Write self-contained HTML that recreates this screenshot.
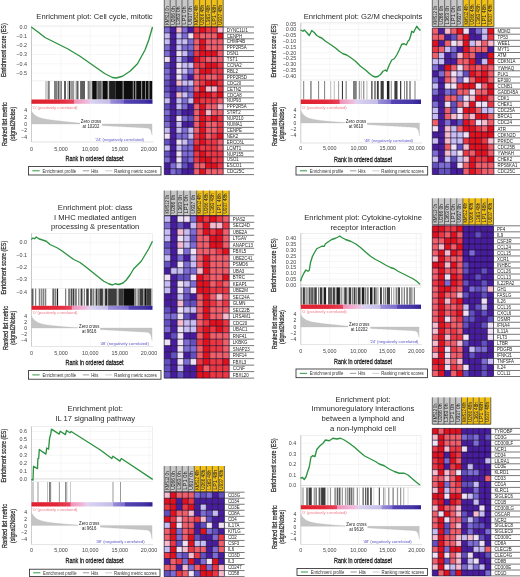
<!DOCTYPE html><html><head><meta charset="utf-8"><style>html,body{margin:0;padding:0;background:#fff;}svg{display:block;will-change:transform;filter:blur(0.3px);font-family:"Liberation Sans",sans-serif;}</style></head><body>
<svg width="520" height="577" viewBox="0 0 520 577">
<rect x="0" y="0" width="520" height="577" fill="#fff"/>
<text x="94.50" y="18.70" font-size="7.65" fill="#2a2a2a" text-anchor="middle" >Enrichment plot: Cell cycle, mitotic</text>
<rect x="31.50" y="25.90" width="121.00" height="55.00" fill="#fff" stroke="#e4e4e4" stroke-width="0.6"/>
<line x1="60.90" y1="25.90" x2="60.90" y2="80.90" stroke="#f0f0f0" stroke-width="0.6"/>
<line x1="90.30" y1="25.90" x2="90.30" y2="80.90" stroke="#f0f0f0" stroke-width="0.6"/>
<line x1="119.70" y1="25.90" x2="119.70" y2="80.90" stroke="#f0f0f0" stroke-width="0.6"/>
<line x1="149.10" y1="25.90" x2="149.10" y2="80.90" stroke="#f0f0f0" stroke-width="0.6"/>
<line x1="31.50" y1="26.60" x2="152.50" y2="26.60" stroke="#f0f0f0" stroke-width="0.6"/>
<text x="27.00" y="28.50" font-size="5.4" fill="#444" text-anchor="end" >0.0</text>
<line x1="31.50" y1="35.90" x2="152.50" y2="35.90" stroke="#f0f0f0" stroke-width="0.6"/>
<text x="27.00" y="37.80" font-size="5.4" fill="#444" text-anchor="end" >−0.1</text>
<line x1="31.50" y1="45.20" x2="152.50" y2="45.20" stroke="#f0f0f0" stroke-width="0.6"/>
<text x="27.00" y="47.10" font-size="5.4" fill="#444" text-anchor="end" >−0.2</text>
<line x1="31.50" y1="54.50" x2="152.50" y2="54.50" stroke="#f0f0f0" stroke-width="0.6"/>
<text x="27.00" y="56.40" font-size="5.4" fill="#444" text-anchor="end" >−0.3</text>
<line x1="31.50" y1="63.80" x2="152.50" y2="63.80" stroke="#f0f0f0" stroke-width="0.6"/>
<text x="27.00" y="65.70" font-size="5.4" fill="#444" text-anchor="end" >−0.4</text>
<line x1="31.50" y1="73.10" x2="152.50" y2="73.10" stroke="#f0f0f0" stroke-width="0.6"/>
<text x="27.00" y="75.00" font-size="5.4" fill="#444" text-anchor="end" >−0.5</text>
<line x1="31.50" y1="25.90" x2="31.50" y2="142.00" stroke="#b8b8b8" stroke-width="0.7"/>
<polyline points="31.25,27.00 38.00,32.00 45.00,37.50 55.00,42.50 67.50,48.75 80.00,56.25 92.50,65.00 105.00,73.75 112.50,77.50 116.25,78.00 122.50,76.25 130.00,71.25 137.50,63.75 145.00,50.00 148.75,40.00 152.50,27.00" fill="none" stroke="#2c9440" stroke-width="1.35" stroke-linejoin="round"/>
<rect x="45.00" y="81.00" width="2.50" height="18.50" fill="#cfcfcf"/>
<rect x="47.75" y="81.00" width="2.00" height="18.50" fill="#808080"/>
<rect x="54.00" y="81.00" width="3.00" height="18.50" fill="#808080"/>
<rect x="57.50" y="81.00" width="2.00" height="18.50" fill="#5e5e5e"/>
<rect x="60.25" y="81.00" width="1.75" height="18.50" fill="#808080"/>
<rect x="64.00" y="81.00" width="2.00" height="18.50" fill="#5e5e5e"/>
<rect x="67.20" y="81.00" width="1.10" height="18.50" fill="#b4b4b4"/>
<rect x="68.80" y="81.00" width="1.10" height="18.50" fill="#0e0e0e"/>
<rect x="70.20" y="81.00" width="4.00" height="18.50" fill="#999"/>
<rect x="75.00" y="81.00" width="0.80" height="18.50" fill="#cfcfcf"/>
<rect x="76.40" y="81.00" width="2.10" height="18.50" fill="#5e5e5e"/>
<rect x="80.10" y="81.00" width="4.90" height="18.50" fill="#5e5e5e"/>
<rect x="87.60" y="81.00" width="2.20" height="18.50" fill="#808080"/>
<rect x="89.80" y="81.00" width="2.00" height="18.50" fill="#b4b4b4"/>
<rect x="92.20" y="81.00" width="4.60" height="18.50" fill="#0e0e0e"/>
<rect x="96.80" y="81.00" width="1.20" height="18.50" fill="#808080"/>
<rect x="98.00" y="81.00" width="3.70" height="18.50" fill="#5e5e5e"/>
<rect x="101.70" y="81.00" width="1.20" height="18.50" fill="#808080"/>
<rect x="102.90" y="81.00" width="4.90" height="18.50" fill="#0e0e0e"/>
<rect x="107.80" y="81.00" width="1.30" height="18.50" fill="#b4b4b4"/>
<rect x="109.10" y="81.00" width="6.70" height="18.50" fill="#1e1e1e"/>
<rect x="115.80" y="81.00" width="7.00" height="18.50" fill="#0e0e0e"/>
<rect x="122.80" y="81.00" width="0.80" height="18.50" fill="#808080"/>
<rect x="123.60" y="81.00" width="9.30" height="18.50" fill="#0e0e0e"/>
<rect x="132.90" y="81.00" width="1.00" height="18.50" fill="#808080"/>
<rect x="133.90" y="81.00" width="1.60" height="18.50" fill="#0e0e0e"/>
<rect x="135.50" y="81.00" width="0.70" height="18.50" fill="#808080"/>
<rect x="136.20" y="81.00" width="5.20" height="18.50" fill="#0e0e0e"/>
<rect x="141.40" y="81.00" width="0.70" height="18.50" fill="#808080"/>
<rect x="142.10" y="81.00" width="3.00" height="18.50" fill="#0e0e0e"/>
<rect x="145.10" y="81.00" width="0.70" height="18.50" fill="#808080"/>
<rect x="145.80" y="81.00" width="2.90" height="18.50" fill="#0e0e0e"/>
<rect x="148.70" y="81.00" width="0.70" height="18.50" fill="#808080"/>
<rect x="149.40" y="81.00" width="2.90" height="18.50" fill="#0e0e0e"/>
<defs><linearGradient id="p1cb" x1="0" x2="1" y1="0" y2="0"><stop offset="0" stop-color="#e0202e"/><stop offset="0.22749999999999998" stop-color="#e2283a"/><stop offset="0.35" stop-color="#e6445c"/><stop offset="0.355" stop-color="#f090b8"/><stop offset="0.48" stop-color="#eec4e2"/><stop offset="0.485" stop-color="#dcd4f2"/><stop offset="0.65" stop-color="#c4bce6"/><stop offset="0.655" stop-color="#9a90d8"/><stop offset="0.76" stop-color="#7c6ccc"/><stop offset="0.765" stop-color="#5444b4"/><stop offset="0.93" stop-color="#4434a4"/><stop offset="1" stop-color="#30209a"/></linearGradient></defs>
<rect x="31.50" y="99.50" width="121.00" height="4.30" fill="url(#p1cb)"/>
<text x="32.50" y="108.90" font-size="4.2" fill="#f07888" text-anchor="start" >'0' (positively correlated)</text>
<line x1="31.50" y1="142.00" x2="153.50" y2="142.00" stroke="#d0d0d0" stroke-width="0.6"/>
<line x1="60.90" y1="103.80" x2="60.90" y2="142.00" stroke="#f0f0f0" stroke-width="0.5"/>
<line x1="90.30" y1="103.80" x2="90.30" y2="142.00" stroke="#f0f0f0" stroke-width="0.5"/>
<line x1="119.70" y1="103.80" x2="119.70" y2="142.00" stroke="#f0f0f0" stroke-width="0.5"/>
<polygon points="31.50,124.00 31.50,111.08 31.90,111.72 32.30,112.30 32.71,112.84 33.11,113.33 33.51,113.78 33.91,114.19 34.31,114.58 34.71,114.93 35.12,115.25 35.52,115.56 35.92,115.83 36.32,116.09 36.72,116.33 37.13,116.55 37.53,116.75 37.93,116.95 38.33,117.13 38.73,117.29 39.13,117.45 39.54,117.60 39.94,117.73 40.34,117.86 40.74,117.99 41.14,118.10 41.55,118.21 41.95,118.32 42.35,118.42 42.75,118.51 43.15,118.60 43.55,118.69 43.96,118.77 44.36,118.85 44.76,118.93 45.16,119.01 45.56,119.08 45.96,119.15 46.37,119.22 46.77,119.28 47.17,119.35 47.57,119.41 47.97,119.47 48.38,119.53 48.78,119.59 49.18,119.65 49.58,119.71 49.98,119.77 50.38,119.82 50.79,119.88 51.19,119.93 51.59,119.98 51.99,120.04 52.39,120.09 52.80,120.14 53.20,120.19 53.60,120.24 54.00,120.29 54.40,120.34 54.80,120.39 55.21,120.44 55.61,120.49 56.01,120.54 56.41,120.59 56.81,120.64 57.22,120.69 57.62,120.73 58.02,120.78 58.42,120.83 58.82,120.87 59.22,120.92 59.63,120.97 60.03,121.01 60.43,121.06 60.83,121.11 61.23,121.15 61.63,121.20 62.04,121.24 62.44,121.29 62.84,121.33 63.24,121.38 63.64,121.42 64.05,121.47 64.45,121.51 64.85,121.56 65.25,121.60 65.65,121.65 66.05,121.69 66.46,121.74 66.86,121.78 67.26,121.82 67.66,121.87 68.06,121.91 68.47,121.95 68.87,121.99 69.27,122.04 69.67,122.08 70.07,122.12 70.47,122.16 70.88,122.21 71.28,122.25 71.68,122.29 72.08,122.33 72.48,122.37 72.89,122.41 73.29,122.46 73.69,122.50 74.09,122.54 74.49,122.58 74.89,122.62 75.30,122.66 75.70,122.70 76.10,122.74 76.50,122.78 76.90,122.82 77.31,122.86 77.71,122.89 78.11,122.93 78.51,122.97 78.91,123.01 79.31,123.05 79.72,123.08 80.12,123.12 80.52,123.16 80.92,123.20 81.32,123.23 81.72,123.27 82.13,123.30 82.53,123.34 82.93,123.38 83.33,123.41 83.73,123.45 84.14,123.48 84.54,123.51 84.94,123.55 85.34,123.58 85.74,123.61 86.14,123.65 86.55,123.68 86.95,123.71 87.35,123.74 87.75,123.77 88.15,123.80 88.56,123.83 88.96,123.86 89.36,123.88 89.76,123.91 90.16,123.93 90.56,123.96 90.97,123.98 91.37,124.00 91.77,125.04 92.17,125.06 92.57,125.08 92.98,125.10 93.38,125.12 93.78,125.14 94.18,125.16 94.58,125.19 94.98,125.21 95.39,125.23 95.79,125.25 96.19,125.27 96.59,125.29 96.99,125.31 97.40,125.34 97.80,125.36 98.20,125.38 98.60,125.40 99.00,125.42 99.40,125.44 99.81,125.46 100.21,125.49 100.61,125.51 101.01,125.53 101.41,125.55 101.81,125.57 102.22,125.59 102.62,125.61 103.02,125.64 103.42,125.66 103.82,125.68 104.23,125.70 104.63,125.72 105.03,125.74 105.43,125.76 105.83,125.79 106.23,125.81 106.64,125.83 107.04,125.85 107.44,125.87 107.84,125.89 108.24,125.91 108.65,125.94 109.05,125.96 109.45,125.98 109.85,126.00 110.25,126.02 110.65,126.04 111.06,126.06 111.46,126.09 111.86,126.11 112.26,126.13 112.66,126.15 113.07,126.17 113.47,126.19 113.87,126.21 114.27,126.24 114.67,126.26 115.07,126.28 115.48,126.30 115.88,126.32 116.28,126.34 116.68,126.36 117.08,126.39 117.49,126.41 117.89,126.43 118.29,126.45 118.69,126.47 119.09,126.49 119.49,126.51 119.90,126.54 120.30,126.56 120.70,126.58 121.10,126.60 121.50,126.62 121.91,126.64 122.31,126.66 122.71,126.69 123.11,126.71 123.51,126.73 123.91,126.75 124.32,126.77 124.72,126.79 125.12,126.81 125.52,126.84 125.92,126.86 126.32,126.88 126.73,126.90 127.13,126.92 127.53,126.94 127.93,126.96 128.33,126.99 128.74,127.01 129.14,127.03 129.54,127.05 129.94,127.07 130.34,127.09 130.74,127.11 131.15,127.14 131.55,127.16 131.95,127.18 132.35,127.20 132.75,127.22 133.16,127.24 133.56,127.26 133.96,127.29 134.36,127.31 134.76,127.33 135.16,127.35 135.57,127.37 135.97,127.39 136.37,127.41 136.77,127.44 137.17,127.46 137.58,127.48 137.98,127.50 138.38,127.52 138.78,127.54 139.18,127.56 139.58,127.59 139.99,127.61 140.39,127.63 140.79,127.65 141.19,127.67 141.59,127.69 141.99,127.72 142.40,127.74 142.80,127.76 143.20,127.78 143.60,127.81 144.00,127.83 144.41,127.85 144.81,127.88 145.21,127.91 145.61,127.94 146.01,127.97 146.41,128.01 146.82,128.05 147.22,128.11 147.62,128.17 148.02,128.26 148.42,128.37 148.83,128.52 149.23,128.72 149.63,129.00 150.03,129.37 150.43,129.90 150.83,130.63 151.24,131.64 151.64,133.06 152.04,135.05 152.04,124.00" fill="#c4c4c4" stroke="#bbb" stroke-width="0.3"/>
<text x="27.00" y="112.40" font-size="5.0" fill="#333" text-anchor="end" >4</text>
<text x="27.00" y="119.05" font-size="5.0" fill="#333" text-anchor="end" >2</text>
<text x="27.00" y="125.70" font-size="5.0" fill="#333" text-anchor="end" >0</text>
<text x="27.00" y="132.35" font-size="5.0" fill="#333" text-anchor="end" >−2</text>
<text x="27.00" y="139.00" font-size="5.0" fill="#333" text-anchor="end" >−4</text>
<rect x="80.00" y="117.90" width="22" height="10.6" fill="#fff"/>
<text transform="translate(91.00,122.50) scale(0.8,1)" font-size="5.4" fill="#222" text-anchor="middle">Zero cross</text>
<text transform="translate(91.00,127.70) scale(0.8,1)" font-size="5.4" fill="#222" text-anchor="middle">at 10202</text>
<text x="144.00" y="141.30" font-size="4.2" fill="#5a54c8" text-anchor="end" >'24' (negatively correlated)</text>
<text x="31.50" y="151.10" font-size="5.4" fill="#444" text-anchor="middle" >0</text>
<text x="60.90" y="151.10" font-size="5.4" fill="#444" text-anchor="middle" >5,000</text>
<text x="90.30" y="151.10" font-size="5.4" fill="#444" text-anchor="middle" >10,000</text>
<text x="119.70" y="151.10" font-size="5.4" fill="#444" text-anchor="middle" >15,000</text>
<text x="149.10" y="151.10" font-size="5.4" fill="#444" text-anchor="middle" >20,000</text>
<text transform="translate(94.60,161.40) scale(0.68,1)" font-size="8" fill="#222" stroke="#222" stroke-width="0.3" text-anchor="middle">Rank in ordered dataset</text>
<text transform="translate(6.00,50.20) rotate(-90) scale(0.67,1)" font-size="8" fill="#2a2a2a" stroke="#2a2a2a" stroke-width="0.25" text-anchor="middle">Enrichment score (ES)</text>
<text transform="translate(6.80,124.20) rotate(-90) scale(0.69,1)" font-size="8" fill="#2a2a2a" stroke="#2a2a2a" stroke-width="0.25" text-anchor="middle">Ranked list metric</text>
<text transform="translate(14.50,123.70) rotate(-90) scale(0.665,1)" font-size="8" fill="#2a2a2a" stroke="#2a2a2a" stroke-width="0.25" text-anchor="middle">(signal2Noise)</text>
<rect x="28.50" y="166.60" width="132.50" height="8.40" fill="#fff" stroke="#222" stroke-width="0.8"/>
<line x1="32.34" y1="170.80" x2="39.63" y2="170.80" stroke="#2e9a44" stroke-width="1"/>
<text transform="translate(42.41,172.50) scale(0.87,1)" font-size="4.8" fill="#333">Enrichment profile</text>
<line x1="82.82" y1="170.80" x2="89.19" y2="170.80" stroke="#555" stroke-width="0.6"/>
<text transform="translate(91.17,172.50) scale(0.87,1)" font-size="4.8" fill="#333">Hits</text>
<line x1="105.35" y1="170.80" x2="112.37" y2="170.80" stroke="#aaa" stroke-width="0.6"/>
<text transform="translate(114.36,172.50) scale(0.9,1)" font-size="4.8" fill="#333">Ranking metric scores</text>
<text x="363.00" y="18.50" font-size="7.65" fill="#2a2a2a" text-anchor="middle" >Enrichment plot: G2/M checkpoints</text>
<rect x="300.80" y="22.80" width="120.20" height="57.20" fill="#fff" stroke="#e4e4e4" stroke-width="0.6"/>
<line x1="329.75" y1="22.80" x2="329.75" y2="80.00" stroke="#f0f0f0" stroke-width="0.6"/>
<line x1="358.70" y1="22.80" x2="358.70" y2="80.00" stroke="#f0f0f0" stroke-width="0.6"/>
<line x1="387.65" y1="22.80" x2="387.65" y2="80.00" stroke="#f0f0f0" stroke-width="0.6"/>
<line x1="416.60" y1="22.80" x2="416.60" y2="80.00" stroke="#f0f0f0" stroke-width="0.6"/>
<line x1="300.80" y1="23.75" x2="421.00" y2="23.75" stroke="#f0f0f0" stroke-width="0.6"/>
<text x="296.30" y="25.65" font-size="5.4" fill="#444" text-anchor="end" >0.05</text>
<line x1="300.80" y1="29.54" x2="421.00" y2="29.54" stroke="#f0f0f0" stroke-width="0.6"/>
<text x="296.30" y="31.44" font-size="5.4" fill="#444" text-anchor="end" >0.00</text>
<line x1="300.80" y1="35.34" x2="421.00" y2="35.34" stroke="#f0f0f0" stroke-width="0.6"/>
<text x="296.30" y="37.24" font-size="5.4" fill="#444" text-anchor="end" >−0.05</text>
<line x1="300.80" y1="41.13" x2="421.00" y2="41.13" stroke="#f0f0f0" stroke-width="0.6"/>
<text x="296.30" y="43.03" font-size="5.4" fill="#444" text-anchor="end" >−0.10</text>
<line x1="300.80" y1="46.93" x2="421.00" y2="46.93" stroke="#f0f0f0" stroke-width="0.6"/>
<text x="296.30" y="48.83" font-size="5.4" fill="#444" text-anchor="end" >−0.15</text>
<line x1="300.80" y1="52.72" x2="421.00" y2="52.72" stroke="#f0f0f0" stroke-width="0.6"/>
<text x="296.30" y="54.62" font-size="5.4" fill="#444" text-anchor="end" >−0.20</text>
<line x1="300.80" y1="58.51" x2="421.00" y2="58.51" stroke="#f0f0f0" stroke-width="0.6"/>
<text x="296.30" y="60.41" font-size="5.4" fill="#444" text-anchor="end" >−0.25</text>
<line x1="300.80" y1="64.31" x2="421.00" y2="64.31" stroke="#f0f0f0" stroke-width="0.6"/>
<text x="296.30" y="66.21" font-size="5.4" fill="#444" text-anchor="end" >−0.30</text>
<line x1="300.80" y1="70.10" x2="421.00" y2="70.10" stroke="#f0f0f0" stroke-width="0.6"/>
<text x="296.30" y="72.00" font-size="5.4" fill="#444" text-anchor="end" >−0.35</text>
<line x1="300.80" y1="75.90" x2="421.00" y2="75.90" stroke="#f0f0f0" stroke-width="0.6"/>
<text x="296.30" y="77.80" font-size="5.4" fill="#444" text-anchor="end" >−0.40</text>
<line x1="300.80" y1="22.80" x2="300.80" y2="143.00" stroke="#b8b8b8" stroke-width="0.7"/>
<polyline points="300.50,30.00 303.00,31.25 304.25,30.00 306.75,32.50 309.25,35.50 311.75,30.50 314.25,32.50 316.75,35.50 319.25,37.00 321.75,38.00 325.50,41.25 330.50,44.50 335.50,48.00 339.25,51.25 343.00,53.75 346.75,55.00 350.50,57.50 355.50,61.25 360.50,66.25 365.50,70.00 370.50,74.50 373.00,76.25 375.50,77.00 378.00,76.50 380.50,74.50 383.00,71.25 385.50,70.00 386.75,71.25 389.25,65.00 391.75,60.00 394.25,58.75 396.75,55.00 399.25,50.00 401.75,44.25 404.25,43.75 406.25,45.00 408.00,41.25 409.25,40.00 410.50,36.25 411.75,31.25 413.50,32.50 414.75,30.00 416.75,26.25 418.50,28.75 420.50,30.50" fill="none" stroke="#2c9440" stroke-width="1.35" stroke-linejoin="round"/>
<rect x="303.20" y="81.00" width="1.00" height="18.50" fill="#808080"/>
<rect x="310.40" y="81.00" width="1.10" height="18.50" fill="#5e5e5e"/>
<rect x="318.10" y="81.00" width="1.00" height="18.50" fill="#808080"/>
<rect x="324.10" y="81.00" width="1.00" height="18.50" fill="#808080"/>
<rect x="330.30" y="81.00" width="0.90" height="18.50" fill="#b4b4b4"/>
<rect x="333.80" y="81.00" width="0.90" height="18.50" fill="#b4b4b4"/>
<rect x="338.10" y="81.00" width="1.00" height="18.50" fill="#999"/>
<rect x="341.90" y="81.00" width="1.10" height="18.50" fill="#3c3c3c"/>
<rect x="345.60" y="81.00" width="1.10" height="18.50" fill="#808080"/>
<rect x="353.00" y="81.00" width="3.75" height="18.50" fill="#808080"/>
<rect x="358.80" y="81.00" width="1.00" height="18.50" fill="#808080"/>
<rect x="360.80" y="81.00" width="0.90" height="18.50" fill="#b4b4b4"/>
<rect x="363.20" y="81.00" width="1.10" height="18.50" fill="#808080"/>
<rect x="366.50" y="81.00" width="0.90" height="18.50" fill="#b4b4b4"/>
<rect x="371.25" y="81.00" width="1.25" height="18.50" fill="#3c3c3c"/>
<rect x="374.50" y="81.00" width="1.00" height="18.50" fill="#1e1e1e"/>
<rect x="376.90" y="81.00" width="1.85" height="18.50" fill="#3c3c3c"/>
<rect x="380.60" y="81.00" width="3.15" height="18.50" fill="#3c3c3c"/>
<rect x="386.90" y="81.00" width="2.50" height="18.50" fill="#1e1e1e"/>
<rect x="390.80" y="81.00" width="0.90" height="18.50" fill="#808080"/>
<rect x="394.40" y="81.00" width="3.10" height="18.50" fill="#3c3c3c"/>
<rect x="400.00" y="81.00" width="1.25" height="18.50" fill="#3c3c3c"/>
<rect x="404.00" y="81.00" width="0.90" height="18.50" fill="#808080"/>
<rect x="406.40" y="81.00" width="1.00" height="18.50" fill="#3c3c3c"/>
<rect x="409.50" y="81.00" width="1.00" height="18.50" fill="#3c3c3c"/>
<rect x="414.50" y="81.00" width="1.00" height="18.50" fill="#808080"/>
<defs><linearGradient id="p2cb" x1="0" x2="1" y1="0" y2="0"><stop offset="0" stop-color="#e0202e"/><stop offset="0.20800000000000002" stop-color="#e2283a"/><stop offset="0.32" stop-color="#e6445c"/><stop offset="0.325" stop-color="#f090b8"/><stop offset="0.45" stop-color="#eec4e2"/><stop offset="0.455" stop-color="#dcd4f2"/><stop offset="0.64" stop-color="#c4bce6"/><stop offset="0.645" stop-color="#9a90d8"/><stop offset="0.75" stop-color="#7c6ccc"/><stop offset="0.755" stop-color="#5444b4"/><stop offset="0.93" stop-color="#4434a4"/><stop offset="1" stop-color="#30209a"/></linearGradient></defs>
<rect x="300.80" y="99.50" width="120.20" height="4.50" fill="url(#p2cb)"/>
<text x="301.80" y="109.40" font-size="4.2" fill="#f07888" text-anchor="start" >'0' (positively correlated)</text>
<line x1="300.80" y1="143.00" x2="422.00" y2="143.00" stroke="#d0d0d0" stroke-width="0.6"/>
<line x1="329.75" y1="104.00" x2="329.75" y2="143.00" stroke="#f0f0f0" stroke-width="0.5"/>
<line x1="358.70" y1="104.00" x2="358.70" y2="143.00" stroke="#f0f0f0" stroke-width="0.5"/>
<line x1="387.65" y1="104.00" x2="387.65" y2="143.00" stroke="#f0f0f0" stroke-width="0.5"/>
<polygon points="300.80,123.00 300.80,110.84 301.20,111.55 301.59,112.20 301.99,112.79 302.38,113.34 302.78,113.84 303.17,114.31 303.57,114.73 303.97,115.12 304.36,115.48 304.76,115.82 305.15,116.12 305.55,116.41 305.94,116.67 306.34,116.91 306.73,117.14 307.13,117.35 307.53,117.54 307.92,117.73 308.32,117.90 308.71,118.05 309.11,118.20 309.50,118.34 309.90,118.47 310.30,118.60 310.69,118.71 311.09,118.82 311.48,118.93 311.88,119.02 312.27,119.12 312.67,119.21 313.07,119.29 313.46,119.37 313.86,119.45 314.25,119.53 314.65,119.60 315.04,119.67 315.44,119.73 315.83,119.80 316.23,119.86 316.63,119.92 317.02,119.98 317.42,120.04 317.81,120.09 318.21,120.15 318.60,120.20 319.00,120.25 319.40,120.30 319.79,120.35 320.19,120.40 320.58,120.45 320.98,120.50 321.37,120.54 321.77,120.59 322.17,120.63 322.56,120.68 322.96,120.72 323.35,120.76 323.75,120.81 324.14,120.85 324.54,120.89 324.93,120.93 325.33,120.97 325.73,121.01 326.12,121.05 326.52,121.09 326.91,121.13 327.31,121.17 327.70,121.21 328.10,121.24 328.50,121.28 328.89,121.32 329.29,121.35 329.68,121.39 330.08,121.43 330.47,121.46 330.87,121.50 331.27,121.53 331.66,121.57 332.06,121.60 332.45,121.64 332.85,121.67 333.24,121.70 333.64,121.74 334.03,121.77 334.43,121.80 334.83,121.84 335.22,121.87 335.62,121.90 336.01,121.93 336.41,121.96 336.80,121.99 337.20,122.02 337.60,122.05 337.99,122.08 338.39,122.11 338.78,122.14 339.18,122.17 339.57,122.20 339.97,122.23 340.37,122.25 340.76,122.28 341.16,122.31 341.55,122.34 341.95,122.36 342.34,122.39 342.74,122.41 343.13,122.44 343.53,122.46 343.93,122.49 344.32,122.51 344.72,122.54 345.11,122.56 345.51,122.58 345.90,122.60 346.30,122.63 346.70,122.65 347.09,122.67 347.49,122.69 347.88,122.71 348.28,122.73 348.67,122.75 349.07,122.77 349.46,122.79 349.86,122.80 350.26,122.82 350.65,122.84 351.05,122.86 351.44,122.87 351.84,122.89 352.23,122.90 352.63,122.91 353.03,122.93 353.42,122.94 353.82,122.95 354.21,122.96 354.61,122.97 355.00,122.98 355.40,122.99 355.80,122.99 356.19,123.00 356.59,123.97 356.98,123.99 357.38,124.01 357.77,124.04 358.17,124.06 358.56,124.08 358.96,124.11 359.36,124.13 359.75,124.15 360.15,124.18 360.54,124.20 360.94,124.22 361.33,124.25 361.73,124.27 362.13,124.29 362.52,124.31 362.92,124.34 363.31,124.36 363.71,124.38 364.10,124.41 364.50,124.43 364.90,124.45 365.29,124.48 365.69,124.50 366.08,124.52 366.48,124.55 366.87,124.57 367.27,124.59 367.66,124.62 368.06,124.64 368.46,124.66 368.85,124.68 369.25,124.71 369.64,124.73 370.04,124.75 370.43,124.78 370.83,124.80 371.23,124.82 371.62,124.85 372.02,124.87 372.41,124.89 372.81,124.92 373.20,124.94 373.60,124.96 374.00,124.98 374.39,125.01 374.79,125.03 375.18,125.05 375.58,125.08 375.97,125.10 376.37,125.12 376.76,125.15 377.16,125.17 377.56,125.19 377.95,125.22 378.35,125.24 378.74,125.26 379.14,125.28 379.53,125.31 379.93,125.33 380.33,125.35 380.72,125.38 381.12,125.40 381.51,125.42 381.91,125.45 382.30,125.47 382.70,125.49 383.10,125.52 383.49,125.54 383.89,125.56 384.28,125.58 384.68,125.61 385.07,125.63 385.47,125.65 385.86,125.68 386.26,125.70 386.66,125.72 387.05,125.75 387.45,125.77 387.84,125.79 388.24,125.82 388.63,125.84 389.03,125.86 389.43,125.89 389.82,125.91 390.22,125.93 390.61,125.95 391.01,125.98 391.40,126.00 391.80,126.02 392.20,126.05 392.59,126.07 392.99,126.09 393.38,126.12 393.78,126.14 394.17,126.16 394.57,126.19 394.96,126.21 395.36,126.23 395.76,126.25 396.15,126.28 396.55,126.30 396.94,126.32 397.34,126.35 397.73,126.37 398.13,126.39 398.53,126.42 398.92,126.44 399.32,126.46 399.71,126.49 400.11,126.51 400.50,126.53 400.90,126.55 401.30,126.58 401.69,126.60 402.09,126.62 402.48,126.65 402.88,126.67 403.27,126.69 403.67,126.72 404.06,126.74 404.46,126.76 404.86,126.79 405.25,126.81 405.65,126.83 406.04,126.85 406.44,126.88 406.83,126.90 407.23,126.92 407.63,126.95 408.02,126.97 408.42,126.99 408.81,127.02 409.21,127.04 409.60,127.06 410.00,127.09 410.40,127.11 410.79,127.14 411.19,127.16 411.58,127.19 411.98,127.21 412.37,127.24 412.77,127.27 413.16,127.31 413.56,127.34 413.96,127.39 414.35,127.44 414.75,127.50 415.14,127.58 415.54,127.68 415.93,127.82 416.33,128.00 416.73,128.24 417.12,128.57 417.52,129.03 417.91,129.67 418.31,130.56 418.70,131.79 419.10,133.53 419.50,135.96 419.50,123.00" fill="#c4c4c4" stroke="#bbb" stroke-width="0.3"/>
<text x="296.30" y="111.80" font-size="5.0" fill="#333" text-anchor="end" >4</text>
<text x="296.30" y="118.20" font-size="5.0" fill="#333" text-anchor="end" >2</text>
<text x="296.30" y="124.60" font-size="5.0" fill="#333" text-anchor="end" >0</text>
<text x="296.30" y="131.00" font-size="5.0" fill="#333" text-anchor="end" >−2</text>
<text x="296.30" y="137.40" font-size="5.0" fill="#333" text-anchor="end" >−4</text>
<rect x="345.00" y="118.60" width="22" height="10.6" fill="#fff"/>
<text transform="translate(356.00,123.20) scale(0.8,1)" font-size="5.4" fill="#222" text-anchor="middle">Zero cross</text>
<text transform="translate(356.00,128.40) scale(0.8,1)" font-size="5.4" fill="#222" text-anchor="middle">at 9610</text>
<text x="413.00" y="141.50" font-size="4.2" fill="#5a54c8" text-anchor="end" >'48' (negatively correlated)</text>
<text x="300.80" y="150.00" font-size="5.4" fill="#444" text-anchor="middle" >0</text>
<text x="329.75" y="150.00" font-size="5.4" fill="#444" text-anchor="middle" >5,000</text>
<text x="358.70" y="150.00" font-size="5.4" fill="#444" text-anchor="middle" >10,000</text>
<text x="387.65" y="150.00" font-size="5.4" fill="#444" text-anchor="middle" >15,000</text>
<text x="416.60" y="150.00" font-size="5.4" fill="#444" text-anchor="middle" >20,000</text>
<text transform="translate(363.00,161.50) scale(0.68,1)" font-size="8" fill="#222" stroke="#222" stroke-width="0.3" text-anchor="middle">Rank in ordered dataset</text>
<text transform="translate(276.20,50.60) rotate(-90) scale(0.67,1)" font-size="8" fill="#2a2a2a" stroke="#2a2a2a" stroke-width="0.25" text-anchor="middle">Enrichment score (ES)</text>
<text transform="translate(276.70,124.20) rotate(-90) scale(0.69,1)" font-size="8" fill="#2a2a2a" stroke="#2a2a2a" stroke-width="0.25" text-anchor="middle">Ranked list metric</text>
<text transform="translate(283.50,124.00) rotate(-90) scale(0.665,1)" font-size="8" fill="#2a2a2a" stroke="#2a2a2a" stroke-width="0.25" text-anchor="middle">(signal2Noise)</text>
<rect x="296.00" y="166.60" width="131.70" height="8.40" fill="#fff" stroke="#222" stroke-width="0.8"/>
<line x1="299.82" y1="170.80" x2="307.06" y2="170.80" stroke="#2e9a44" stroke-width="1"/>
<text transform="translate(309.83,172.50) scale(0.87,1)" font-size="4.8" fill="#333">Enrichment profile</text>
<line x1="350.00" y1="170.80" x2="356.32" y2="170.80" stroke="#555" stroke-width="0.6"/>
<text transform="translate(358.29,172.50) scale(0.87,1)" font-size="4.8" fill="#333">Hits</text>
<line x1="372.39" y1="170.80" x2="379.37" y2="170.80" stroke="#aaa" stroke-width="0.6"/>
<text transform="translate(381.34,172.50) scale(0.9,1)" font-size="4.8" fill="#333">Ranking metric scores</text>
<text x="95.20" y="210.30" font-size="7.65" fill="#2a2a2a" text-anchor="middle" >Enrichment plot: class</text>
<text x="95.20" y="219.60" font-size="7.65" fill="#2a2a2a" text-anchor="middle" >I MHC mediated antigen</text>
<text x="95.20" y="228.50" font-size="7.65" fill="#2a2a2a" text-anchor="middle" >processing &amp; presentation</text>
<rect x="31.50" y="233.30" width="121.00" height="55.30" fill="#fff" stroke="#e4e4e4" stroke-width="0.6"/>
<line x1="60.90" y1="233.30" x2="60.90" y2="288.60" stroke="#f0f0f0" stroke-width="0.6"/>
<line x1="90.30" y1="233.30" x2="90.30" y2="288.60" stroke="#f0f0f0" stroke-width="0.6"/>
<line x1="119.70" y1="233.30" x2="119.70" y2="288.60" stroke="#f0f0f0" stroke-width="0.6"/>
<line x1="149.10" y1="233.30" x2="149.10" y2="288.60" stroke="#f0f0f0" stroke-width="0.6"/>
<line x1="31.50" y1="242.30" x2="152.50" y2="242.30" stroke="#f0f0f0" stroke-width="0.6"/>
<text x="27.00" y="244.20" font-size="5.4" fill="#444" text-anchor="end" >0.0</text>
<line x1="31.50" y1="254.73" x2="152.50" y2="254.73" stroke="#f0f0f0" stroke-width="0.6"/>
<text x="27.00" y="256.63" font-size="5.4" fill="#444" text-anchor="end" >−0.1</text>
<line x1="31.50" y1="267.16" x2="152.50" y2="267.16" stroke="#f0f0f0" stroke-width="0.6"/>
<text x="27.00" y="269.06" font-size="5.4" fill="#444" text-anchor="end" >−0.2</text>
<line x1="31.50" y1="279.59" x2="152.50" y2="279.59" stroke="#f0f0f0" stroke-width="0.6"/>
<text x="27.00" y="281.49" font-size="5.4" fill="#444" text-anchor="end" >−0.3</text>
<text x="27.00" y="293.92" font-size="5.4" fill="#444" text-anchor="end" >−0.4</text>
<line x1="31.50" y1="233.30" x2="31.50" y2="346.60" stroke="#b8b8b8" stroke-width="0.7"/>
<polyline points="31.25,239.50 33.00,238.00 34.50,238.75 36.25,237.00 38.75,238.75 42.50,240.00 46.25,241.25 50.00,244.50 53.75,246.25 57.50,248.00 62.50,251.25 67.50,255.00 73.75,259.50 80.00,262.50 85.00,266.25 91.25,271.25 97.50,276.25 103.75,281.25 108.75,283.75 112.50,285.00 115.00,283.75 118.75,284.50 123.00,283.00 126.25,280.00 130.00,275.00 133.75,268.75 137.50,265.00 141.25,261.25 145.00,255.00 148.75,248.75 152.50,241.25" fill="none" stroke="#2c9440" stroke-width="1.35" stroke-linejoin="round"/>
<rect x="31.50" y="288.60" width="2.00" height="17.20" fill="#5e5e5e"/>
<rect x="35.00" y="288.60" width="1.25" height="17.20" fill="#808080"/>
<rect x="38.75" y="288.60" width="1.25" height="17.20" fill="#808080"/>
<rect x="40.60" y="288.60" width="1.30" height="17.20" fill="#808080"/>
<rect x="42.50" y="288.60" width="1.90" height="17.20" fill="#808080"/>
<rect x="45.00" y="288.60" width="1.25" height="17.20" fill="#808080"/>
<rect x="52.50" y="288.60" width="1.25" height="17.20" fill="#3c3c3c"/>
<rect x="54.40" y="288.60" width="1.85" height="17.20" fill="#808080"/>
<rect x="56.90" y="288.60" width="1.20" height="17.20" fill="#1e1e1e"/>
<rect x="65.00" y="288.60" width="1.25" height="17.20" fill="#808080"/>
<rect x="68.10" y="288.60" width="1.90" height="17.20" fill="#808080"/>
<rect x="70.60" y="288.60" width="1.30" height="17.20" fill="#3c3c3c"/>
<rect x="72.50" y="288.60" width="1.90" height="17.20" fill="#3c3c3c"/>
<rect x="75.00" y="288.60" width="1.90" height="17.20" fill="#808080"/>
<rect x="78.10" y="288.60" width="1.30" height="17.20" fill="#808080"/>
<rect x="80.60" y="288.60" width="1.90" height="17.20" fill="#3c3c3c"/>
<rect x="83.75" y="288.60" width="1.25" height="17.20" fill="#808080"/>
<rect x="86.25" y="288.60" width="2.50" height="17.20" fill="#3c3c3c"/>
<rect x="90.00" y="288.60" width="2.50" height="17.20" fill="#5e5e5e"/>
<rect x="93.00" y="288.60" width="1.40" height="17.20" fill="#808080"/>
<rect x="95.60" y="288.60" width="1.90" height="17.20" fill="#3c3c3c"/>
<rect x="98.00" y="288.60" width="2.00" height="17.20" fill="#808080"/>
<rect x="100.00" y="288.60" width="2.90" height="17.20" fill="#3c3c3c"/>
<rect x="103.20" y="288.60" width="1.70" height="17.20" fill="#b4b4b4"/>
<rect x="105.20" y="288.60" width="1.70" height="17.20" fill="#0e0e0e"/>
<rect x="107.20" y="288.60" width="0.90" height="17.20" fill="#808080"/>
<rect x="108.10" y="288.60" width="8.70" height="17.20" fill="#3c3c3c"/>
<rect x="117.00" y="288.60" width="1.50" height="17.20" fill="#b4b4b4"/>
<rect x="118.50" y="288.60" width="5.20" height="17.20" fill="#3c3c3c"/>
<rect x="123.70" y="288.60" width="10.40" height="17.20" fill="#0e0e0e"/>
<rect x="134.10" y="288.60" width="2.30" height="17.20" fill="#808080"/>
<rect x="136.70" y="288.60" width="0.90" height="17.20" fill="#b4b4b4"/>
<rect x="137.60" y="288.60" width="2.30" height="17.20" fill="#808080"/>
<rect x="139.90" y="288.60" width="3.40" height="17.20" fill="#3c3c3c"/>
<rect x="143.30" y="288.60" width="1.20" height="17.20" fill="#808080"/>
<rect x="144.50" y="288.60" width="1.70" height="17.20" fill="#0e0e0e"/>
<rect x="146.20" y="288.60" width="5.20" height="17.20" fill="#3c3c3c"/>
<rect x="151.40" y="288.60" width="1.20" height="17.20" fill="#b4b4b4"/>
<defs><linearGradient id="p3cb" x1="0" x2="1" y1="0" y2="0"><stop offset="0" stop-color="#e0202e"/><stop offset="0.21450000000000002" stop-color="#e2283a"/><stop offset="0.33" stop-color="#e6445c"/><stop offset="0.335" stop-color="#f090b8"/><stop offset="0.47" stop-color="#eec4e2"/><stop offset="0.475" stop-color="#dcd4f2"/><stop offset="0.63" stop-color="#c4bce6"/><stop offset="0.635" stop-color="#9a90d8"/><stop offset="0.8" stop-color="#7c6ccc"/><stop offset="0.805" stop-color="#5444b4"/><stop offset="0.93" stop-color="#4434a4"/><stop offset="1" stop-color="#30209a"/></linearGradient></defs>
<rect x="31.50" y="305.80" width="121.00" height="4.00" fill="url(#p3cb)"/>
<text x="32.50" y="313.90" font-size="4.2" fill="#f07888" text-anchor="start" >'0' (positively correlated)</text>
<line x1="31.50" y1="346.60" x2="153.50" y2="346.60" stroke="#d0d0d0" stroke-width="0.6"/>
<line x1="60.90" y1="309.80" x2="60.90" y2="346.60" stroke="#f0f0f0" stroke-width="0.5"/>
<line x1="90.30" y1="309.80" x2="90.30" y2="346.60" stroke="#f0f0f0" stroke-width="0.5"/>
<line x1="119.70" y1="309.80" x2="119.70" y2="346.60" stroke="#f0f0f0" stroke-width="0.5"/>
<polygon points="31.50,328.00 31.50,316.22 31.90,316.91 32.30,317.54 32.71,318.11 33.11,318.64 33.51,319.13 33.91,319.58 34.31,319.99 34.71,320.37 35.12,320.72 35.52,321.04 35.92,321.34 36.32,321.61 36.72,321.87 37.13,322.10 37.53,322.32 37.93,322.53 38.33,322.71 38.73,322.89 39.13,323.06 39.54,323.21 39.94,323.35 40.34,323.49 40.74,323.61 41.14,323.73 41.55,323.85 41.95,323.95 42.35,324.05 42.75,324.15 43.15,324.24 43.55,324.32 43.96,324.41 44.36,324.49 44.76,324.56 45.16,324.63 45.56,324.70 45.96,324.77 46.37,324.83 46.77,324.90 47.17,324.96 47.57,325.02 47.97,325.07 48.38,325.13 48.78,325.18 49.18,325.23 49.58,325.29 49.98,325.34 50.38,325.39 50.79,325.43 51.19,325.48 51.59,325.53 51.99,325.57 52.39,325.62 52.80,325.66 53.20,325.70 53.60,325.75 54.00,325.79 54.40,325.83 54.80,325.87 55.21,325.91 55.61,325.95 56.01,325.99 56.41,326.03 56.81,326.07 57.22,326.11 57.62,326.15 58.02,326.19 58.42,326.22 58.82,326.26 59.22,326.30 59.63,326.33 60.03,326.37 60.43,326.40 60.83,326.44 61.23,326.47 61.63,326.51 62.04,326.54 62.44,326.58 62.84,326.61 63.24,326.64 63.64,326.68 64.05,326.71 64.45,326.74 64.85,326.78 65.25,326.81 65.65,326.84 66.05,326.87 66.46,326.90 66.86,326.93 67.26,326.96 67.66,326.99 68.06,327.02 68.47,327.05 68.87,327.08 69.27,327.11 69.67,327.14 70.07,327.17 70.47,327.19 70.88,327.22 71.28,327.25 71.68,327.28 72.08,327.30 72.48,327.33 72.89,327.35 73.29,327.38 73.69,327.40 74.09,327.43 74.49,327.45 74.89,327.48 75.30,327.50 75.70,327.53 76.10,327.55 76.50,327.57 76.90,327.59 77.31,327.62 77.71,327.64 78.11,327.66 78.51,327.68 78.91,327.70 79.31,327.72 79.72,327.74 80.12,327.76 80.52,327.77 80.92,327.79 81.32,327.81 81.72,327.83 82.13,327.84 82.53,327.86 82.93,327.87 83.33,327.89 83.73,327.90 84.14,327.92 84.54,327.93 84.94,327.94 85.34,327.95 85.74,327.96 86.14,327.97 86.55,327.98 86.95,327.99 87.35,327.99 87.75,328.00 88.15,328.94 88.56,328.96 88.96,328.98 89.36,329.00 89.76,329.03 90.16,329.05 90.56,329.07 90.97,329.09 91.37,329.12 91.77,329.14 92.17,329.16 92.57,329.18 92.98,329.20 93.38,329.23 93.78,329.25 94.18,329.27 94.58,329.29 94.98,329.32 95.39,329.34 95.79,329.36 96.19,329.38 96.59,329.41 96.99,329.43 97.40,329.45 97.80,329.47 98.20,329.50 98.60,329.52 99.00,329.54 99.40,329.56 99.81,329.59 100.21,329.61 100.61,329.63 101.01,329.65 101.41,329.67 101.81,329.70 102.22,329.72 102.62,329.74 103.02,329.76 103.42,329.79 103.82,329.81 104.23,329.83 104.63,329.85 105.03,329.88 105.43,329.90 105.83,329.92 106.23,329.94 106.64,329.97 107.04,329.99 107.44,330.01 107.84,330.03 108.24,330.06 108.65,330.08 109.05,330.10 109.45,330.12 109.85,330.14 110.25,330.17 110.65,330.19 111.06,330.21 111.46,330.23 111.86,330.26 112.26,330.28 112.66,330.30 113.07,330.32 113.47,330.35 113.87,330.37 114.27,330.39 114.67,330.41 115.07,330.44 115.48,330.46 115.88,330.48 116.28,330.50 116.68,330.53 117.08,330.55 117.49,330.57 117.89,330.59 118.29,330.61 118.69,330.64 119.09,330.66 119.49,330.68 119.90,330.70 120.30,330.73 120.70,330.75 121.10,330.77 121.50,330.79 121.91,330.82 122.31,330.84 122.71,330.86 123.11,330.88 123.51,330.91 123.91,330.93 124.32,330.95 124.72,330.97 125.12,331.00 125.52,331.02 125.92,331.04 126.32,331.06 126.73,331.08 127.13,331.11 127.53,331.13 127.93,331.15 128.33,331.17 128.74,331.20 129.14,331.22 129.54,331.24 129.94,331.26 130.34,331.29 130.74,331.31 131.15,331.33 131.55,331.35 131.95,331.38 132.35,331.40 132.75,331.42 133.16,331.44 133.56,331.47 133.96,331.49 134.36,331.51 134.76,331.53 135.16,331.55 135.57,331.58 135.97,331.60 136.37,331.62 136.77,331.64 137.17,331.67 137.58,331.69 137.98,331.71 138.38,331.73 138.78,331.76 139.18,331.78 139.58,331.80 139.99,331.82 140.39,331.85 140.79,331.87 141.19,331.89 141.59,331.91 141.99,331.94 142.40,331.96 142.80,331.98 143.20,332.01 143.60,332.03 144.00,332.06 144.41,332.08 144.81,332.11 145.21,332.14 145.61,332.17 146.01,332.21 146.41,332.25 146.82,332.30 147.22,332.36 147.62,332.44 148.02,332.54 148.42,332.67 148.83,332.84 149.23,333.08 149.63,333.40 150.03,333.84 150.43,334.46 150.83,335.32 151.24,336.52 151.64,338.20 152.04,340.56 152.04,328.00" fill="#c4c4c4" stroke="#bbb" stroke-width="0.3"/>
<text x="27.00" y="317.60" font-size="5.0" fill="#333" text-anchor="end" >4</text>
<text x="27.00" y="323.78" font-size="5.0" fill="#333" text-anchor="end" >2</text>
<text x="27.00" y="329.96" font-size="5.0" fill="#333" text-anchor="end" >0</text>
<text x="27.00" y="336.14" font-size="5.0" fill="#333" text-anchor="end" >−2</text>
<text x="27.00" y="342.32" font-size="5.0" fill="#333" text-anchor="end" >−4</text>
<rect x="78.20" y="323.00" width="22" height="10.6" fill="#fff"/>
<text transform="translate(89.20,327.60) scale(0.8,1)" font-size="5.4" fill="#222" text-anchor="middle">Zero cross</text>
<text transform="translate(89.20,332.80) scale(0.8,1)" font-size="5.4" fill="#222" text-anchor="middle">at 9616</text>
<text x="148.80" y="345.30" font-size="4.2" fill="#5a54c8" text-anchor="end" >'48' (negatively correlated)</text>
<text x="31.50" y="354.90" font-size="5.4" fill="#444" text-anchor="middle" >0</text>
<text x="60.90" y="354.90" font-size="5.4" fill="#444" text-anchor="middle" >5,000</text>
<text x="90.30" y="354.90" font-size="5.4" fill="#444" text-anchor="middle" >10,000</text>
<text x="119.70" y="354.90" font-size="5.4" fill="#444" text-anchor="middle" >15,000</text>
<text x="149.10" y="354.90" font-size="5.4" fill="#444" text-anchor="middle" >20,000</text>
<text transform="translate(94.60,365.40) scale(0.68,1)" font-size="8" fill="#222" stroke="#222" stroke-width="0.3" text-anchor="middle">Rank in ordered dataset</text>
<text transform="translate(6.00,267.70) rotate(-90) scale(0.67,1)" font-size="8" fill="#2a2a2a" stroke="#2a2a2a" stroke-width="0.25" text-anchor="middle">Enrichment score (ES)</text>
<text transform="translate(7.50,328.00) rotate(-90) scale(0.69,1)" font-size="8" fill="#2a2a2a" stroke="#2a2a2a" stroke-width="0.25" text-anchor="middle">Ranked list metric</text>
<text transform="translate(14.70,327.70) rotate(-90) scale(0.665,1)" font-size="8" fill="#2a2a2a" stroke="#2a2a2a" stroke-width="0.25" text-anchor="middle">(signal2Noise)</text>
<rect x="28.50" y="370.60" width="132.50" height="8.60" fill="#fff" stroke="#222" stroke-width="0.8"/>
<line x1="32.34" y1="374.90" x2="39.63" y2="374.90" stroke="#2e9a44" stroke-width="1"/>
<text transform="translate(42.41,376.60) scale(0.87,1)" font-size="4.8" fill="#333">Enrichment profile</text>
<line x1="82.82" y1="374.90" x2="89.19" y2="374.90" stroke="#555" stroke-width="0.6"/>
<text transform="translate(91.17,376.60) scale(0.87,1)" font-size="4.8" fill="#333">Hits</text>
<line x1="105.35" y1="374.90" x2="112.37" y2="374.90" stroke="#aaa" stroke-width="0.6"/>
<text transform="translate(114.36,376.60) scale(0.9,1)" font-size="4.8" fill="#333">Ranking metric scores</text>
<text x="363.10" y="219.50" font-size="7.65" fill="#2a2a2a" text-anchor="middle" >Enrichment plot: Cytokine-cytokine</text>
<text x="363.10" y="229.50" font-size="7.65" fill="#2a2a2a" text-anchor="middle" >receptor interaction</text>
<rect x="300.80" y="233.30" width="120.20" height="54.10" fill="#fff" stroke="#e4e4e4" stroke-width="0.6"/>
<line x1="329.65" y1="233.30" x2="329.65" y2="287.40" stroke="#f0f0f0" stroke-width="0.6"/>
<line x1="358.50" y1="233.30" x2="358.50" y2="287.40" stroke="#f0f0f0" stroke-width="0.6"/>
<line x1="387.35" y1="233.30" x2="387.35" y2="287.40" stroke="#f0f0f0" stroke-width="0.6"/>
<line x1="416.20" y1="233.30" x2="416.20" y2="287.40" stroke="#f0f0f0" stroke-width="0.6"/>
<line x1="300.80" y1="238.20" x2="421.00" y2="238.20" stroke="#f0f0f0" stroke-width="0.6"/>
<text x="296.30" y="240.10" font-size="5.4" fill="#444" text-anchor="end" >0.40</text>
<line x1="300.80" y1="244.06" x2="421.00" y2="244.06" stroke="#f0f0f0" stroke-width="0.6"/>
<text x="296.30" y="245.96" font-size="5.4" fill="#444" text-anchor="end" >0.35</text>
<line x1="300.80" y1="249.92" x2="421.00" y2="249.92" stroke="#f0f0f0" stroke-width="0.6"/>
<text x="296.30" y="251.82" font-size="5.4" fill="#444" text-anchor="end" >0.30</text>
<line x1="300.80" y1="255.78" x2="421.00" y2="255.78" stroke="#f0f0f0" stroke-width="0.6"/>
<text x="296.30" y="257.68" font-size="5.4" fill="#444" text-anchor="end" >0.25</text>
<line x1="300.80" y1="261.64" x2="421.00" y2="261.64" stroke="#f0f0f0" stroke-width="0.6"/>
<text x="296.30" y="263.54" font-size="5.4" fill="#444" text-anchor="end" >0.20</text>
<line x1="300.80" y1="267.50" x2="421.00" y2="267.50" stroke="#f0f0f0" stroke-width="0.6"/>
<text x="296.30" y="269.40" font-size="5.4" fill="#444" text-anchor="end" >0.15</text>
<line x1="300.80" y1="273.36" x2="421.00" y2="273.36" stroke="#f0f0f0" stroke-width="0.6"/>
<text x="296.30" y="275.26" font-size="5.4" fill="#444" text-anchor="end" >0.10</text>
<line x1="300.80" y1="279.22" x2="421.00" y2="279.22" stroke="#f0f0f0" stroke-width="0.6"/>
<text x="296.30" y="281.12" font-size="5.4" fill="#444" text-anchor="end" >0.05</text>
<line x1="300.80" y1="285.08" x2="421.00" y2="285.08" stroke="#f0f0f0" stroke-width="0.6"/>
<text x="296.30" y="286.98" font-size="5.4" fill="#444" text-anchor="end" >0.00</text>
<line x1="300.80" y1="285.10" x2="421.00" y2="285.10" stroke="#d8d8d8" stroke-width="0.8"/>
<line x1="300.80" y1="233.30" x2="300.80" y2="344.60" stroke="#b8b8b8" stroke-width="0.7"/>
<polyline points="300.50,281.25 301.75,277.50 304.25,272.50 306.00,270.00 308.00,271.25 309.25,270.50 310.50,262.50 312.50,256.25 314.25,253.00 316.75,248.75 319.25,247.50 321.75,246.25 324.25,246.25 325.50,243.75 328.00,242.00 331.75,239.50 335.50,238.25 338.00,237.00 339.75,236.00 341.75,237.50 345.50,239.50 350.50,241.25 355.50,243.75 360.50,247.50 365.50,252.00 370.50,256.25 375.50,259.50 380.50,262.00 385.50,265.00 390.50,267.50 394.25,268.75 398.00,271.25 403.00,273.75 408.00,276.25 413.00,278.75 416.75,281.25 420.00,284.25" fill="none" stroke="#2c9440" stroke-width="1.35" stroke-linejoin="round"/>
<rect x="300.50" y="287.40" width="1.90" height="17.20" fill="#808080"/>
<rect x="303.00" y="287.40" width="1.90" height="17.20" fill="#3c3c3c"/>
<rect x="305.50" y="287.40" width="1.25" height="17.20" fill="#808080"/>
<rect x="307.40" y="287.40" width="1.20" height="17.20" fill="#808080"/>
<rect x="309.25" y="287.40" width="1.25" height="17.20" fill="#1e1e1e"/>
<rect x="311.10" y="287.40" width="2.50" height="17.20" fill="#5e5e5e"/>
<rect x="314.25" y="287.40" width="2.50" height="17.20" fill="#3c3c3c"/>
<rect x="318.00" y="287.40" width="1.25" height="17.20" fill="#808080"/>
<rect x="319.90" y="287.40" width="2.50" height="17.20" fill="#3c3c3c"/>
<rect x="323.60" y="287.40" width="2.50" height="17.20" fill="#1e1e1e"/>
<rect x="328.00" y="287.40" width="4.40" height="17.20" fill="#5e5e5e"/>
<rect x="333.00" y="287.40" width="1.90" height="17.20" fill="#3c3c3c"/>
<rect x="335.50" y="287.40" width="1.25" height="17.20" fill="#808080"/>
<rect x="336.75" y="287.40" width="3.15" height="17.20" fill="#1e1e1e"/>
<rect x="340.50" y="287.40" width="1.25" height="17.20" fill="#808080"/>
<rect x="342.40" y="287.40" width="1.20" height="17.20" fill="#b4b4b4"/>
<rect x="344.25" y="287.40" width="2.50" height="17.20" fill="#3c3c3c"/>
<rect x="347.20" y="287.40" width="0.70" height="17.20" fill="#b4b4b4"/>
<rect x="348.60" y="287.40" width="2.50" height="17.20" fill="#3c3c3c"/>
<rect x="351.75" y="287.40" width="1.25" height="17.20" fill="#808080"/>
<rect x="353.60" y="287.40" width="1.90" height="17.20" fill="#3c3c3c"/>
<rect x="356.10" y="287.40" width="1.30" height="17.20" fill="#808080"/>
<rect x="358.00" y="287.40" width="2.50" height="17.20" fill="#3c3c3c"/>
<rect x="360.60" y="287.40" width="0.65" height="17.20" fill="#808080"/>
<rect x="361.90" y="287.40" width="2.50" height="17.20" fill="#1e1e1e"/>
<rect x="365.00" y="287.40" width="1.25" height="17.20" fill="#808080"/>
<rect x="366.90" y="287.40" width="1.85" height="17.20" fill="#808080"/>
<rect x="370.00" y="287.40" width="2.50" height="17.20" fill="#1e1e1e"/>
<rect x="373.75" y="287.40" width="1.85" height="17.20" fill="#3c3c3c"/>
<rect x="376.25" y="287.40" width="1.25" height="17.20" fill="#808080"/>
<rect x="378.10" y="287.40" width="0.65" height="17.20" fill="#b4b4b4"/>
<rect x="380.00" y="287.40" width="1.90" height="17.20" fill="#3c3c3c"/>
<rect x="383.10" y="287.40" width="1.30" height="17.20" fill="#808080"/>
<rect x="385.00" y="287.40" width="1.25" height="17.20" fill="#808080"/>
<rect x="386.90" y="287.40" width="3.10" height="17.20" fill="#3c3c3c"/>
<rect x="391.00" y="287.40" width="0.80" height="17.20" fill="#808080"/>
<rect x="393.10" y="287.40" width="1.30" height="17.20" fill="#b4b4b4"/>
<rect x="395.60" y="287.40" width="1.90" height="17.20" fill="#808080"/>
<rect x="398.10" y="287.40" width="1.90" height="17.20" fill="#3c3c3c"/>
<rect x="401.25" y="287.40" width="1.25" height="17.20" fill="#808080"/>
<rect x="403.75" y="287.40" width="1.25" height="17.20" fill="#808080"/>
<rect x="406.25" y="287.40" width="1.85" height="17.20" fill="#808080"/>
<rect x="409.40" y="287.40" width="1.20" height="17.20" fill="#3c3c3c"/>
<rect x="411.25" y="287.40" width="1.25" height="17.20" fill="#808080"/>
<rect x="413.75" y="287.40" width="1.25" height="17.20" fill="#808080"/>
<defs><linearGradient id="p4cb" x1="0" x2="1" y1="0" y2="0"><stop offset="0" stop-color="#e0202e"/><stop offset="0.22749999999999998" stop-color="#e2283a"/><stop offset="0.35" stop-color="#e6445c"/><stop offset="0.355" stop-color="#f090b8"/><stop offset="0.5" stop-color="#eec4e2"/><stop offset="0.505" stop-color="#dcd4f2"/><stop offset="0.66" stop-color="#c4bce6"/><stop offset="0.665" stop-color="#9a90d8"/><stop offset="0.8" stop-color="#7c6ccc"/><stop offset="0.805" stop-color="#5444b4"/><stop offset="0.93" stop-color="#4434a4"/><stop offset="1" stop-color="#30209a"/></linearGradient></defs>
<rect x="300.80" y="304.60" width="120.20" height="4.30" fill="url(#p4cb)"/>
<text x="301.80" y="313.00" font-size="4.2" fill="#f07888" text-anchor="start" >'0' (positively correlated)</text>
<line x1="300.80" y1="344.60" x2="422.00" y2="344.60" stroke="#d0d0d0" stroke-width="0.6"/>
<line x1="329.65" y1="308.90" x2="329.65" y2="344.60" stroke="#f0f0f0" stroke-width="0.5"/>
<line x1="358.50" y1="308.90" x2="358.50" y2="344.60" stroke="#f0f0f0" stroke-width="0.5"/>
<line x1="387.35" y1="308.90" x2="387.35" y2="344.60" stroke="#f0f0f0" stroke-width="0.5"/>
<polygon points="300.80,327.00 300.80,314.84 301.19,315.44 301.59,315.99 301.98,316.49 302.38,316.96 302.77,317.38 303.17,317.77 303.56,318.13 303.95,318.46 304.35,318.77 304.74,319.05 305.14,319.31 305.53,319.55 305.93,319.78 306.32,319.99 306.71,320.18 307.11,320.36 307.50,320.53 307.90,320.69 308.29,320.83 308.69,320.97 309.08,321.10 309.47,321.23 309.87,321.34 310.26,321.45 310.66,321.55 311.05,321.65 311.45,321.75 311.84,321.83 312.23,321.92 312.63,322.00 313.02,322.08 313.42,322.16 313.81,322.23 314.21,322.30 314.60,322.37 314.99,322.43 315.39,322.50 315.78,322.56 316.18,322.62 316.57,322.68 316.97,322.74 317.36,322.80 317.75,322.85 318.15,322.91 318.54,322.96 318.94,323.01 319.33,323.07 319.73,323.12 320.12,323.17 320.51,323.22 320.91,323.27 321.30,323.32 321.70,323.37 322.09,323.42 322.49,323.46 322.88,323.51 323.27,323.56 323.67,323.61 324.06,323.65 324.46,323.70 324.85,323.74 325.25,323.79 325.64,323.84 326.03,323.88 326.43,323.93 326.82,323.97 327.22,324.01 327.61,324.06 328.01,324.10 328.40,324.15 328.79,324.19 329.19,324.23 329.58,324.28 329.98,324.32 330.37,324.36 330.77,324.41 331.16,324.45 331.55,324.49 331.95,324.53 332.34,324.58 332.74,324.62 333.13,324.66 333.53,324.70 333.92,324.74 334.31,324.79 334.71,324.83 335.10,324.87 335.50,324.91 335.89,324.95 336.29,324.99 336.68,325.03 337.07,325.07 337.47,325.11 337.86,325.15 338.26,325.19 338.65,325.23 339.05,325.27 339.44,325.31 339.83,325.35 340.23,325.39 340.62,325.43 341.02,325.47 341.41,325.51 341.81,325.55 342.20,325.58 342.59,325.62 342.99,325.66 343.38,325.70 343.78,325.74 344.17,325.77 344.57,325.81 344.96,325.85 345.35,325.89 345.75,325.92 346.14,325.96 346.54,326.00 346.93,326.03 347.33,326.07 347.72,326.10 348.11,326.14 348.51,326.17 348.90,326.21 349.30,326.24 349.69,326.28 350.09,326.31 350.48,326.35 350.87,326.38 351.27,326.41 351.66,326.45 352.06,326.48 352.45,326.51 352.85,326.54 353.24,326.57 353.63,326.60 354.03,326.64 354.42,326.67 354.82,326.70 355.21,326.73 355.61,326.75 356.00,326.78 356.39,326.81 356.79,326.84 357.18,326.86 357.58,326.89 357.97,326.91 358.37,326.94 358.76,326.96 359.15,326.98 359.55,327.00 359.94,327.97 360.34,327.99 360.73,328.01 361.13,328.03 361.52,328.05 361.91,328.08 362.31,328.10 362.70,328.12 363.10,328.14 363.49,328.16 363.89,328.18 364.28,328.20 364.67,328.22 365.07,328.24 365.46,328.26 365.86,328.28 366.25,328.30 366.65,328.32 367.04,328.34 367.43,328.36 367.83,328.38 368.22,328.40 368.62,328.42 369.01,328.44 369.41,328.46 369.80,328.48 370.19,328.50 370.59,328.52 370.98,328.54 371.38,328.56 371.77,328.58 372.17,328.60 372.56,328.62 372.95,328.64 373.35,328.66 373.74,328.68 374.14,328.70 374.53,328.72 374.93,328.74 375.32,328.76 375.71,328.78 376.11,328.80 376.50,328.82 376.90,328.84 377.29,328.86 377.69,328.88 378.08,328.90 378.47,328.92 378.87,328.94 379.26,328.96 379.66,328.98 380.05,329.00 380.45,329.02 380.84,329.04 381.23,329.06 381.63,329.08 382.02,329.10 382.42,329.12 382.81,329.14 383.21,329.16 383.60,329.18 383.99,329.20 384.39,329.22 384.78,329.25 385.18,329.27 385.57,329.29 385.97,329.31 386.36,329.33 386.75,329.35 387.15,329.37 387.54,329.39 387.94,329.41 388.33,329.43 388.73,329.45 389.12,329.47 389.51,329.49 389.91,329.51 390.30,329.53 390.70,329.55 391.09,329.57 391.49,329.59 391.88,329.61 392.27,329.63 392.67,329.65 393.06,329.67 393.46,329.69 393.85,329.71 394.25,329.73 394.64,329.75 395.03,329.77 395.43,329.79 395.82,329.81 396.22,329.83 396.61,329.85 397.01,329.87 397.40,329.89 397.79,329.91 398.19,329.93 398.58,329.95 398.98,329.97 399.37,329.99 399.77,330.01 400.16,330.03 400.55,330.05 400.95,330.07 401.34,330.09 401.74,330.11 402.13,330.13 402.53,330.15 402.92,330.17 403.31,330.19 403.71,330.21 404.10,330.23 404.50,330.25 404.89,330.27 405.29,330.29 405.68,330.31 406.07,330.33 406.47,330.35 406.86,330.37 407.26,330.40 407.65,330.42 408.05,330.44 408.44,330.46 408.83,330.48 409.23,330.50 409.62,330.52 410.02,330.54 410.41,330.56 410.81,330.58 411.20,330.60 411.59,330.63 411.99,330.65 412.38,330.68 412.78,330.70 413.17,330.74 413.57,330.77 413.96,330.81 414.35,330.86 414.75,330.93 415.14,331.01 415.54,331.11 415.93,331.25 416.33,331.44 416.72,331.70 417.11,332.06 417.51,332.55 417.90,333.24 418.30,334.19 418.69,335.53 419.09,337.40 419.09,327.00" fill="#c4c4c4" stroke="#bbb" stroke-width="0.3"/>
<text x="296.30" y="315.80" font-size="5.0" fill="#333" text-anchor="end" >4</text>
<text x="296.30" y="322.20" font-size="5.0" fill="#333" text-anchor="end" >2</text>
<text x="296.30" y="328.60" font-size="5.0" fill="#333" text-anchor="end" >0</text>
<text x="296.30" y="335.00" font-size="5.0" fill="#333" text-anchor="end" >−2</text>
<text x="296.30" y="341.40" font-size="5.0" fill="#333" text-anchor="end" >−4</text>
<rect x="348.20" y="321.40" width="22" height="10.6" fill="#fff"/>
<text transform="translate(359.20,326.00) scale(0.8,1)" font-size="5.4" fill="#222" text-anchor="middle">Zero cross</text>
<text transform="translate(359.20,331.20) scale(0.8,1)" font-size="5.4" fill="#222" text-anchor="middle">at 10202</text>
<text x="418.50" y="342.80" font-size="4.2" fill="#5a54c8" text-anchor="end" >'24' (negatively correlated)</text>
<text x="300.80" y="353.20" font-size="5.4" fill="#444" text-anchor="middle" >0</text>
<text x="329.65" y="353.20" font-size="5.4" fill="#444" text-anchor="middle" >5,000</text>
<text x="358.50" y="353.20" font-size="5.4" fill="#444" text-anchor="middle" >10,000</text>
<text x="387.35" y="353.20" font-size="5.4" fill="#444" text-anchor="middle" >15,000</text>
<text x="416.20" y="353.20" font-size="5.4" fill="#444" text-anchor="middle" >20,000</text>
<text transform="translate(363.00,364.10) scale(0.68,1)" font-size="8" fill="#222" stroke="#222" stroke-width="0.3" text-anchor="middle">Rank in ordered dataset</text>
<text transform="translate(276.00,265.30) rotate(-90) scale(0.67,1)" font-size="8" fill="#2a2a2a" stroke="#2a2a2a" stroke-width="0.25" text-anchor="middle">Enrichment score (ES)</text>
<text transform="translate(276.60,327.40) rotate(-90) scale(0.69,1)" font-size="8" fill="#2a2a2a" stroke="#2a2a2a" stroke-width="0.25" text-anchor="middle">Ranked list metric</text>
<text transform="translate(284.00,327.10) rotate(-90) scale(0.665,1)" font-size="8" fill="#2a2a2a" stroke="#2a2a2a" stroke-width="0.25" text-anchor="middle">(signal2Noise)</text>
<rect x="296.00" y="369.00" width="131.50" height="8.70" fill="#fff" stroke="#222" stroke-width="0.8"/>
<line x1="299.81" y1="373.35" x2="307.05" y2="373.35" stroke="#2e9a44" stroke-width="1"/>
<text transform="translate(309.81,375.05) scale(0.87,1)" font-size="4.8" fill="#333">Enrichment profile</text>
<line x1="349.92" y1="373.35" x2="356.23" y2="373.35" stroke="#555" stroke-width="0.6"/>
<text transform="translate(358.20,375.05) scale(0.87,1)" font-size="4.8" fill="#333">Hits</text>
<line x1="372.27" y1="373.35" x2="379.24" y2="373.35" stroke="#aaa" stroke-width="0.6"/>
<text transform="translate(381.21,375.05) scale(0.9,1)" font-size="4.8" fill="#333">Ranking metric scores</text>
<text x="95.20" y="411.20" font-size="7.65" fill="#2a2a2a" text-anchor="middle" >Enrichment plot:</text>
<text x="95.20" y="420.80" font-size="7.65" fill="#2a2a2a" text-anchor="middle" >IL 17 signaling pathway</text>
<rect x="31.50" y="426.60" width="121.00" height="55.00" fill="#fff" stroke="#e4e4e4" stroke-width="0.6"/>
<line x1="60.90" y1="426.60" x2="60.90" y2="481.60" stroke="#f0f0f0" stroke-width="0.6"/>
<line x1="90.30" y1="426.60" x2="90.30" y2="481.60" stroke="#f0f0f0" stroke-width="0.6"/>
<line x1="119.70" y1="426.60" x2="119.70" y2="481.60" stroke="#f0f0f0" stroke-width="0.6"/>
<line x1="149.10" y1="426.60" x2="149.10" y2="481.60" stroke="#f0f0f0" stroke-width="0.6"/>
<line x1="31.50" y1="431.50" x2="152.50" y2="431.50" stroke="#f0f0f0" stroke-width="0.6"/>
<text x="27.00" y="433.40" font-size="5.4" fill="#444" text-anchor="end" >0.6</text>
<line x1="31.50" y1="439.40" x2="152.50" y2="439.40" stroke="#f0f0f0" stroke-width="0.6"/>
<text x="27.00" y="441.30" font-size="5.4" fill="#444" text-anchor="end" >0.5</text>
<line x1="31.50" y1="447.30" x2="152.50" y2="447.30" stroke="#f0f0f0" stroke-width="0.6"/>
<text x="27.00" y="449.20" font-size="5.4" fill="#444" text-anchor="end" >0.4</text>
<line x1="31.50" y1="455.20" x2="152.50" y2="455.20" stroke="#f0f0f0" stroke-width="0.6"/>
<text x="27.00" y="457.10" font-size="5.4" fill="#444" text-anchor="end" >0.3</text>
<line x1="31.50" y1="463.10" x2="152.50" y2="463.10" stroke="#f0f0f0" stroke-width="0.6"/>
<text x="27.00" y="465.00" font-size="5.4" fill="#444" text-anchor="end" >0.2</text>
<line x1="31.50" y1="471.00" x2="152.50" y2="471.00" stroke="#f0f0f0" stroke-width="0.6"/>
<text x="27.00" y="472.90" font-size="5.4" fill="#444" text-anchor="end" >0.1</text>
<line x1="31.50" y1="478.90" x2="152.50" y2="478.90" stroke="#f0f0f0" stroke-width="0.6"/>
<text x="27.00" y="480.80" font-size="5.4" fill="#444" text-anchor="end" >0.0</text>
<line x1="31.50" y1="478.90" x2="152.50" y2="478.90" stroke="#d8d8d8" stroke-width="0.8"/>
<line x1="31.50" y1="426.60" x2="31.50" y2="544.60" stroke="#b8b8b8" stroke-width="0.7"/>
<polyline points="31.25,479.30 33.00,480.10 33.50,466.30 37.50,468.60 37.90,458.70 38.70,458.30 39.30,449.50 45.90,454.10 46.70,448.00 48.60,449.20 49.40,440.00 49.60,438.30 50.80,433.70 51.50,429.10 59.20,434.10 60.20,431.20 65.40,434.60 66.50,430.50 70.00,432.80 71.20,431.50 100.00,449.80 111.80,458.50 112.90,456.30 119.90,461.10 121.30,458.50 152.70,479.40" fill="none" stroke="#2c9440" stroke-width="1.35" stroke-linejoin="round"/>
<rect x="32.60" y="482.00" width="0.80" height="20.20" fill="#808080"/>
<rect x="37.60" y="482.00" width="0.80" height="20.20" fill="#808080"/>
<rect x="47.10" y="482.00" width="0.80" height="20.20" fill="#b4b4b4"/>
<rect x="49.10" y="482.00" width="0.80" height="20.20" fill="#5e5e5e"/>
<rect x="50.30" y="482.00" width="0.80" height="20.20" fill="#5e5e5e"/>
<rect x="58.90" y="482.00" width="0.80" height="20.20" fill="#808080"/>
<rect x="65.30" y="482.00" width="0.80" height="20.20" fill="#5e5e5e"/>
<rect x="66.50" y="482.00" width="0.70" height="20.20" fill="#808080"/>
<rect x="70.20" y="482.00" width="0.70" height="20.20" fill="#b4b4b4"/>
<rect x="112.60" y="482.00" width="0.80" height="20.20" fill="#808080"/>
<rect x="120.10" y="482.00" width="0.80" height="20.20" fill="#808080"/>
<defs><linearGradient id="p5cb" x1="0" x2="1" y1="0" y2="0"><stop offset="0" stop-color="#e0202e"/><stop offset="0.20800000000000002" stop-color="#e2283a"/><stop offset="0.32" stop-color="#e6445c"/><stop offset="0.325" stop-color="#f090b8"/><stop offset="0.45" stop-color="#eec4e2"/><stop offset="0.455" stop-color="#dcd4f2"/><stop offset="0.67" stop-color="#c4bce6"/><stop offset="0.675" stop-color="#9a90d8"/><stop offset="0.77" stop-color="#7c6ccc"/><stop offset="0.775" stop-color="#5444b4"/><stop offset="0.93" stop-color="#4434a4"/><stop offset="1" stop-color="#30209a"/></linearGradient></defs>
<rect x="31.50" y="502.20" width="121.00" height="4.30" fill="url(#p5cb)"/>
<text x="32.50" y="511.20" font-size="4.2" fill="#f07888" text-anchor="start" >'0' (positively correlated)</text>
<line x1="31.50" y1="544.60" x2="153.50" y2="544.60" stroke="#d0d0d0" stroke-width="0.6"/>
<line x1="60.90" y1="506.50" x2="60.90" y2="544.60" stroke="#f0f0f0" stroke-width="0.5"/>
<line x1="90.30" y1="506.50" x2="90.30" y2="544.60" stroke="#f0f0f0" stroke-width="0.5"/>
<line x1="119.70" y1="506.50" x2="119.70" y2="544.60" stroke="#f0f0f0" stroke-width="0.5"/>
<polygon points="31.50,525.40 31.50,512.48 31.90,513.23 32.30,513.92 32.71,514.56 33.11,515.14 33.51,515.67 33.91,516.16 34.31,516.61 34.71,517.03 35.12,517.41 35.52,517.77 35.92,518.09 36.32,518.40 36.72,518.67 37.13,518.93 37.53,519.17 37.93,519.40 38.33,519.60 38.73,519.80 39.13,519.98 39.54,520.14 39.94,520.30 40.34,520.45 40.74,520.59 41.14,520.72 41.55,520.84 41.95,520.96 42.35,521.07 42.75,521.17 43.15,521.27 43.55,521.37 43.96,521.46 44.36,521.55 44.76,521.63 45.16,521.71 45.56,521.78 45.96,521.86 46.37,521.93 46.77,522.00 47.17,522.06 47.57,522.13 47.97,522.19 48.38,522.25 48.78,522.31 49.18,522.37 49.58,522.42 49.98,522.48 50.38,522.53 50.79,522.58 51.19,522.64 51.59,522.69 51.99,522.74 52.39,522.79 52.80,522.84 53.20,522.88 53.60,522.93 54.00,522.98 54.40,523.02 54.80,523.07 55.21,523.11 55.61,523.16 56.01,523.20 56.41,523.24 56.81,523.29 57.22,523.33 57.62,523.37 58.02,523.41 58.42,523.45 58.82,523.49 59.22,523.53 59.63,523.57 60.03,523.61 60.43,523.65 60.83,523.69 61.23,523.73 61.63,523.77 62.04,523.80 62.44,523.84 62.84,523.88 63.24,523.91 63.64,523.95 64.05,523.99 64.45,524.02 64.85,524.06 65.25,524.09 65.65,524.13 66.05,524.16 66.46,524.19 66.86,524.23 67.26,524.26 67.66,524.29 68.06,524.33 68.47,524.36 68.87,524.39 69.27,524.42 69.67,524.45 70.07,524.49 70.47,524.52 70.88,524.55 71.28,524.58 71.68,524.61 72.08,524.63 72.48,524.66 72.89,524.69 73.29,524.72 73.69,524.75 74.09,524.77 74.49,524.80 74.89,524.83 75.30,524.85 75.70,524.88 76.10,524.90 76.50,524.93 76.90,524.95 77.31,524.98 77.71,525.00 78.11,525.02 78.51,525.05 78.91,525.07 79.31,525.09 79.72,525.11 80.12,525.13 80.52,525.15 80.92,525.17 81.32,525.19 81.72,525.21 82.13,525.23 82.53,525.24 82.93,525.26 83.33,525.28 83.73,525.29 84.14,525.31 84.54,525.32 84.94,525.33 85.34,525.35 85.74,525.36 86.14,525.37 86.55,525.38 86.95,525.39 87.35,525.39 87.75,525.40 88.15,526.43 88.56,526.45 88.96,526.48 89.36,526.50 89.76,526.53 90.16,526.55 90.56,526.57 90.97,526.60 91.37,526.62 91.77,526.65 92.17,526.67 92.57,526.70 92.98,526.72 93.38,526.75 93.78,526.77 94.18,526.80 94.58,526.82 94.98,526.84 95.39,526.87 95.79,526.89 96.19,526.92 96.59,526.94 96.99,526.97 97.40,526.99 97.80,527.02 98.20,527.04 98.60,527.07 99.00,527.09 99.40,527.11 99.81,527.14 100.21,527.16 100.61,527.19 101.01,527.21 101.41,527.24 101.81,527.26 102.22,527.29 102.62,527.31 103.02,527.34 103.42,527.36 103.82,527.38 104.23,527.41 104.63,527.43 105.03,527.46 105.43,527.48 105.83,527.51 106.23,527.53 106.64,527.56 107.04,527.58 107.44,527.61 107.84,527.63 108.24,527.65 108.65,527.68 109.05,527.70 109.45,527.73 109.85,527.75 110.25,527.78 110.65,527.80 111.06,527.83 111.46,527.85 111.86,527.88 112.26,527.90 112.66,527.92 113.07,527.95 113.47,527.97 113.87,528.00 114.27,528.02 114.67,528.05 115.07,528.07 115.48,528.10 115.88,528.12 116.28,528.15 116.68,528.17 117.08,528.19 117.49,528.22 117.89,528.24 118.29,528.27 118.69,528.29 119.09,528.32 119.49,528.34 119.90,528.37 120.30,528.39 120.70,528.42 121.10,528.44 121.50,528.46 121.91,528.49 122.31,528.51 122.71,528.54 123.11,528.56 123.51,528.59 123.91,528.61 124.32,528.64 124.72,528.66 125.12,528.69 125.52,528.71 125.92,528.73 126.32,528.76 126.73,528.78 127.13,528.81 127.53,528.83 127.93,528.86 128.33,528.88 128.74,528.91 129.14,528.93 129.54,528.96 129.94,528.98 130.34,529.00 130.74,529.03 131.15,529.05 131.55,529.08 131.95,529.10 132.35,529.13 132.75,529.15 133.16,529.18 133.56,529.20 133.96,529.23 134.36,529.25 134.76,529.27 135.16,529.30 135.57,529.32 135.97,529.35 136.37,529.37 136.77,529.40 137.17,529.42 137.58,529.45 137.98,529.47 138.38,529.50 138.78,529.52 139.18,529.54 139.58,529.57 139.99,529.59 140.39,529.62 140.79,529.64 141.19,529.67 141.59,529.69 141.99,529.72 142.40,529.74 142.80,529.77 143.20,529.79 143.60,529.82 144.00,529.85 144.41,529.88 144.81,529.91 145.21,529.94 145.61,529.97 146.01,530.01 146.41,530.06 146.82,530.11 147.22,530.18 147.62,530.27 148.02,530.37 148.42,530.52 148.83,530.71 149.23,530.97 149.63,531.32 150.03,531.81 150.43,532.49 150.83,533.43 151.24,534.74 151.64,536.59 152.04,539.17 152.04,525.40" fill="#c4c4c4" stroke="#bbb" stroke-width="0.3"/>
<text x="27.00" y="514.10" font-size="5.0" fill="#333" text-anchor="end" >4</text>
<text x="27.00" y="520.82" font-size="5.0" fill="#333" text-anchor="end" >2</text>
<text x="27.00" y="527.54" font-size="5.0" fill="#333" text-anchor="end" >0</text>
<text x="27.00" y="534.26" font-size="5.0" fill="#333" text-anchor="end" >−2</text>
<text x="27.00" y="540.98" font-size="5.0" fill="#333" text-anchor="end" >−4</text>
<rect x="78.20" y="519.90" width="22" height="10.6" fill="#fff"/>
<text transform="translate(89.20,524.50) scale(0.8,1)" font-size="5.4" fill="#222" text-anchor="middle">Zero cross</text>
<text transform="translate(89.20,529.70) scale(0.8,1)" font-size="5.4" fill="#222" text-anchor="middle">at 9616</text>
<text x="144.60" y="543.20" font-size="4.2" fill="#5a54c8" text-anchor="end" >'48' (negatively correlated)</text>
<text x="31.50" y="552.20" font-size="5.4" fill="#444" text-anchor="middle" >0</text>
<text x="60.90" y="552.20" font-size="5.4" fill="#444" text-anchor="middle" >5,000</text>
<text x="90.30" y="552.20" font-size="5.4" fill="#444" text-anchor="middle" >10,000</text>
<text x="119.70" y="552.20" font-size="5.4" fill="#444" text-anchor="middle" >15,000</text>
<text x="149.10" y="552.20" font-size="5.4" fill="#444" text-anchor="middle" >20,000</text>
<text transform="translate(94.60,563.40) scale(0.68,1)" font-size="8" fill="#222" stroke="#222" stroke-width="0.3" text-anchor="middle">Rank in ordered dataset</text>
<text transform="translate(6.00,455.70) rotate(-90) scale(0.67,1)" font-size="8" fill="#2a2a2a" stroke="#2a2a2a" stroke-width="0.25" text-anchor="middle">Enrichment score (ES)</text>
<text transform="translate(6.50,526.00) rotate(-90) scale(0.69,1)" font-size="8" fill="#2a2a2a" stroke="#2a2a2a" stroke-width="0.25" text-anchor="middle">Ranked list metric</text>
<text transform="translate(14.50,526.00) rotate(-90) scale(0.665,1)" font-size="8" fill="#2a2a2a" stroke="#2a2a2a" stroke-width="0.25" text-anchor="middle">(signal2Noise)</text>
<rect x="29.40" y="569.20" width="130.60" height="7.20" fill="#fff" stroke="#222" stroke-width="0.8"/>
<line x1="33.19" y1="572.80" x2="40.37" y2="572.80" stroke="#2e9a44" stroke-width="1"/>
<text transform="translate(43.11,574.50) scale(0.87,1)" font-size="4.8" fill="#333">Enrichment profile</text>
<line x1="82.95" y1="572.80" x2="89.21" y2="572.80" stroke="#555" stroke-width="0.6"/>
<text transform="translate(91.17,574.50) scale(0.87,1)" font-size="4.8" fill="#333">Hits</text>
<line x1="105.15" y1="572.80" x2="112.07" y2="572.80" stroke="#aaa" stroke-width="0.6"/>
<text transform="translate(114.03,574.50) scale(0.9,1)" font-size="4.8" fill="#333">Ranking metric scores</text>
<text x="363.00" y="402.10" font-size="7.65" fill="#2a2a2a" text-anchor="middle" >Enrichment plot:</text>
<text x="363.00" y="411.30" font-size="7.65" fill="#2a2a2a" text-anchor="middle" >Immunoregulatory interactions</text>
<text x="363.00" y="420.90" font-size="7.65" fill="#2a2a2a" text-anchor="middle" >between a lymphoid and</text>
<text x="363.00" y="430.50" font-size="7.65" fill="#2a2a2a" text-anchor="middle" >a non-lymphoid cell</text>
<rect x="300.80" y="435.50" width="120.20" height="52.10" fill="#fff" stroke="#e4e4e4" stroke-width="0.6"/>
<line x1="329.70" y1="435.50" x2="329.70" y2="487.60" stroke="#f0f0f0" stroke-width="0.6"/>
<line x1="358.60" y1="435.50" x2="358.60" y2="487.60" stroke="#f0f0f0" stroke-width="0.6"/>
<line x1="387.50" y1="435.50" x2="387.50" y2="487.60" stroke="#f0f0f0" stroke-width="0.6"/>
<line x1="416.40" y1="435.50" x2="416.40" y2="487.60" stroke="#f0f0f0" stroke-width="0.6"/>
<line x1="300.80" y1="443.40" x2="421.00" y2="443.40" stroke="#f0f0f0" stroke-width="0.6"/>
<text x="296.30" y="445.30" font-size="5.4" fill="#444" text-anchor="end" >0.4</text>
<line x1="300.80" y1="453.92" x2="421.00" y2="453.92" stroke="#f0f0f0" stroke-width="0.6"/>
<text x="296.30" y="455.82" font-size="5.4" fill="#444" text-anchor="end" >0.3</text>
<line x1="300.80" y1="464.44" x2="421.00" y2="464.44" stroke="#f0f0f0" stroke-width="0.6"/>
<text x="296.30" y="466.34" font-size="5.4" fill="#444" text-anchor="end" >0.2</text>
<line x1="300.80" y1="474.96" x2="421.00" y2="474.96" stroke="#f0f0f0" stroke-width="0.6"/>
<text x="296.30" y="476.86" font-size="5.4" fill="#444" text-anchor="end" >0.1</text>
<line x1="300.80" y1="485.48" x2="421.00" y2="485.48" stroke="#f0f0f0" stroke-width="0.6"/>
<text x="296.30" y="487.38" font-size="5.4" fill="#444" text-anchor="end" >0.0</text>
<line x1="300.80" y1="485.50" x2="421.00" y2="485.50" stroke="#d8d8d8" stroke-width="0.8"/>
<line x1="300.80" y1="435.50" x2="300.80" y2="544.50" stroke="#b8b8b8" stroke-width="0.7"/>
<polyline points="300.50,478.25 302.50,477.50 304.25,479.50 306.00,477.00 307.50,472.00 309.25,467.00 311.00,457.00 312.50,455.75 315.00,456.50 316.75,449.50 320.00,445.75 323.00,443.25 325.50,440.00 329.25,440.75 333.00,438.25 336.75,439.00 340.50,438.25 344.25,440.00 349.25,443.25 354.25,447.00 359.25,451.50 364.25,455.75 370.50,459.00 375.50,461.50 379.25,464.00 384.25,465.75 389.25,469.00 394.25,471.50 399.25,473.25 404.25,473.25 408.00,475.00 411.75,478.25 415.50,481.50 420.00,485.00" fill="none" stroke="#2c9440" stroke-width="1.35" stroke-linejoin="round"/>
<rect x="300.50" y="487.60" width="1.25" height="17.60" fill="#cfcfcf"/>
<rect x="302.40" y="487.60" width="1.20" height="17.60" fill="#999"/>
<rect x="306.10" y="487.60" width="1.90" height="17.60" fill="#808080"/>
<rect x="308.60" y="487.60" width="3.15" height="17.60" fill="#3c3c3c"/>
<rect x="313.60" y="487.60" width="1.30" height="17.60" fill="#999"/>
<rect x="315.50" y="487.60" width="1.25" height="17.60" fill="#5e5e5e"/>
<rect x="318.60" y="487.60" width="1.90" height="17.60" fill="#5e5e5e"/>
<rect x="321.10" y="487.60" width="4.40" height="17.60" fill="#3c3c3c"/>
<rect x="326.75" y="487.60" width="1.85" height="17.60" fill="#cfcfcf"/>
<rect x="329.90" y="487.60" width="1.20" height="17.60" fill="#999"/>
<rect x="334.25" y="487.60" width="1.85" height="17.60" fill="#999"/>
<rect x="336.75" y="487.60" width="1.25" height="17.60" fill="#5e5e5e"/>
<rect x="338.60" y="487.60" width="1.90" height="17.60" fill="#5e5e5e"/>
<rect x="341.75" y="487.60" width="1.25" height="17.60" fill="#999"/>
<rect x="344.90" y="487.60" width="1.20" height="17.60" fill="#999"/>
<rect x="346.75" y="487.60" width="1.25" height="17.60" fill="#999"/>
<rect x="348.60" y="487.60" width="1.90" height="17.60" fill="#5e5e5e"/>
<rect x="351.10" y="487.60" width="1.30" height="17.60" fill="#5e5e5e"/>
<rect x="353.00" y="487.60" width="1.25" height="17.60" fill="#999"/>
<rect x="356.75" y="487.60" width="1.25" height="17.60" fill="#999"/>
<rect x="359.00" y="487.60" width="0.80" height="17.60" fill="#cfcfcf"/>
<rect x="362.50" y="487.60" width="1.25" height="17.60" fill="#5e5e5e"/>
<rect x="365.00" y="487.60" width="1.25" height="17.60" fill="#5e5e5e"/>
<rect x="366.90" y="487.60" width="1.85" height="17.60" fill="#5e5e5e"/>
<rect x="370.00" y="487.60" width="1.90" height="17.60" fill="#5e5e5e"/>
<rect x="373.40" y="487.60" width="0.80" height="17.60" fill="#cfcfcf"/>
<rect x="378.75" y="487.60" width="1.25" height="17.60" fill="#5e5e5e"/>
<rect x="383.10" y="487.60" width="1.30" height="17.60" fill="#999"/>
<rect x="385.30" y="487.60" width="0.70" height="17.60" fill="#cfcfcf"/>
<rect x="388.10" y="487.60" width="1.30" height="17.60" fill="#999"/>
<rect x="392.50" y="487.60" width="1.25" height="17.60" fill="#808080"/>
<rect x="396.90" y="487.60" width="1.20" height="17.60" fill="#999"/>
<rect x="400.00" y="487.60" width="1.25" height="17.60" fill="#999"/>
<rect x="403.40" y="487.60" width="0.80" height="17.60" fill="#999"/>
<rect x="407.70" y="487.60" width="0.70" height="17.60" fill="#cfcfcf"/>
<defs><linearGradient id="p6cb" x1="0" x2="1" y1="0" y2="0"><stop offset="0" stop-color="#e0202e"/><stop offset="0.195" stop-color="#e2283a"/><stop offset="0.3" stop-color="#e6445c"/><stop offset="0.305" stop-color="#f090b8"/><stop offset="0.47" stop-color="#eec4e2"/><stop offset="0.475" stop-color="#dcd4f2"/><stop offset="0.67" stop-color="#c4bce6"/><stop offset="0.675" stop-color="#9a90d8"/><stop offset="0.76" stop-color="#7c6ccc"/><stop offset="0.765" stop-color="#5444b4"/><stop offset="0.93" stop-color="#4434a4"/><stop offset="1" stop-color="#30209a"/></linearGradient></defs>
<rect x="300.80" y="505.20" width="120.20" height="4.10" fill="url(#p6cb)"/>
<text x="301.80" y="513.70" font-size="4.2" fill="#f07888" text-anchor="start" >'0' (positively correlated)</text>
<line x1="300.80" y1="544.50" x2="422.00" y2="544.50" stroke="#d0d0d0" stroke-width="0.6"/>
<line x1="329.70" y1="509.30" x2="329.70" y2="544.50" stroke="#f0f0f0" stroke-width="0.5"/>
<line x1="358.60" y1="509.30" x2="358.60" y2="544.50" stroke="#f0f0f0" stroke-width="0.5"/>
<line x1="387.50" y1="509.30" x2="387.50" y2="544.50" stroke="#f0f0f0" stroke-width="0.5"/>
<polygon points="300.80,526.30 300.80,514.14 301.19,514.85 301.59,515.50 301.98,516.09 302.38,516.64 302.77,517.14 303.17,517.61 303.56,518.03 303.96,518.42 304.35,518.78 304.75,519.12 305.14,519.42 305.54,519.71 305.93,519.97 306.33,520.21 306.72,520.44 307.12,520.65 307.51,520.84 307.91,521.03 308.30,521.20 308.70,521.35 309.09,521.50 309.49,521.64 309.88,521.77 310.28,521.90 310.67,522.01 311.07,522.12 311.46,522.23 311.86,522.32 312.25,522.42 312.65,522.51 313.04,522.59 313.44,522.67 313.83,522.75 314.23,522.82 314.62,522.90 315.02,522.97 315.41,523.03 315.81,523.10 316.20,523.16 316.60,523.22 316.99,523.28 317.39,523.34 317.78,523.39 318.18,523.45 318.57,523.50 318.97,523.55 319.36,523.60 319.76,523.65 320.15,523.70 320.55,523.75 320.94,523.79 321.34,523.84 321.73,523.89 322.13,523.93 322.52,523.98 322.92,524.02 323.31,524.06 323.71,524.10 324.10,524.15 324.50,524.19 324.89,524.23 325.29,524.27 325.68,524.31 326.08,524.35 326.47,524.39 326.87,524.43 327.26,524.47 327.66,524.50 328.05,524.54 328.45,524.58 328.84,524.62 329.24,524.65 329.63,524.69 330.03,524.73 330.42,524.76 330.82,524.80 331.21,524.83 331.61,524.87 332.00,524.90 332.40,524.94 332.79,524.97 333.19,525.00 333.58,525.04 333.98,525.07 334.37,525.10 334.77,525.13 335.16,525.17 335.56,525.20 335.95,525.23 336.35,525.26 336.74,525.29 337.14,525.32 337.53,525.35 337.93,525.38 338.32,525.41 338.72,525.44 339.11,525.47 339.51,525.50 339.90,525.52 340.30,525.55 340.69,525.58 341.09,525.61 341.48,525.63 341.88,525.66 342.27,525.69 342.67,525.71 343.06,525.74 343.46,525.76 343.85,525.79 344.25,525.81 344.64,525.83 345.04,525.86 345.43,525.88 345.83,525.90 346.22,525.92 346.62,525.95 347.01,525.97 347.41,525.99 347.80,526.01 348.20,526.03 348.59,526.05 348.99,526.07 349.38,526.09 349.78,526.10 350.17,526.12 350.57,526.14 350.96,526.15 351.36,526.17 351.75,526.18 352.15,526.20 352.54,526.21 352.94,526.23 353.33,526.24 353.73,526.25 354.12,526.26 354.52,526.27 354.91,526.28 355.31,526.29 355.70,526.29 356.10,526.30 356.49,527.27 356.89,527.29 357.28,527.31 357.68,527.34 358.07,527.36 358.47,527.38 358.86,527.41 359.26,527.43 359.65,527.45 360.05,527.47 360.44,527.50 360.83,527.52 361.23,527.54 361.62,527.57 362.02,527.59 362.41,527.61 362.81,527.64 363.20,527.66 363.60,527.68 363.99,527.71 364.39,527.73 364.78,527.75 365.18,527.77 365.57,527.80 365.97,527.82 366.36,527.84 366.76,527.87 367.15,527.89 367.55,527.91 367.94,527.94 368.34,527.96 368.73,527.98 369.13,528.01 369.52,528.03 369.92,528.05 370.31,528.08 370.71,528.10 371.10,528.12 371.50,528.14 371.89,528.17 372.29,528.19 372.68,528.21 373.08,528.24 373.47,528.26 373.87,528.28 374.26,528.31 374.66,528.33 375.05,528.35 375.45,528.38 375.84,528.40 376.24,528.42 376.63,528.44 377.03,528.47 377.42,528.49 377.82,528.51 378.21,528.54 378.61,528.56 379.00,528.58 379.40,528.61 379.79,528.63 380.19,528.65 380.58,528.68 380.98,528.70 381.37,528.72 381.77,528.75 382.16,528.77 382.56,528.79 382.95,528.81 383.35,528.84 383.74,528.86 384.14,528.88 384.53,528.91 384.93,528.93 385.32,528.95 385.72,528.98 386.11,529.00 386.51,529.02 386.90,529.05 387.30,529.07 387.69,529.09 388.09,529.11 388.48,529.14 388.88,529.16 389.27,529.18 389.67,529.21 390.06,529.23 390.46,529.25 390.85,529.28 391.25,529.30 391.64,529.32 392.04,529.35 392.43,529.37 392.83,529.39 393.22,529.42 393.62,529.44 394.01,529.46 394.41,529.48 394.80,529.51 395.20,529.53 395.59,529.55 395.99,529.58 396.38,529.60 396.78,529.62 397.17,529.65 397.57,529.67 397.96,529.69 398.36,529.72 398.75,529.74 399.15,529.76 399.54,529.78 399.94,529.81 400.33,529.83 400.73,529.85 401.12,529.88 401.52,529.90 401.91,529.92 402.31,529.95 402.70,529.97 403.10,529.99 403.49,530.02 403.89,530.04 404.28,530.06 404.68,530.09 405.07,530.11 405.47,530.13 405.86,530.15 406.26,530.18 406.65,530.20 407.05,530.22 407.44,530.25 407.84,530.27 408.23,530.29 408.63,530.32 409.02,530.34 409.42,530.36 409.81,530.39 410.21,530.41 410.60,530.44 411.00,530.46 411.39,530.49 411.79,530.51 412.18,530.54 412.58,530.57 412.97,530.61 413.37,530.64 413.76,530.69 414.16,530.74 414.55,530.80 414.95,530.88 415.34,530.98 415.74,531.12 416.13,531.30 416.53,531.54 416.92,531.87 417.32,532.33 417.71,532.97 418.11,533.86 418.50,535.09 418.90,536.83 419.29,539.26 419.29,526.30" fill="#c4c4c4" stroke="#bbb" stroke-width="0.3"/>
<text x="296.30" y="515.80" font-size="5.0" fill="#333" text-anchor="end" >4</text>
<text x="296.30" y="522.20" font-size="5.0" fill="#333" text-anchor="end" >2</text>
<text x="296.30" y="528.60" font-size="5.0" fill="#333" text-anchor="end" >0</text>
<text x="296.30" y="535.00" font-size="5.0" fill="#333" text-anchor="end" >−2</text>
<text x="296.30" y="541.40" font-size="5.0" fill="#333" text-anchor="end" >−4</text>
<rect x="345.50" y="521.10" width="22" height="10.6" fill="#fff"/>
<text transform="translate(356.50,525.70) scale(0.8,1)" font-size="5.4" fill="#222" text-anchor="middle">Zero cross</text>
<text transform="translate(356.50,530.90) scale(0.8,1)" font-size="5.4" fill="#222" text-anchor="middle">at 9616</text>
<text x="411.70" y="542.50" font-size="4.2" fill="#5a54c8" text-anchor="end" >'48' (negatively correlated)</text>
<text x="300.80" y="552.20" font-size="5.4" fill="#444" text-anchor="middle" >0</text>
<text x="329.70" y="552.20" font-size="5.4" fill="#444" text-anchor="middle" >5,000</text>
<text x="358.60" y="552.20" font-size="5.4" fill="#444" text-anchor="middle" >10,000</text>
<text x="387.50" y="552.20" font-size="5.4" fill="#444" text-anchor="middle" >15,000</text>
<text x="416.40" y="552.20" font-size="5.4" fill="#444" text-anchor="middle" >20,000</text>
<text transform="translate(363.00,563.20) scale(0.68,1)" font-size="8" fill="#222" stroke="#222" stroke-width="0.3" text-anchor="middle">Rank in ordered dataset</text>
<text transform="translate(276.00,465.30) rotate(-90) scale(0.67,1)" font-size="8" fill="#2a2a2a" stroke="#2a2a2a" stroke-width="0.25" text-anchor="middle">Enrichment score (ES)</text>
<text transform="translate(276.60,527.10) rotate(-90) scale(0.69,1)" font-size="8" fill="#2a2a2a" stroke="#2a2a2a" stroke-width="0.25" text-anchor="middle">Ranked list metric</text>
<text transform="translate(284.00,526.80) rotate(-90) scale(0.665,1)" font-size="8" fill="#2a2a2a" stroke="#2a2a2a" stroke-width="0.25" text-anchor="middle">(signal2Noise)</text>
<rect x="297.00" y="568.50" width="130.50" height="7.00" fill="#fff" stroke="#222" stroke-width="0.8"/>
<line x1="300.78" y1="572.00" x2="307.96" y2="572.00" stroke="#2e9a44" stroke-width="1"/>
<text transform="translate(310.70,573.70) scale(0.87,1)" font-size="4.8" fill="#333">Enrichment profile</text>
<line x1="350.50" y1="572.00" x2="356.77" y2="572.00" stroke="#555" stroke-width="0.6"/>
<text transform="translate(358.73,573.70) scale(0.87,1)" font-size="4.8" fill="#333">Hits</text>
<line x1="372.69" y1="572.00" x2="379.61" y2="572.00" stroke="#aaa" stroke-width="0.6"/>
<text transform="translate(381.56,573.70) scale(0.9,1)" font-size="4.8" fill="#333">Ranking metric scores</text>
<rect x="164.30" y="-0.50" width="5.89" height="27.50" fill="#c8c8c8"/>
<rect x="170.19" y="-0.50" width="5.89" height="27.50" fill="#c8c8c8"/>
<rect x="176.08" y="-0.50" width="5.89" height="27.50" fill="#c8c8c8"/>
<rect x="181.97" y="-0.50" width="5.89" height="27.50" fill="#c8c8c8"/>
<rect x="187.86" y="-0.50" width="5.89" height="27.50" fill="#c8c8c8"/>
<rect x="193.75" y="-0.50" width="5.89" height="27.50" fill="#f2c012"/>
<rect x="199.64" y="-0.50" width="5.89" height="27.50" fill="#f2c012"/>
<rect x="205.53" y="-0.50" width="5.89" height="27.50" fill="#f2c012"/>
<rect x="211.42" y="-0.50" width="5.89" height="27.50" fill="#f2c012"/>
<rect x="217.31" y="-0.50" width="5.89" height="27.50" fill="#f2c012"/>
<line x1="164.30" y1="-0.50" x2="164.30" y2="27.00" stroke="#5a5a5a" stroke-width="0.9"/>
<line x1="170.19" y1="-0.50" x2="170.19" y2="27.00" stroke="#5a5a5a" stroke-width="0.9"/>
<line x1="176.08" y1="-0.50" x2="176.08" y2="27.00" stroke="#5a5a5a" stroke-width="0.9"/>
<line x1="181.97" y1="-0.50" x2="181.97" y2="27.00" stroke="#5a5a5a" stroke-width="0.9"/>
<line x1="187.86" y1="-0.50" x2="187.86" y2="27.00" stroke="#5a5a5a" stroke-width="0.9"/>
<line x1="193.75" y1="-0.50" x2="193.75" y2="27.00" stroke="#5a5a5a" stroke-width="0.9"/>
<line x1="199.64" y1="-0.50" x2="199.64" y2="27.00" stroke="#5a5a5a" stroke-width="0.9"/>
<line x1="205.53" y1="-0.50" x2="205.53" y2="27.00" stroke="#5a5a5a" stroke-width="0.9"/>
<line x1="211.42" y1="-0.50" x2="211.42" y2="27.00" stroke="#5a5a5a" stroke-width="0.9"/>
<line x1="217.31" y1="-0.50" x2="217.31" y2="27.00" stroke="#5a5a5a" stroke-width="0.9"/>
<line x1="223.20" y1="-0.50" x2="223.20" y2="27.00" stroke="#5a5a5a" stroke-width="0.9"/>
<line x1="164.30" y1="27.00" x2="223.20" y2="27.00" stroke="#333" stroke-width="0.8"/>
<text transform="translate(168.65,24.80) rotate(-90)" font-size="4.5" fill="#222" textLength="18.5" lengthAdjust="spacingAndGlyphs">KMS12 0h</text>
<text transform="translate(174.54,24.80) rotate(-90)" font-size="4.5" fill="#222" textLength="18.5" lengthAdjust="spacingAndGlyphs">U266 0h</text>
<text transform="translate(180.43,24.80) rotate(-90)" font-size="4.5" fill="#222" textLength="18.5" lengthAdjust="spacingAndGlyphs">L363 0h</text>
<text transform="translate(186.31,24.80) rotate(-90)" font-size="4.5" fill="#222" textLength="18.5" lengthAdjust="spacingAndGlyphs">LP1 0h</text>
<text transform="translate(192.21,24.80) rotate(-90)" font-size="4.5" fill="#222" textLength="18.5" lengthAdjust="spacingAndGlyphs">U937 0h</text>
<text transform="translate(198.09,24.80) rotate(-90)" font-size="4.5" fill="#222" textLength="20.0" lengthAdjust="spacingAndGlyphs">KMS12 48h</text>
<text transform="translate(203.99,24.80) rotate(-90)" font-size="4.5" fill="#222" textLength="20.0" lengthAdjust="spacingAndGlyphs">U266 48h</text>
<text transform="translate(209.88,24.80) rotate(-90)" font-size="4.5" fill="#222" textLength="20.0" lengthAdjust="spacingAndGlyphs">L363 48h</text>
<text transform="translate(215.77,24.80) rotate(-90)" font-size="4.5" fill="#222" textLength="20.0" lengthAdjust="spacingAndGlyphs">LP1 48h</text>
<text transform="translate(221.66,24.80) rotate(-90)" font-size="4.5" fill="#222" textLength="20.0" lengthAdjust="spacingAndGlyphs">U937 48h</text>
<rect x="164.30" y="27.00" width="5.94" height="5.95" fill="#7c6cd4"/>
<rect x="170.19" y="27.00" width="5.94" height="5.95" fill="#481c9e"/>
<rect x="176.08" y="27.00" width="5.94" height="5.95" fill="#f7bccc"/>
<rect x="181.97" y="27.00" width="5.94" height="5.95" fill="#7c6cd4"/>
<rect x="187.86" y="27.00" width="5.94" height="5.95" fill="#481c9e"/>
<rect x="193.75" y="27.00" width="5.94" height="5.95" fill="#ec3640"/>
<rect x="199.64" y="27.00" width="5.94" height="5.95" fill="#e2101a"/>
<rect x="205.53" y="27.00" width="5.94" height="5.95" fill="#ec3640"/>
<rect x="211.42" y="27.00" width="5.94" height="5.95" fill="#ec3640"/>
<rect x="217.31" y="27.00" width="5.94" height="5.95" fill="#f7bccc"/>
<rect x="164.30" y="32.90" width="5.94" height="5.95" fill="#c6bef2"/>
<rect x="170.19" y="32.90" width="5.94" height="5.95" fill="#481c9e"/>
<rect x="176.08" y="32.90" width="5.94" height="5.95" fill="#c6bef2"/>
<rect x="181.97" y="32.90" width="5.94" height="5.95" fill="#7c6cd4"/>
<rect x="187.86" y="32.90" width="5.94" height="5.95" fill="#eee2f4"/>
<rect x="193.75" y="32.90" width="5.94" height="5.95" fill="#ec3640"/>
<rect x="199.64" y="32.90" width="5.94" height="5.95" fill="#f05e68"/>
<rect x="205.53" y="32.90" width="5.94" height="5.95" fill="#f05e68"/>
<rect x="211.42" y="32.90" width="5.94" height="5.95" fill="#f05e68"/>
<rect x="217.31" y="32.90" width="5.94" height="5.95" fill="#e2101a"/>
<rect x="164.30" y="38.81" width="5.94" height="5.95" fill="#c6bef2"/>
<rect x="170.19" y="38.81" width="5.94" height="5.95" fill="#481c9e"/>
<rect x="176.08" y="38.81" width="5.94" height="5.95" fill="#c6bef2"/>
<rect x="181.97" y="38.81" width="5.94" height="5.95" fill="#c6bef2"/>
<rect x="187.86" y="38.81" width="5.94" height="5.95" fill="#7c6cd4"/>
<rect x="193.75" y="38.81" width="5.94" height="5.95" fill="#f05e68"/>
<rect x="199.64" y="38.81" width="5.94" height="5.95" fill="#e2101a"/>
<rect x="205.53" y="38.81" width="5.94" height="5.95" fill="#f05e68"/>
<rect x="211.42" y="38.81" width="5.94" height="5.95" fill="#f05e68"/>
<rect x="217.31" y="38.81" width="5.94" height="5.95" fill="#f05e68"/>
<rect x="164.30" y="44.71" width="5.94" height="5.95" fill="#7c6cd4"/>
<rect x="170.19" y="44.71" width="5.94" height="5.95" fill="#481c9e"/>
<rect x="176.08" y="44.71" width="5.94" height="5.95" fill="#c6bef2"/>
<rect x="181.97" y="44.71" width="5.94" height="5.95" fill="#7c6cd4"/>
<rect x="187.86" y="44.71" width="5.94" height="5.95" fill="#7c6cd4"/>
<rect x="193.75" y="44.71" width="5.94" height="5.95" fill="#f05e68"/>
<rect x="199.64" y="44.71" width="5.94" height="5.95" fill="#e2101a"/>
<rect x="205.53" y="44.71" width="5.94" height="5.95" fill="#f05e68"/>
<rect x="211.42" y="44.71" width="5.94" height="5.95" fill="#f05e68"/>
<rect x="217.31" y="44.71" width="5.94" height="5.95" fill="#f05e68"/>
<rect x="164.30" y="50.62" width="5.94" height="5.95" fill="#7c6cd4"/>
<rect x="170.19" y="50.62" width="5.94" height="5.95" fill="#481c9e"/>
<rect x="176.08" y="50.62" width="5.94" height="5.95" fill="#eee2f4"/>
<rect x="181.97" y="50.62" width="5.94" height="5.95" fill="#c6bef2"/>
<rect x="187.86" y="50.62" width="5.94" height="5.95" fill="#6250c0"/>
<rect x="193.75" y="50.62" width="5.94" height="5.95" fill="#ec3640"/>
<rect x="199.64" y="50.62" width="5.94" height="5.95" fill="#e2101a"/>
<rect x="205.53" y="50.62" width="5.94" height="5.95" fill="#e2101a"/>
<rect x="211.42" y="50.62" width="5.94" height="5.95" fill="#e2101a"/>
<rect x="217.31" y="50.62" width="5.94" height="5.95" fill="#f05e68"/>
<rect x="164.30" y="56.52" width="5.94" height="5.95" fill="#eee2f4"/>
<rect x="170.19" y="56.52" width="5.94" height="5.95" fill="#481c9e"/>
<rect x="176.08" y="56.52" width="5.94" height="5.95" fill="#c6bef2"/>
<rect x="181.97" y="56.52" width="5.94" height="5.95" fill="#6250c0"/>
<rect x="187.86" y="56.52" width="5.94" height="5.95" fill="#481c9e"/>
<rect x="193.75" y="56.52" width="5.94" height="5.95" fill="#e2101a"/>
<rect x="199.64" y="56.52" width="5.94" height="5.95" fill="#ec3640"/>
<rect x="205.53" y="56.52" width="5.94" height="5.95" fill="#f05e68"/>
<rect x="211.42" y="56.52" width="5.94" height="5.95" fill="#f05e68"/>
<rect x="217.31" y="56.52" width="5.94" height="5.95" fill="#f05e68"/>
<rect x="164.30" y="62.42" width="5.94" height="5.95" fill="#6250c0"/>
<rect x="170.19" y="62.42" width="5.94" height="5.95" fill="#481c9e"/>
<rect x="176.08" y="62.42" width="5.94" height="5.95" fill="#eee2f4"/>
<rect x="181.97" y="62.42" width="5.94" height="5.95" fill="#c6bef2"/>
<rect x="187.86" y="62.42" width="5.94" height="5.95" fill="#c6bef2"/>
<rect x="193.75" y="62.42" width="5.94" height="5.95" fill="#ec3640"/>
<rect x="199.64" y="62.42" width="5.94" height="5.95" fill="#ec3640"/>
<rect x="205.53" y="62.42" width="5.94" height="5.95" fill="#e2101a"/>
<rect x="211.42" y="62.42" width="5.94" height="5.95" fill="#e2101a"/>
<rect x="217.31" y="62.42" width="5.94" height="5.95" fill="#ec3640"/>
<rect x="164.30" y="68.33" width="5.94" height="5.95" fill="#7c6cd4"/>
<rect x="170.19" y="68.33" width="5.94" height="5.95" fill="#481c9e"/>
<rect x="176.08" y="68.33" width="5.94" height="5.95" fill="#eee2f4"/>
<rect x="181.97" y="68.33" width="5.94" height="5.95" fill="#c6bef2"/>
<rect x="187.86" y="68.33" width="5.94" height="5.95" fill="#7c6cd4"/>
<rect x="193.75" y="68.33" width="5.94" height="5.95" fill="#f05e68"/>
<rect x="199.64" y="68.33" width="5.94" height="5.95" fill="#e2101a"/>
<rect x="205.53" y="68.33" width="5.94" height="5.95" fill="#e2101a"/>
<rect x="211.42" y="68.33" width="5.94" height="5.95" fill="#ec3640"/>
<rect x="217.31" y="68.33" width="5.94" height="5.95" fill="#ec3640"/>
<rect x="164.30" y="74.23" width="5.94" height="5.95" fill="#7c6cd4"/>
<rect x="170.19" y="74.23" width="5.94" height="5.95" fill="#481c9e"/>
<rect x="176.08" y="74.23" width="5.94" height="5.95" fill="#eee2f4"/>
<rect x="181.97" y="74.23" width="5.94" height="5.95" fill="#7c6cd4"/>
<rect x="187.86" y="74.23" width="5.94" height="5.95" fill="#481c9e"/>
<rect x="193.75" y="74.23" width="5.94" height="5.95" fill="#f05e68"/>
<rect x="199.64" y="74.23" width="5.94" height="5.95" fill="#ec3640"/>
<rect x="205.53" y="74.23" width="5.94" height="5.95" fill="#f05e68"/>
<rect x="211.42" y="74.23" width="5.94" height="5.95" fill="#f05e68"/>
<rect x="217.31" y="74.23" width="5.94" height="5.95" fill="#ec3640"/>
<rect x="164.30" y="80.14" width="5.94" height="5.95" fill="#6250c0"/>
<rect x="170.19" y="80.14" width="5.94" height="5.95" fill="#481c9e"/>
<rect x="176.08" y="80.14" width="5.94" height="5.95" fill="#f7bccc"/>
<rect x="181.97" y="80.14" width="5.94" height="5.95" fill="#c6bef2"/>
<rect x="187.86" y="80.14" width="5.94" height="5.95" fill="#c6bef2"/>
<rect x="193.75" y="80.14" width="5.94" height="5.95" fill="#f05e68"/>
<rect x="199.64" y="80.14" width="5.94" height="5.95" fill="#ec3640"/>
<rect x="205.53" y="80.14" width="5.94" height="5.95" fill="#e2101a"/>
<rect x="211.42" y="80.14" width="5.94" height="5.95" fill="#e2101a"/>
<rect x="217.31" y="80.14" width="5.94" height="5.95" fill="#ec3640"/>
<rect x="164.30" y="86.04" width="5.94" height="5.95" fill="#6250c0"/>
<rect x="170.19" y="86.04" width="5.94" height="5.95" fill="#481c9e"/>
<rect x="176.08" y="86.04" width="5.94" height="5.95" fill="#6250c0"/>
<rect x="181.97" y="86.04" width="5.94" height="5.95" fill="#6250c0"/>
<rect x="187.86" y="86.04" width="5.94" height="5.95" fill="#7c6cd4"/>
<rect x="193.75" y="86.04" width="5.94" height="5.95" fill="#f05e68"/>
<rect x="199.64" y="86.04" width="5.94" height="5.95" fill="#e2101a"/>
<rect x="205.53" y="86.04" width="5.94" height="5.95" fill="#f7bccc"/>
<rect x="211.42" y="86.04" width="5.94" height="5.95" fill="#f7bccc"/>
<rect x="217.31" y="86.04" width="5.94" height="5.95" fill="#ec3640"/>
<rect x="164.30" y="91.94" width="5.94" height="5.95" fill="#7c6cd4"/>
<rect x="170.19" y="91.94" width="5.94" height="5.95" fill="#481c9e"/>
<rect x="176.08" y="91.94" width="5.94" height="5.95" fill="#f7bccc"/>
<rect x="181.97" y="91.94" width="5.94" height="5.95" fill="#c6bef2"/>
<rect x="187.86" y="91.94" width="5.94" height="5.95" fill="#7c6cd4"/>
<rect x="193.75" y="91.94" width="5.94" height="5.95" fill="#e2101a"/>
<rect x="199.64" y="91.94" width="5.94" height="5.95" fill="#e2101a"/>
<rect x="205.53" y="91.94" width="5.94" height="5.95" fill="#e2101a"/>
<rect x="211.42" y="91.94" width="5.94" height="5.95" fill="#ec3640"/>
<rect x="217.31" y="91.94" width="5.94" height="5.95" fill="#e2101a"/>
<rect x="164.30" y="97.85" width="5.94" height="5.95" fill="#c6bef2"/>
<rect x="170.19" y="97.85" width="5.94" height="5.95" fill="#481c9e"/>
<rect x="176.08" y="97.85" width="5.94" height="5.95" fill="#c6bef2"/>
<rect x="181.97" y="97.85" width="5.94" height="5.95" fill="#7c6cd4"/>
<rect x="187.86" y="97.85" width="5.94" height="5.95" fill="#c6bef2"/>
<rect x="193.75" y="97.85" width="5.94" height="5.95" fill="#e2101a"/>
<rect x="199.64" y="97.85" width="5.94" height="5.95" fill="#ec3640"/>
<rect x="205.53" y="97.85" width="5.94" height="5.95" fill="#ec3640"/>
<rect x="211.42" y="97.85" width="5.94" height="5.95" fill="#ec3640"/>
<rect x="217.31" y="97.85" width="5.94" height="5.95" fill="#f05e68"/>
<rect x="164.30" y="103.75" width="5.94" height="5.95" fill="#6250c0"/>
<rect x="170.19" y="103.75" width="5.94" height="5.95" fill="#481c9e"/>
<rect x="176.08" y="103.75" width="5.94" height="5.95" fill="#c6bef2"/>
<rect x="181.97" y="103.75" width="5.94" height="5.95" fill="#7c6cd4"/>
<rect x="187.86" y="103.75" width="5.94" height="5.95" fill="#481c9e"/>
<rect x="193.75" y="103.75" width="5.94" height="5.95" fill="#f05e68"/>
<rect x="199.64" y="103.75" width="5.94" height="5.95" fill="#e2101a"/>
<rect x="205.53" y="103.75" width="5.94" height="5.95" fill="#f05e68"/>
<rect x="211.42" y="103.75" width="5.94" height="5.95" fill="#f05e68"/>
<rect x="217.31" y="103.75" width="5.94" height="5.95" fill="#f7bccc"/>
<rect x="164.30" y="109.66" width="5.94" height="5.95" fill="#7c6cd4"/>
<rect x="170.19" y="109.66" width="5.94" height="5.95" fill="#481c9e"/>
<rect x="176.08" y="109.66" width="5.94" height="5.95" fill="#6250c0"/>
<rect x="181.97" y="109.66" width="5.94" height="5.95" fill="#481c9e"/>
<rect x="187.86" y="109.66" width="5.94" height="5.95" fill="#481c9e"/>
<rect x="193.75" y="109.66" width="5.94" height="5.95" fill="#f05e68"/>
<rect x="199.64" y="109.66" width="5.94" height="5.95" fill="#e2101a"/>
<rect x="205.53" y="109.66" width="5.94" height="5.95" fill="#f7bccc"/>
<rect x="211.42" y="109.66" width="5.94" height="5.95" fill="#f05e68"/>
<rect x="217.31" y="109.66" width="5.94" height="5.95" fill="#f05e68"/>
<rect x="164.30" y="115.56" width="5.94" height="5.95" fill="#6250c0"/>
<rect x="170.19" y="115.56" width="5.94" height="5.95" fill="#481c9e"/>
<rect x="176.08" y="115.56" width="5.94" height="5.95" fill="#eee2f4"/>
<rect x="181.97" y="115.56" width="5.94" height="5.95" fill="#7c6cd4"/>
<rect x="187.86" y="115.56" width="5.94" height="5.95" fill="#6250c0"/>
<rect x="193.75" y="115.56" width="5.94" height="5.95" fill="#f05e68"/>
<rect x="199.64" y="115.56" width="5.94" height="5.95" fill="#e2101a"/>
<rect x="205.53" y="115.56" width="5.94" height="5.95" fill="#ec3640"/>
<rect x="211.42" y="115.56" width="5.94" height="5.95" fill="#e2101a"/>
<rect x="217.31" y="115.56" width="5.94" height="5.95" fill="#ec3640"/>
<rect x="164.30" y="121.46" width="5.94" height="5.95" fill="#7c6cd4"/>
<rect x="170.19" y="121.46" width="5.94" height="5.95" fill="#481c9e"/>
<rect x="176.08" y="121.46" width="5.94" height="5.95" fill="#c6bef2"/>
<rect x="181.97" y="121.46" width="5.94" height="5.95" fill="#481c9e"/>
<rect x="187.86" y="121.46" width="5.94" height="5.95" fill="#481c9e"/>
<rect x="193.75" y="121.46" width="5.94" height="5.95" fill="#f05e68"/>
<rect x="199.64" y="121.46" width="5.94" height="5.95" fill="#e2101a"/>
<rect x="205.53" y="121.46" width="5.94" height="5.95" fill="#f05e68"/>
<rect x="211.42" y="121.46" width="5.94" height="5.95" fill="#f05e68"/>
<rect x="217.31" y="121.46" width="5.94" height="5.95" fill="#ec3640"/>
<rect x="164.30" y="127.37" width="5.94" height="5.95" fill="#c6bef2"/>
<rect x="170.19" y="127.37" width="5.94" height="5.95" fill="#481c9e"/>
<rect x="176.08" y="127.37" width="5.94" height="5.95" fill="#c6bef2"/>
<rect x="181.97" y="127.37" width="5.94" height="5.95" fill="#7c6cd4"/>
<rect x="187.86" y="127.37" width="5.94" height="5.95" fill="#c6bef2"/>
<rect x="193.75" y="127.37" width="5.94" height="5.95" fill="#f05e68"/>
<rect x="199.64" y="127.37" width="5.94" height="5.95" fill="#e2101a"/>
<rect x="205.53" y="127.37" width="5.94" height="5.95" fill="#f05e68"/>
<rect x="211.42" y="127.37" width="5.94" height="5.95" fill="#f05e68"/>
<rect x="217.31" y="127.37" width="5.94" height="5.95" fill="#ec3640"/>
<rect x="164.30" y="133.27" width="5.94" height="5.95" fill="#eee2f4"/>
<rect x="170.19" y="133.27" width="5.94" height="5.95" fill="#481c9e"/>
<rect x="176.08" y="133.27" width="5.94" height="5.95" fill="#7c6cd4"/>
<rect x="181.97" y="133.27" width="5.94" height="5.95" fill="#7c6cd4"/>
<rect x="187.86" y="133.27" width="5.94" height="5.95" fill="#c6bef2"/>
<rect x="193.75" y="133.27" width="5.94" height="5.95" fill="#ec3640"/>
<rect x="199.64" y="133.27" width="5.94" height="5.95" fill="#e2101a"/>
<rect x="205.53" y="133.27" width="5.94" height="5.95" fill="#f05e68"/>
<rect x="211.42" y="133.27" width="5.94" height="5.95" fill="#ec3640"/>
<rect x="217.31" y="133.27" width="5.94" height="5.95" fill="#e2101a"/>
<rect x="164.30" y="139.18" width="5.94" height="5.95" fill="#6250c0"/>
<rect x="170.19" y="139.18" width="5.94" height="5.95" fill="#481c9e"/>
<rect x="176.08" y="139.18" width="5.94" height="5.95" fill="#eee2f4"/>
<rect x="181.97" y="139.18" width="5.94" height="5.95" fill="#c6bef2"/>
<rect x="187.86" y="139.18" width="5.94" height="5.95" fill="#7c6cd4"/>
<rect x="193.75" y="139.18" width="5.94" height="5.95" fill="#ec3640"/>
<rect x="199.64" y="139.18" width="5.94" height="5.95" fill="#e2101a"/>
<rect x="205.53" y="139.18" width="5.94" height="5.95" fill="#ec3640"/>
<rect x="211.42" y="139.18" width="5.94" height="5.95" fill="#ec3640"/>
<rect x="217.31" y="139.18" width="5.94" height="5.95" fill="#f05e68"/>
<rect x="164.30" y="145.08" width="5.94" height="5.95" fill="#c6bef2"/>
<rect x="170.19" y="145.08" width="5.94" height="5.95" fill="#481c9e"/>
<rect x="176.08" y="145.08" width="5.94" height="5.95" fill="#c6bef2"/>
<rect x="181.97" y="145.08" width="5.94" height="5.95" fill="#7c6cd4"/>
<rect x="187.86" y="145.08" width="5.94" height="5.95" fill="#7c6cd4"/>
<rect x="193.75" y="145.08" width="5.94" height="5.95" fill="#e2101a"/>
<rect x="199.64" y="145.08" width="5.94" height="5.95" fill="#ec3640"/>
<rect x="205.53" y="145.08" width="5.94" height="5.95" fill="#ec3640"/>
<rect x="211.42" y="145.08" width="5.94" height="5.95" fill="#ec3640"/>
<rect x="217.31" y="145.08" width="5.94" height="5.95" fill="#f05e68"/>
<rect x="164.30" y="150.98" width="5.94" height="5.95" fill="#6250c0"/>
<rect x="170.19" y="150.98" width="5.94" height="5.95" fill="#481c9e"/>
<rect x="176.08" y="150.98" width="5.94" height="5.95" fill="#eee2f4"/>
<rect x="181.97" y="150.98" width="5.94" height="5.95" fill="#7c6cd4"/>
<rect x="187.86" y="150.98" width="5.94" height="5.95" fill="#7c6cd4"/>
<rect x="193.75" y="150.98" width="5.94" height="5.95" fill="#ec3640"/>
<rect x="199.64" y="150.98" width="5.94" height="5.95" fill="#e2101a"/>
<rect x="205.53" y="150.98" width="5.94" height="5.95" fill="#ec3640"/>
<rect x="211.42" y="150.98" width="5.94" height="5.95" fill="#ec3640"/>
<rect x="217.31" y="150.98" width="5.94" height="5.95" fill="#ec3640"/>
<rect x="164.30" y="156.89" width="5.94" height="5.95" fill="#7c6cd4"/>
<rect x="170.19" y="156.89" width="5.94" height="5.95" fill="#481c9e"/>
<rect x="176.08" y="156.89" width="5.94" height="5.95" fill="#eee2f4"/>
<rect x="181.97" y="156.89" width="5.94" height="5.95" fill="#6250c0"/>
<rect x="187.86" y="156.89" width="5.94" height="5.95" fill="#7c6cd4"/>
<rect x="193.75" y="156.89" width="5.94" height="5.95" fill="#ec3640"/>
<rect x="199.64" y="156.89" width="5.94" height="5.95" fill="#e2101a"/>
<rect x="205.53" y="156.89" width="5.94" height="5.95" fill="#e2101a"/>
<rect x="211.42" y="156.89" width="5.94" height="5.95" fill="#ec3640"/>
<rect x="217.31" y="156.89" width="5.94" height="5.95" fill="#ec3640"/>
<rect x="164.30" y="162.79" width="5.94" height="5.95" fill="#481c9e"/>
<rect x="170.19" y="162.79" width="5.94" height="5.95" fill="#7c6cd4"/>
<rect x="176.08" y="162.79" width="5.94" height="5.95" fill="#c6bef2"/>
<rect x="181.97" y="162.79" width="5.94" height="5.95" fill="#6250c0"/>
<rect x="187.86" y="162.79" width="5.94" height="5.95" fill="#481c9e"/>
<rect x="193.75" y="162.79" width="5.94" height="5.95" fill="#f05e68"/>
<rect x="199.64" y="162.79" width="5.94" height="5.95" fill="#f05e68"/>
<rect x="205.53" y="162.79" width="5.94" height="5.95" fill="#e2101a"/>
<rect x="211.42" y="162.79" width="5.94" height="5.95" fill="#e2101a"/>
<rect x="217.31" y="162.79" width="5.94" height="5.95" fill="#ec3640"/>
<rect x="164.30" y="168.70" width="5.94" height="5.95" fill="#481c9e"/>
<rect x="170.19" y="168.70" width="5.94" height="5.95" fill="#7c6cd4"/>
<rect x="176.08" y="168.70" width="5.94" height="5.95" fill="#6250c0"/>
<rect x="181.97" y="168.70" width="5.94" height="5.95" fill="#481c9e"/>
<rect x="187.86" y="168.70" width="5.94" height="5.95" fill="#481c9e"/>
<rect x="193.75" y="168.70" width="5.94" height="5.95" fill="#f05e68"/>
<rect x="199.64" y="168.70" width="5.94" height="5.95" fill="#e2101a"/>
<rect x="205.53" y="168.70" width="5.94" height="5.95" fill="#f05e68"/>
<rect x="211.42" y="168.70" width="5.94" height="5.95" fill="#f05e68"/>
<rect x="217.31" y="168.70" width="5.94" height="5.95" fill="#f05e68"/>
<line x1="164.30" y1="27.00" x2="164.30" y2="174.60" stroke="#14082a" stroke-opacity="0.7" stroke-width="0.95"/>
<line x1="170.19" y1="27.00" x2="170.19" y2="174.60" stroke="#14082a" stroke-opacity="0.7" stroke-width="0.95"/>
<line x1="176.08" y1="27.00" x2="176.08" y2="174.60" stroke="#14082a" stroke-opacity="0.7" stroke-width="0.95"/>
<line x1="181.97" y1="27.00" x2="181.97" y2="174.60" stroke="#14082a" stroke-opacity="0.7" stroke-width="0.95"/>
<line x1="187.86" y1="27.00" x2="187.86" y2="174.60" stroke="#14082a" stroke-opacity="0.7" stroke-width="0.95"/>
<line x1="193.75" y1="27.00" x2="193.75" y2="174.60" stroke="#14082a" stroke-opacity="0.7" stroke-width="0.95"/>
<line x1="199.64" y1="27.00" x2="199.64" y2="174.60" stroke="#14082a" stroke-opacity="0.7" stroke-width="0.95"/>
<line x1="205.53" y1="27.00" x2="205.53" y2="174.60" stroke="#14082a" stroke-opacity="0.7" stroke-width="0.95"/>
<line x1="211.42" y1="27.00" x2="211.42" y2="174.60" stroke="#14082a" stroke-opacity="0.7" stroke-width="0.95"/>
<line x1="217.31" y1="27.00" x2="217.31" y2="174.60" stroke="#14082a" stroke-opacity="0.7" stroke-width="0.95"/>
<line x1="223.20" y1="27.00" x2="223.20" y2="174.60" stroke="#14082a" stroke-opacity="0.7" stroke-width="0.95"/>
<line x1="164.30" y1="27.00" x2="223.20" y2="27.00" stroke="#14082a" stroke-opacity="0.7" stroke-width="0.95"/>
<line x1="164.30" y1="32.90" x2="223.20" y2="32.90" stroke="#14082a" stroke-opacity="0.7" stroke-width="0.95"/>
<line x1="164.30" y1="38.81" x2="223.20" y2="38.81" stroke="#14082a" stroke-opacity="0.7" stroke-width="0.95"/>
<line x1="164.30" y1="44.71" x2="223.20" y2="44.71" stroke="#14082a" stroke-opacity="0.7" stroke-width="0.95"/>
<line x1="164.30" y1="50.62" x2="223.20" y2="50.62" stroke="#14082a" stroke-opacity="0.7" stroke-width="0.95"/>
<line x1="164.30" y1="56.52" x2="223.20" y2="56.52" stroke="#14082a" stroke-opacity="0.7" stroke-width="0.95"/>
<line x1="164.30" y1="62.42" x2="223.20" y2="62.42" stroke="#14082a" stroke-opacity="0.7" stroke-width="0.95"/>
<line x1="164.30" y1="68.33" x2="223.20" y2="68.33" stroke="#14082a" stroke-opacity="0.7" stroke-width="0.95"/>
<line x1="164.30" y1="74.23" x2="223.20" y2="74.23" stroke="#14082a" stroke-opacity="0.7" stroke-width="0.95"/>
<line x1="164.30" y1="80.14" x2="223.20" y2="80.14" stroke="#14082a" stroke-opacity="0.7" stroke-width="0.95"/>
<line x1="164.30" y1="86.04" x2="223.20" y2="86.04" stroke="#14082a" stroke-opacity="0.7" stroke-width="0.95"/>
<line x1="164.30" y1="91.94" x2="223.20" y2="91.94" stroke="#14082a" stroke-opacity="0.7" stroke-width="0.95"/>
<line x1="164.30" y1="97.85" x2="223.20" y2="97.85" stroke="#14082a" stroke-opacity="0.7" stroke-width="0.95"/>
<line x1="164.30" y1="103.75" x2="223.20" y2="103.75" stroke="#14082a" stroke-opacity="0.7" stroke-width="0.95"/>
<line x1="164.30" y1="109.66" x2="223.20" y2="109.66" stroke="#14082a" stroke-opacity="0.7" stroke-width="0.95"/>
<line x1="164.30" y1="115.56" x2="223.20" y2="115.56" stroke="#14082a" stroke-opacity="0.7" stroke-width="0.95"/>
<line x1="164.30" y1="121.46" x2="223.20" y2="121.46" stroke="#14082a" stroke-opacity="0.7" stroke-width="0.95"/>
<line x1="164.30" y1="127.37" x2="223.20" y2="127.37" stroke="#14082a" stroke-opacity="0.7" stroke-width="0.95"/>
<line x1="164.30" y1="133.27" x2="223.20" y2="133.27" stroke="#14082a" stroke-opacity="0.7" stroke-width="0.95"/>
<line x1="164.30" y1="139.18" x2="223.20" y2="139.18" stroke="#14082a" stroke-opacity="0.7" stroke-width="0.95"/>
<line x1="164.30" y1="145.08" x2="223.20" y2="145.08" stroke="#14082a" stroke-opacity="0.7" stroke-width="0.95"/>
<line x1="164.30" y1="150.98" x2="223.20" y2="150.98" stroke="#14082a" stroke-opacity="0.7" stroke-width="0.95"/>
<line x1="164.30" y1="156.89" x2="223.20" y2="156.89" stroke="#14082a" stroke-opacity="0.7" stroke-width="0.95"/>
<line x1="164.30" y1="162.79" x2="223.20" y2="162.79" stroke="#14082a" stroke-opacity="0.7" stroke-width="0.95"/>
<line x1="164.30" y1="168.70" x2="223.20" y2="168.70" stroke="#14082a" stroke-opacity="0.7" stroke-width="0.95"/>
<line x1="164.30" y1="174.60" x2="223.20" y2="174.60" stroke="#14082a" stroke-opacity="0.7" stroke-width="0.95"/>
<line x1="223.20" y1="27.00" x2="254.00" y2="27.00" stroke="#555" stroke-width="0.8"/>
<line x1="223.20" y1="32.90" x2="254.00" y2="32.90" stroke="#555" stroke-width="0.8"/>
<line x1="223.20" y1="38.81" x2="254.00" y2="38.81" stroke="#555" stroke-width="0.8"/>
<line x1="223.20" y1="44.71" x2="254.00" y2="44.71" stroke="#555" stroke-width="0.8"/>
<line x1="223.20" y1="50.62" x2="254.00" y2="50.62" stroke="#555" stroke-width="0.8"/>
<line x1="223.20" y1="56.52" x2="254.00" y2="56.52" stroke="#555" stroke-width="0.8"/>
<line x1="223.20" y1="62.42" x2="254.00" y2="62.42" stroke="#555" stroke-width="0.8"/>
<line x1="223.20" y1="68.33" x2="254.00" y2="68.33" stroke="#555" stroke-width="0.8"/>
<line x1="223.20" y1="74.23" x2="254.00" y2="74.23" stroke="#555" stroke-width="0.8"/>
<line x1="223.20" y1="80.14" x2="254.00" y2="80.14" stroke="#555" stroke-width="0.8"/>
<line x1="223.20" y1="86.04" x2="254.00" y2="86.04" stroke="#555" stroke-width="0.8"/>
<line x1="223.20" y1="91.94" x2="254.00" y2="91.94" stroke="#555" stroke-width="0.8"/>
<line x1="223.20" y1="97.85" x2="254.00" y2="97.85" stroke="#555" stroke-width="0.8"/>
<line x1="223.20" y1="103.75" x2="254.00" y2="103.75" stroke="#555" stroke-width="0.8"/>
<line x1="223.20" y1="109.66" x2="254.00" y2="109.66" stroke="#555" stroke-width="0.8"/>
<line x1="223.20" y1="115.56" x2="254.00" y2="115.56" stroke="#555" stroke-width="0.8"/>
<line x1="223.20" y1="121.46" x2="254.00" y2="121.46" stroke="#555" stroke-width="0.8"/>
<line x1="223.20" y1="127.37" x2="254.00" y2="127.37" stroke="#555" stroke-width="0.8"/>
<line x1="223.20" y1="133.27" x2="254.00" y2="133.27" stroke="#555" stroke-width="0.8"/>
<line x1="223.20" y1="139.18" x2="254.00" y2="139.18" stroke="#555" stroke-width="0.8"/>
<line x1="223.20" y1="145.08" x2="254.00" y2="145.08" stroke="#555" stroke-width="0.8"/>
<line x1="223.20" y1="150.98" x2="254.00" y2="150.98" stroke="#555" stroke-width="0.8"/>
<line x1="223.20" y1="156.89" x2="254.00" y2="156.89" stroke="#555" stroke-width="0.8"/>
<line x1="223.20" y1="162.79" x2="254.00" y2="162.79" stroke="#555" stroke-width="0.8"/>
<line x1="223.20" y1="168.70" x2="254.00" y2="168.70" stroke="#555" stroke-width="0.8"/>
<line x1="223.20" y1="174.60" x2="254.00" y2="174.60" stroke="#555" stroke-width="0.8"/>
<text transform="translate(226.80,31.60) scale(0.92,1)" font-size="4.8" fill="#222">DYNC1LI1</text>
<text transform="translate(226.80,37.51) scale(0.92,1)" font-size="4.8" fill="#222">CENPH</text>
<text transform="translate(226.80,43.41) scale(0.92,1)" font-size="4.8" fill="#222">CHMP4B</text>
<text transform="translate(226.80,49.32) scale(0.92,1)" font-size="4.8" fill="#222">PPP2R5A</text>
<text transform="translate(226.80,55.22) scale(0.92,1)" font-size="4.8" fill="#222">DSN1</text>
<text transform="translate(226.80,61.12) scale(0.92,1)" font-size="4.8" fill="#222">TST1</text>
<text transform="translate(226.80,67.03) scale(0.92,1)" font-size="4.8" fill="#222">CCNA2</text>
<text transform="translate(226.80,72.93) scale(0.92,1)" font-size="4.8" fill="#222">RBL2</text>
<text transform="translate(226.80,78.84) scale(0.92,1)" font-size="4.8" fill="#222">PPP2R5D</text>
<text transform="translate(226.80,84.74) scale(0.92,1)" font-size="4.8" fill="#222">CDC20</text>
<text transform="translate(226.80,90.64) scale(0.92,1)" font-size="4.8" fill="#222">CETN2</text>
<text transform="translate(226.80,96.55) scale(0.92,1)" font-size="4.8" fill="#222">CDCA8</text>
<text transform="translate(226.80,102.45) scale(0.92,1)" font-size="4.8" fill="#222">NUP93</text>
<text transform="translate(226.80,108.36) scale(0.92,1)" font-size="4.8" fill="#222">PPP2R5A</text>
<text transform="translate(226.80,114.26) scale(0.92,1)" font-size="4.8" fill="#222">STRT2</text>
<text transform="translate(226.80,120.16) scale(0.92,1)" font-size="4.8" fill="#222">NUP210</text>
<text transform="translate(226.80,126.07) scale(0.92,1)" font-size="4.8" fill="#222">NUMA1</text>
<text transform="translate(226.80,131.97) scale(0.92,1)" font-size="4.8" fill="#222">CENPE</text>
<text transform="translate(226.80,137.88) scale(0.92,1)" font-size="4.8" fill="#222">NEK2</text>
<text transform="translate(226.80,143.78) scale(0.92,1)" font-size="4.8" fill="#222">ERCC6L</text>
<text transform="translate(226.80,149.68) scale(0.92,1)" font-size="4.8" fill="#222">LCMT1</text>
<text transform="translate(226.80,155.59) scale(0.92,1)" font-size="4.8" fill="#222">NUP155</text>
<text transform="translate(226.80,161.49) scale(0.92,1)" font-size="4.8" fill="#222">USO1</text>
<text transform="translate(226.80,167.40) scale(0.92,1)" font-size="4.8" fill="#222">ESCO1</text>
<text transform="translate(226.80,173.30) scale(0.92,1)" font-size="4.8" fill="#222">CDC25C</text>
<rect x="432.30" y="-0.50" width="6.16" height="27.10" fill="#c8c8c8"/>
<rect x="438.46" y="-0.50" width="6.16" height="27.10" fill="#c8c8c8"/>
<rect x="444.62" y="-0.50" width="6.16" height="27.10" fill="#c8c8c8"/>
<rect x="450.78" y="-0.50" width="6.16" height="27.10" fill="#c8c8c8"/>
<rect x="456.94" y="-0.50" width="6.16" height="27.10" fill="#c8c8c8"/>
<rect x="463.10" y="-0.50" width="6.16" height="27.10" fill="#f2c012"/>
<rect x="469.26" y="-0.50" width="6.16" height="27.10" fill="#f2c012"/>
<rect x="475.42" y="-0.50" width="6.16" height="27.10" fill="#f2c012"/>
<rect x="481.58" y="-0.50" width="6.16" height="27.10" fill="#f2c012"/>
<rect x="487.74" y="-0.50" width="6.16" height="27.10" fill="#f2c012"/>
<line x1="432.30" y1="-0.50" x2="432.30" y2="26.60" stroke="#5a5a5a" stroke-width="0.9"/>
<line x1="438.46" y1="-0.50" x2="438.46" y2="26.60" stroke="#5a5a5a" stroke-width="0.9"/>
<line x1="444.62" y1="-0.50" x2="444.62" y2="26.60" stroke="#5a5a5a" stroke-width="0.9"/>
<line x1="450.78" y1="-0.50" x2="450.78" y2="26.60" stroke="#5a5a5a" stroke-width="0.9"/>
<line x1="456.94" y1="-0.50" x2="456.94" y2="26.60" stroke="#5a5a5a" stroke-width="0.9"/>
<line x1="463.10" y1="-0.50" x2="463.10" y2="26.60" stroke="#5a5a5a" stroke-width="0.9"/>
<line x1="469.26" y1="-0.50" x2="469.26" y2="26.60" stroke="#5a5a5a" stroke-width="0.9"/>
<line x1="475.42" y1="-0.50" x2="475.42" y2="26.60" stroke="#5a5a5a" stroke-width="0.9"/>
<line x1="481.58" y1="-0.50" x2="481.58" y2="26.60" stroke="#5a5a5a" stroke-width="0.9"/>
<line x1="487.74" y1="-0.50" x2="487.74" y2="26.60" stroke="#5a5a5a" stroke-width="0.9"/>
<line x1="493.90" y1="-0.50" x2="493.90" y2="26.60" stroke="#5a5a5a" stroke-width="0.9"/>
<line x1="432.30" y1="26.60" x2="493.90" y2="26.60" stroke="#333" stroke-width="0.8"/>
<text transform="translate(436.78,24.40) rotate(-90)" font-size="4.5" fill="#222" textLength="18.5" lengthAdjust="spacingAndGlyphs">KMS12 0h</text>
<text transform="translate(442.94,24.40) rotate(-90)" font-size="4.5" fill="#222" textLength="18.5" lengthAdjust="spacingAndGlyphs">U266 0h</text>
<text transform="translate(449.10,24.40) rotate(-90)" font-size="4.5" fill="#222" textLength="18.5" lengthAdjust="spacingAndGlyphs">L363 0h</text>
<text transform="translate(455.26,24.40) rotate(-90)" font-size="4.5" fill="#222" textLength="18.5" lengthAdjust="spacingAndGlyphs">LP1 0h</text>
<text transform="translate(461.42,24.40) rotate(-90)" font-size="4.5" fill="#222" textLength="18.5" lengthAdjust="spacingAndGlyphs">U937 0h</text>
<text transform="translate(467.58,24.40) rotate(-90)" font-size="4.5" fill="#222" textLength="20.0" lengthAdjust="spacingAndGlyphs">KMS12 48h</text>
<text transform="translate(473.74,24.40) rotate(-90)" font-size="4.5" fill="#222" textLength="20.0" lengthAdjust="spacingAndGlyphs">U266 48h</text>
<text transform="translate(479.90,24.40) rotate(-90)" font-size="4.5" fill="#222" textLength="20.0" lengthAdjust="spacingAndGlyphs">L363 48h</text>
<text transform="translate(486.06,24.40) rotate(-90)" font-size="4.5" fill="#222" textLength="20.0" lengthAdjust="spacingAndGlyphs">LP1 48h</text>
<text transform="translate(492.22,24.40) rotate(-90)" font-size="4.5" fill="#222" textLength="20.0" lengthAdjust="spacingAndGlyphs">U937 48h</text>
<rect x="432.30" y="28.10" width="6.21" height="6.15" fill="#f05e68"/>
<rect x="438.46" y="28.10" width="6.21" height="6.15" fill="#481c9e"/>
<rect x="444.62" y="28.10" width="6.21" height="6.15" fill="#f7bccc"/>
<rect x="450.78" y="28.10" width="6.21" height="6.15" fill="#f05e68"/>
<rect x="456.94" y="28.10" width="6.21" height="6.15" fill="#e2101a"/>
<rect x="463.10" y="28.10" width="6.21" height="6.15" fill="#eee2f4"/>
<rect x="469.26" y="28.10" width="6.21" height="6.15" fill="#481c9e"/>
<rect x="475.42" y="28.10" width="6.21" height="6.15" fill="#7c6cd4"/>
<rect x="481.58" y="28.10" width="6.21" height="6.15" fill="#c6bef2"/>
<rect x="487.74" y="28.10" width="6.21" height="6.15" fill="#e2101a"/>
<rect x="432.30" y="34.20" width="6.21" height="6.15" fill="#f05e68"/>
<rect x="438.46" y="34.20" width="6.21" height="6.15" fill="#f05e68"/>
<rect x="444.62" y="34.20" width="6.21" height="6.15" fill="#481c9e"/>
<rect x="450.78" y="34.20" width="6.21" height="6.15" fill="#6250c0"/>
<rect x="456.94" y="34.20" width="6.21" height="6.15" fill="#f05e68"/>
<rect x="463.10" y="34.20" width="6.21" height="6.15" fill="#e2101a"/>
<rect x="469.26" y="34.20" width="6.21" height="6.15" fill="#481c9e"/>
<rect x="475.42" y="34.20" width="6.21" height="6.15" fill="#481c9e"/>
<rect x="481.58" y="34.20" width="6.21" height="6.15" fill="#c6bef2"/>
<rect x="487.74" y="34.20" width="6.21" height="6.15" fill="#ec3640"/>
<rect x="432.30" y="40.30" width="6.21" height="6.15" fill="#e2101a"/>
<rect x="438.46" y="40.30" width="6.21" height="6.15" fill="#481c9e"/>
<rect x="444.62" y="40.30" width="6.21" height="6.15" fill="#f05e68"/>
<rect x="450.78" y="40.30" width="6.21" height="6.15" fill="#eee2f4"/>
<rect x="456.94" y="40.30" width="6.21" height="6.15" fill="#f7bccc"/>
<rect x="463.10" y="40.30" width="6.21" height="6.15" fill="#e2101a"/>
<rect x="469.26" y="40.30" width="6.21" height="6.15" fill="#c6bef2"/>
<rect x="475.42" y="40.30" width="6.21" height="6.15" fill="#f7bccc"/>
<rect x="481.58" y="40.30" width="6.21" height="6.15" fill="#f05e68"/>
<rect x="487.74" y="40.30" width="6.21" height="6.15" fill="#f7bccc"/>
<rect x="432.30" y="46.40" width="6.21" height="6.15" fill="#ec3640"/>
<rect x="438.46" y="46.40" width="6.21" height="6.15" fill="#f05e68"/>
<rect x="444.62" y="46.40" width="6.21" height="6.15" fill="#c6bef2"/>
<rect x="450.78" y="46.40" width="6.21" height="6.15" fill="#7c6cd4"/>
<rect x="456.94" y="46.40" width="6.21" height="6.15" fill="#481c9e"/>
<rect x="463.10" y="46.40" width="6.21" height="6.15" fill="#e2101a"/>
<rect x="469.26" y="46.40" width="6.21" height="6.15" fill="#f05e68"/>
<rect x="475.42" y="46.40" width="6.21" height="6.15" fill="#f05e68"/>
<rect x="481.58" y="46.40" width="6.21" height="6.15" fill="#f05e68"/>
<rect x="487.74" y="46.40" width="6.21" height="6.15" fill="#481c9e"/>
<rect x="432.30" y="52.50" width="6.21" height="6.15" fill="#f05e68"/>
<rect x="438.46" y="52.50" width="6.21" height="6.15" fill="#c6bef2"/>
<rect x="444.62" y="52.50" width="6.21" height="6.15" fill="#481c9e"/>
<rect x="450.78" y="52.50" width="6.21" height="6.15" fill="#6250c0"/>
<rect x="456.94" y="52.50" width="6.21" height="6.15" fill="#f7bccc"/>
<rect x="463.10" y="52.50" width="6.21" height="6.15" fill="#ec3640"/>
<rect x="469.26" y="52.50" width="6.21" height="6.15" fill="#f05e68"/>
<rect x="475.42" y="52.50" width="6.21" height="6.15" fill="#481c9e"/>
<rect x="481.58" y="52.50" width="6.21" height="6.15" fill="#481c9e"/>
<rect x="487.74" y="52.50" width="6.21" height="6.15" fill="#e2101a"/>
<rect x="432.30" y="58.60" width="6.21" height="6.15" fill="#c6bef2"/>
<rect x="438.46" y="58.60" width="6.21" height="6.15" fill="#c6bef2"/>
<rect x="444.62" y="58.60" width="6.21" height="6.15" fill="#481c9e"/>
<rect x="450.78" y="58.60" width="6.21" height="6.15" fill="#481c9e"/>
<rect x="456.94" y="58.60" width="6.21" height="6.15" fill="#f05e68"/>
<rect x="463.10" y="58.60" width="6.21" height="6.15" fill="#f05e68"/>
<rect x="469.26" y="58.60" width="6.21" height="6.15" fill="#e2101a"/>
<rect x="475.42" y="58.60" width="6.21" height="6.15" fill="#481c9e"/>
<rect x="481.58" y="58.60" width="6.21" height="6.15" fill="#c6bef2"/>
<rect x="487.74" y="58.60" width="6.21" height="6.15" fill="#e2101a"/>
<rect x="432.30" y="64.70" width="6.21" height="6.15" fill="#7c6cd4"/>
<rect x="438.46" y="64.70" width="6.21" height="6.15" fill="#481c9e"/>
<rect x="444.62" y="64.70" width="6.21" height="6.15" fill="#e2101a"/>
<rect x="450.78" y="64.70" width="6.21" height="6.15" fill="#f05e68"/>
<rect x="456.94" y="64.70" width="6.21" height="6.15" fill="#eee2f4"/>
<rect x="463.10" y="64.70" width="6.21" height="6.15" fill="#f05e68"/>
<rect x="469.26" y="64.70" width="6.21" height="6.15" fill="#ec3640"/>
<rect x="475.42" y="64.70" width="6.21" height="6.15" fill="#f05e68"/>
<rect x="481.58" y="64.70" width="6.21" height="6.15" fill="#ec3640"/>
<rect x="487.74" y="64.70" width="6.21" height="6.15" fill="#f05e68"/>
<rect x="432.30" y="70.80" width="6.21" height="6.15" fill="#481c9e"/>
<rect x="438.46" y="70.80" width="6.21" height="6.15" fill="#7c6cd4"/>
<rect x="444.62" y="70.80" width="6.21" height="6.15" fill="#f05e68"/>
<rect x="450.78" y="70.80" width="6.21" height="6.15" fill="#eee2f4"/>
<rect x="456.94" y="70.80" width="6.21" height="6.15" fill="#c6bef2"/>
<rect x="463.10" y="70.80" width="6.21" height="6.15" fill="#6250c0"/>
<rect x="469.26" y="70.80" width="6.21" height="6.15" fill="#e2101a"/>
<rect x="475.42" y="70.80" width="6.21" height="6.15" fill="#ec3640"/>
<rect x="481.58" y="70.80" width="6.21" height="6.15" fill="#e2101a"/>
<rect x="487.74" y="70.80" width="6.21" height="6.15" fill="#f05e68"/>
<rect x="432.30" y="76.90" width="6.21" height="6.15" fill="#7c6cd4"/>
<rect x="438.46" y="76.90" width="6.21" height="6.15" fill="#481c9e"/>
<rect x="444.62" y="76.90" width="6.21" height="6.15" fill="#f05e68"/>
<rect x="450.78" y="76.90" width="6.21" height="6.15" fill="#f7bccc"/>
<rect x="456.94" y="76.90" width="6.21" height="6.15" fill="#7c6cd4"/>
<rect x="463.10" y="76.90" width="6.21" height="6.15" fill="#eee2f4"/>
<rect x="469.26" y="76.90" width="6.21" height="6.15" fill="#f05e68"/>
<rect x="475.42" y="76.90" width="6.21" height="6.15" fill="#e2101a"/>
<rect x="481.58" y="76.90" width="6.21" height="6.15" fill="#e2101a"/>
<rect x="487.74" y="76.90" width="6.21" height="6.15" fill="#f05e68"/>
<rect x="432.30" y="83.00" width="6.21" height="6.15" fill="#c6bef2"/>
<rect x="438.46" y="83.00" width="6.21" height="6.15" fill="#481c9e"/>
<rect x="444.62" y="83.00" width="6.21" height="6.15" fill="#eee2f4"/>
<rect x="450.78" y="83.00" width="6.21" height="6.15" fill="#eee2f4"/>
<rect x="456.94" y="83.00" width="6.21" height="6.15" fill="#ec3640"/>
<rect x="463.10" y="83.00" width="6.21" height="6.15" fill="#e2101a"/>
<rect x="469.26" y="83.00" width="6.21" height="6.15" fill="#e2101a"/>
<rect x="475.42" y="83.00" width="6.21" height="6.15" fill="#eee2f4"/>
<rect x="481.58" y="83.00" width="6.21" height="6.15" fill="#f05e68"/>
<rect x="487.74" y="83.00" width="6.21" height="6.15" fill="#e2101a"/>
<rect x="432.30" y="89.10" width="6.21" height="6.15" fill="#7c6cd4"/>
<rect x="438.46" y="89.10" width="6.21" height="6.15" fill="#481c9e"/>
<rect x="444.62" y="89.10" width="6.21" height="6.15" fill="#7c6cd4"/>
<rect x="450.78" y="89.10" width="6.21" height="6.15" fill="#6250c0"/>
<rect x="456.94" y="89.10" width="6.21" height="6.15" fill="#f05e68"/>
<rect x="463.10" y="89.10" width="6.21" height="6.15" fill="#f05e68"/>
<rect x="469.26" y="89.10" width="6.21" height="6.15" fill="#eee2f4"/>
<rect x="475.42" y="89.10" width="6.21" height="6.15" fill="#f05e68"/>
<rect x="481.58" y="89.10" width="6.21" height="6.15" fill="#f05e68"/>
<rect x="487.74" y="89.10" width="6.21" height="6.15" fill="#e2101a"/>
<rect x="432.30" y="95.20" width="6.21" height="6.15" fill="#481c9e"/>
<rect x="438.46" y="95.20" width="6.21" height="6.15" fill="#481c9e"/>
<rect x="444.62" y="95.20" width="6.21" height="6.15" fill="#f05e68"/>
<rect x="450.78" y="95.20" width="6.21" height="6.15" fill="#f05e68"/>
<rect x="456.94" y="95.20" width="6.21" height="6.15" fill="#7c6cd4"/>
<rect x="463.10" y="95.20" width="6.21" height="6.15" fill="#eee2f4"/>
<rect x="469.26" y="95.20" width="6.21" height="6.15" fill="#f7bccc"/>
<rect x="475.42" y="95.20" width="6.21" height="6.15" fill="#e2101a"/>
<rect x="481.58" y="95.20" width="6.21" height="6.15" fill="#e2101a"/>
<rect x="487.74" y="95.20" width="6.21" height="6.15" fill="#f05e68"/>
<rect x="432.30" y="101.30" width="6.21" height="6.15" fill="#7c6cd4"/>
<rect x="438.46" y="101.30" width="6.21" height="6.15" fill="#481c9e"/>
<rect x="444.62" y="101.30" width="6.21" height="6.15" fill="#eee2f4"/>
<rect x="450.78" y="101.30" width="6.21" height="6.15" fill="#6250c0"/>
<rect x="456.94" y="101.30" width="6.21" height="6.15" fill="#f05e68"/>
<rect x="463.10" y="101.30" width="6.21" height="6.15" fill="#f7bccc"/>
<rect x="469.26" y="101.30" width="6.21" height="6.15" fill="#e2101a"/>
<rect x="475.42" y="101.30" width="6.21" height="6.15" fill="#eee2f4"/>
<rect x="481.58" y="101.30" width="6.21" height="6.15" fill="#eee2f4"/>
<rect x="487.74" y="101.30" width="6.21" height="6.15" fill="#ec3640"/>
<rect x="432.30" y="107.40" width="6.21" height="6.15" fill="#c6bef2"/>
<rect x="438.46" y="107.40" width="6.21" height="6.15" fill="#481c9e"/>
<rect x="444.62" y="107.40" width="6.21" height="6.15" fill="#f05e68"/>
<rect x="450.78" y="107.40" width="6.21" height="6.15" fill="#6250c0"/>
<rect x="456.94" y="107.40" width="6.21" height="6.15" fill="#eee2f4"/>
<rect x="463.10" y="107.40" width="6.21" height="6.15" fill="#e2101a"/>
<rect x="469.26" y="107.40" width="6.21" height="6.15" fill="#e2101a"/>
<rect x="475.42" y="107.40" width="6.21" height="6.15" fill="#f05e68"/>
<rect x="481.58" y="107.40" width="6.21" height="6.15" fill="#c6bef2"/>
<rect x="487.74" y="107.40" width="6.21" height="6.15" fill="#c6bef2"/>
<rect x="432.30" y="113.50" width="6.21" height="6.15" fill="#c6bef2"/>
<rect x="438.46" y="113.50" width="6.21" height="6.15" fill="#481c9e"/>
<rect x="444.62" y="113.50" width="6.21" height="6.15" fill="#f05e68"/>
<rect x="450.78" y="113.50" width="6.21" height="6.15" fill="#f7bccc"/>
<rect x="456.94" y="113.50" width="6.21" height="6.15" fill="#eee2f4"/>
<rect x="463.10" y="113.50" width="6.21" height="6.15" fill="#f05e68"/>
<rect x="469.26" y="113.50" width="6.21" height="6.15" fill="#f7bccc"/>
<rect x="475.42" y="113.50" width="6.21" height="6.15" fill="#e2101a"/>
<rect x="481.58" y="113.50" width="6.21" height="6.15" fill="#e2101a"/>
<rect x="487.74" y="113.50" width="6.21" height="6.15" fill="#f05e68"/>
<rect x="432.30" y="119.60" width="6.21" height="6.15" fill="#f05e68"/>
<rect x="438.46" y="119.60" width="6.21" height="6.15" fill="#481c9e"/>
<rect x="444.62" y="119.60" width="6.21" height="6.15" fill="#7c6cd4"/>
<rect x="450.78" y="119.60" width="6.21" height="6.15" fill="#481c9e"/>
<rect x="456.94" y="119.60" width="6.21" height="6.15" fill="#6250c0"/>
<rect x="463.10" y="119.60" width="6.21" height="6.15" fill="#e2101a"/>
<rect x="469.26" y="119.60" width="6.21" height="6.15" fill="#ec3640"/>
<rect x="475.42" y="119.60" width="6.21" height="6.15" fill="#eee2f4"/>
<rect x="481.58" y="119.60" width="6.21" height="6.15" fill="#f7bccc"/>
<rect x="487.74" y="119.60" width="6.21" height="6.15" fill="#f05e68"/>
<rect x="432.30" y="125.70" width="6.21" height="6.15" fill="#eee2f4"/>
<rect x="438.46" y="125.70" width="6.21" height="6.15" fill="#481c9e"/>
<rect x="444.62" y="125.70" width="6.21" height="6.15" fill="#f7bccc"/>
<rect x="450.78" y="125.70" width="6.21" height="6.15" fill="#c6bef2"/>
<rect x="456.94" y="125.70" width="6.21" height="6.15" fill="#f05e68"/>
<rect x="463.10" y="125.70" width="6.21" height="6.15" fill="#e2101a"/>
<rect x="469.26" y="125.70" width="6.21" height="6.15" fill="#e2101a"/>
<rect x="475.42" y="125.70" width="6.21" height="6.15" fill="#ec3640"/>
<rect x="481.58" y="125.70" width="6.21" height="6.15" fill="#f05e68"/>
<rect x="487.74" y="125.70" width="6.21" height="6.15" fill="#e2101a"/>
<rect x="432.30" y="131.80" width="6.21" height="6.15" fill="#481c9e"/>
<rect x="438.46" y="131.80" width="6.21" height="6.15" fill="#481c9e"/>
<rect x="444.62" y="131.80" width="6.21" height="6.15" fill="#f7bccc"/>
<rect x="450.78" y="131.80" width="6.21" height="6.15" fill="#c6bef2"/>
<rect x="456.94" y="131.80" width="6.21" height="6.15" fill="#c6bef2"/>
<rect x="463.10" y="131.80" width="6.21" height="6.15" fill="#eee2f4"/>
<rect x="469.26" y="131.80" width="6.21" height="6.15" fill="#e2101a"/>
<rect x="475.42" y="131.80" width="6.21" height="6.15" fill="#e2101a"/>
<rect x="481.58" y="131.80" width="6.21" height="6.15" fill="#e2101a"/>
<rect x="487.74" y="131.80" width="6.21" height="6.15" fill="#e2101a"/>
<rect x="432.30" y="137.90" width="6.21" height="6.15" fill="#c6bef2"/>
<rect x="438.46" y="137.90" width="6.21" height="6.15" fill="#481c9e"/>
<rect x="444.62" y="137.90" width="6.21" height="6.15" fill="#f7bccc"/>
<rect x="450.78" y="137.90" width="6.21" height="6.15" fill="#c6bef2"/>
<rect x="456.94" y="137.90" width="6.21" height="6.15" fill="#c6bef2"/>
<rect x="463.10" y="137.90" width="6.21" height="6.15" fill="#ec3640"/>
<rect x="469.26" y="137.90" width="6.21" height="6.15" fill="#e2101a"/>
<rect x="475.42" y="137.90" width="6.21" height="6.15" fill="#e2101a"/>
<rect x="481.58" y="137.90" width="6.21" height="6.15" fill="#ec3640"/>
<rect x="487.74" y="137.90" width="6.21" height="6.15" fill="#f7bccc"/>
<rect x="432.30" y="144.00" width="6.21" height="6.15" fill="#481c9e"/>
<rect x="438.46" y="144.00" width="6.21" height="6.15" fill="#481c9e"/>
<rect x="444.62" y="144.00" width="6.21" height="6.15" fill="#f05e68"/>
<rect x="450.78" y="144.00" width="6.21" height="6.15" fill="#eee2f4"/>
<rect x="456.94" y="144.00" width="6.21" height="6.15" fill="#6250c0"/>
<rect x="463.10" y="144.00" width="6.21" height="6.15" fill="#f7bccc"/>
<rect x="469.26" y="144.00" width="6.21" height="6.15" fill="#e2101a"/>
<rect x="475.42" y="144.00" width="6.21" height="6.15" fill="#e2101a"/>
<rect x="481.58" y="144.00" width="6.21" height="6.15" fill="#e2101a"/>
<rect x="487.74" y="144.00" width="6.21" height="6.15" fill="#f05e68"/>
<rect x="432.30" y="150.10" width="6.21" height="6.15" fill="#7c6cd4"/>
<rect x="438.46" y="150.10" width="6.21" height="6.15" fill="#481c9e"/>
<rect x="444.62" y="150.10" width="6.21" height="6.15" fill="#f7bccc"/>
<rect x="450.78" y="150.10" width="6.21" height="6.15" fill="#c6bef2"/>
<rect x="456.94" y="150.10" width="6.21" height="6.15" fill="#eee2f4"/>
<rect x="463.10" y="150.10" width="6.21" height="6.15" fill="#ec3640"/>
<rect x="469.26" y="150.10" width="6.21" height="6.15" fill="#f05e68"/>
<rect x="475.42" y="150.10" width="6.21" height="6.15" fill="#e2101a"/>
<rect x="481.58" y="150.10" width="6.21" height="6.15" fill="#e2101a"/>
<rect x="487.74" y="150.10" width="6.21" height="6.15" fill="#f05e68"/>
<rect x="432.30" y="156.20" width="6.21" height="6.15" fill="#c6bef2"/>
<rect x="438.46" y="156.20" width="6.21" height="6.15" fill="#481c9e"/>
<rect x="444.62" y="156.20" width="6.21" height="6.15" fill="#c6bef2"/>
<rect x="450.78" y="156.20" width="6.21" height="6.15" fill="#6250c0"/>
<rect x="456.94" y="156.20" width="6.21" height="6.15" fill="#c6bef2"/>
<rect x="463.10" y="156.20" width="6.21" height="6.15" fill="#f7bccc"/>
<rect x="469.26" y="156.20" width="6.21" height="6.15" fill="#e2101a"/>
<rect x="475.42" y="156.20" width="6.21" height="6.15" fill="#ec3640"/>
<rect x="481.58" y="156.20" width="6.21" height="6.15" fill="#ec3640"/>
<rect x="487.74" y="156.20" width="6.21" height="6.15" fill="#e2101a"/>
<rect x="432.30" y="162.30" width="6.21" height="6.15" fill="#6250c0"/>
<rect x="438.46" y="162.30" width="6.21" height="6.15" fill="#7c6cd4"/>
<rect x="444.62" y="162.30" width="6.21" height="6.15" fill="#7c6cd4"/>
<rect x="450.78" y="162.30" width="6.21" height="6.15" fill="#481c9e"/>
<rect x="456.94" y="162.30" width="6.21" height="6.15" fill="#eee2f4"/>
<rect x="463.10" y="162.30" width="6.21" height="6.15" fill="#f05e68"/>
<rect x="469.26" y="162.30" width="6.21" height="6.15" fill="#e2101a"/>
<rect x="475.42" y="162.30" width="6.21" height="6.15" fill="#f05e68"/>
<rect x="481.58" y="162.30" width="6.21" height="6.15" fill="#f05e68"/>
<rect x="487.74" y="162.30" width="6.21" height="6.15" fill="#f05e68"/>
<rect x="432.30" y="168.40" width="6.21" height="6.15" fill="#481c9e"/>
<rect x="438.46" y="168.40" width="6.21" height="6.15" fill="#6250c0"/>
<rect x="444.62" y="168.40" width="6.21" height="6.15" fill="#6250c0"/>
<rect x="450.78" y="168.40" width="6.21" height="6.15" fill="#481c9e"/>
<rect x="456.94" y="168.40" width="6.21" height="6.15" fill="#481c9e"/>
<rect x="463.10" y="168.40" width="6.21" height="6.15" fill="#f05e68"/>
<rect x="469.26" y="168.40" width="6.21" height="6.15" fill="#e2101a"/>
<rect x="475.42" y="168.40" width="6.21" height="6.15" fill="#ec3640"/>
<rect x="481.58" y="168.40" width="6.21" height="6.15" fill="#f05e68"/>
<rect x="487.74" y="168.40" width="6.21" height="6.15" fill="#f05e68"/>
<line x1="432.30" y1="28.10" x2="432.30" y2="174.50" stroke="#14082a" stroke-opacity="0.7" stroke-width="0.95"/>
<line x1="438.46" y1="28.10" x2="438.46" y2="174.50" stroke="#14082a" stroke-opacity="0.7" stroke-width="0.95"/>
<line x1="444.62" y1="28.10" x2="444.62" y2="174.50" stroke="#14082a" stroke-opacity="0.7" stroke-width="0.95"/>
<line x1="450.78" y1="28.10" x2="450.78" y2="174.50" stroke="#14082a" stroke-opacity="0.7" stroke-width="0.95"/>
<line x1="456.94" y1="28.10" x2="456.94" y2="174.50" stroke="#14082a" stroke-opacity="0.7" stroke-width="0.95"/>
<line x1="463.10" y1="28.10" x2="463.10" y2="174.50" stroke="#14082a" stroke-opacity="0.7" stroke-width="0.95"/>
<line x1="469.26" y1="28.10" x2="469.26" y2="174.50" stroke="#14082a" stroke-opacity="0.7" stroke-width="0.95"/>
<line x1="475.42" y1="28.10" x2="475.42" y2="174.50" stroke="#14082a" stroke-opacity="0.7" stroke-width="0.95"/>
<line x1="481.58" y1="28.10" x2="481.58" y2="174.50" stroke="#14082a" stroke-opacity="0.7" stroke-width="0.95"/>
<line x1="487.74" y1="28.10" x2="487.74" y2="174.50" stroke="#14082a" stroke-opacity="0.7" stroke-width="0.95"/>
<line x1="493.90" y1="28.10" x2="493.90" y2="174.50" stroke="#14082a" stroke-opacity="0.7" stroke-width="0.95"/>
<line x1="432.30" y1="28.10" x2="493.90" y2="28.10" stroke="#14082a" stroke-opacity="0.7" stroke-width="0.95"/>
<line x1="432.30" y1="34.20" x2="493.90" y2="34.20" stroke="#14082a" stroke-opacity="0.7" stroke-width="0.95"/>
<line x1="432.30" y1="40.30" x2="493.90" y2="40.30" stroke="#14082a" stroke-opacity="0.7" stroke-width="0.95"/>
<line x1="432.30" y1="46.40" x2="493.90" y2="46.40" stroke="#14082a" stroke-opacity="0.7" stroke-width="0.95"/>
<line x1="432.30" y1="52.50" x2="493.90" y2="52.50" stroke="#14082a" stroke-opacity="0.7" stroke-width="0.95"/>
<line x1="432.30" y1="58.60" x2="493.90" y2="58.60" stroke="#14082a" stroke-opacity="0.7" stroke-width="0.95"/>
<line x1="432.30" y1="64.70" x2="493.90" y2="64.70" stroke="#14082a" stroke-opacity="0.7" stroke-width="0.95"/>
<line x1="432.30" y1="70.80" x2="493.90" y2="70.80" stroke="#14082a" stroke-opacity="0.7" stroke-width="0.95"/>
<line x1="432.30" y1="76.90" x2="493.90" y2="76.90" stroke="#14082a" stroke-opacity="0.7" stroke-width="0.95"/>
<line x1="432.30" y1="83.00" x2="493.90" y2="83.00" stroke="#14082a" stroke-opacity="0.7" stroke-width="0.95"/>
<line x1="432.30" y1="89.10" x2="493.90" y2="89.10" stroke="#14082a" stroke-opacity="0.7" stroke-width="0.95"/>
<line x1="432.30" y1="95.20" x2="493.90" y2="95.20" stroke="#14082a" stroke-opacity="0.7" stroke-width="0.95"/>
<line x1="432.30" y1="101.30" x2="493.90" y2="101.30" stroke="#14082a" stroke-opacity="0.7" stroke-width="0.95"/>
<line x1="432.30" y1="107.40" x2="493.90" y2="107.40" stroke="#14082a" stroke-opacity="0.7" stroke-width="0.95"/>
<line x1="432.30" y1="113.50" x2="493.90" y2="113.50" stroke="#14082a" stroke-opacity="0.7" stroke-width="0.95"/>
<line x1="432.30" y1="119.60" x2="493.90" y2="119.60" stroke="#14082a" stroke-opacity="0.7" stroke-width="0.95"/>
<line x1="432.30" y1="125.70" x2="493.90" y2="125.70" stroke="#14082a" stroke-opacity="0.7" stroke-width="0.95"/>
<line x1="432.30" y1="131.80" x2="493.90" y2="131.80" stroke="#14082a" stroke-opacity="0.7" stroke-width="0.95"/>
<line x1="432.30" y1="137.90" x2="493.90" y2="137.90" stroke="#14082a" stroke-opacity="0.7" stroke-width="0.95"/>
<line x1="432.30" y1="144.00" x2="493.90" y2="144.00" stroke="#14082a" stroke-opacity="0.7" stroke-width="0.95"/>
<line x1="432.30" y1="150.10" x2="493.90" y2="150.10" stroke="#14082a" stroke-opacity="0.7" stroke-width="0.95"/>
<line x1="432.30" y1="156.20" x2="493.90" y2="156.20" stroke="#14082a" stroke-opacity="0.7" stroke-width="0.95"/>
<line x1="432.30" y1="162.30" x2="493.90" y2="162.30" stroke="#14082a" stroke-opacity="0.7" stroke-width="0.95"/>
<line x1="432.30" y1="168.40" x2="493.90" y2="168.40" stroke="#14082a" stroke-opacity="0.7" stroke-width="0.95"/>
<line x1="432.30" y1="174.50" x2="493.90" y2="174.50" stroke="#14082a" stroke-opacity="0.7" stroke-width="0.95"/>
<line x1="493.90" y1="28.10" x2="520.00" y2="28.10" stroke="#555" stroke-width="0.8"/>
<line x1="493.90" y1="34.20" x2="520.00" y2="34.20" stroke="#555" stroke-width="0.8"/>
<line x1="493.90" y1="40.30" x2="520.00" y2="40.30" stroke="#555" stroke-width="0.8"/>
<line x1="493.90" y1="46.40" x2="520.00" y2="46.40" stroke="#555" stroke-width="0.8"/>
<line x1="493.90" y1="52.50" x2="520.00" y2="52.50" stroke="#555" stroke-width="0.8"/>
<line x1="493.90" y1="58.60" x2="520.00" y2="58.60" stroke="#555" stroke-width="0.8"/>
<line x1="493.90" y1="64.70" x2="520.00" y2="64.70" stroke="#555" stroke-width="0.8"/>
<line x1="493.90" y1="70.80" x2="520.00" y2="70.80" stroke="#555" stroke-width="0.8"/>
<line x1="493.90" y1="76.90" x2="520.00" y2="76.90" stroke="#555" stroke-width="0.8"/>
<line x1="493.90" y1="83.00" x2="520.00" y2="83.00" stroke="#555" stroke-width="0.8"/>
<line x1="493.90" y1="89.10" x2="520.00" y2="89.10" stroke="#555" stroke-width="0.8"/>
<line x1="493.90" y1="95.20" x2="520.00" y2="95.20" stroke="#555" stroke-width="0.8"/>
<line x1="493.90" y1="101.30" x2="520.00" y2="101.30" stroke="#555" stroke-width="0.8"/>
<line x1="493.90" y1="107.40" x2="520.00" y2="107.40" stroke="#555" stroke-width="0.8"/>
<line x1="493.90" y1="113.50" x2="520.00" y2="113.50" stroke="#555" stroke-width="0.8"/>
<line x1="493.90" y1="119.60" x2="520.00" y2="119.60" stroke="#555" stroke-width="0.8"/>
<line x1="493.90" y1="125.70" x2="520.00" y2="125.70" stroke="#555" stroke-width="0.8"/>
<line x1="493.90" y1="131.80" x2="520.00" y2="131.80" stroke="#555" stroke-width="0.8"/>
<line x1="493.90" y1="137.90" x2="520.00" y2="137.90" stroke="#555" stroke-width="0.8"/>
<line x1="493.90" y1="144.00" x2="520.00" y2="144.00" stroke="#555" stroke-width="0.8"/>
<line x1="493.90" y1="150.10" x2="520.00" y2="150.10" stroke="#555" stroke-width="0.8"/>
<line x1="493.90" y1="156.20" x2="520.00" y2="156.20" stroke="#555" stroke-width="0.8"/>
<line x1="493.90" y1="162.30" x2="520.00" y2="162.30" stroke="#555" stroke-width="0.8"/>
<line x1="493.90" y1="168.40" x2="520.00" y2="168.40" stroke="#555" stroke-width="0.8"/>
<line x1="493.90" y1="174.50" x2="520.00" y2="174.50" stroke="#555" stroke-width="0.8"/>
<text transform="translate(497.50,32.90) scale(0.92,1)" font-size="4.8" fill="#222">MDM2</text>
<text transform="translate(497.50,39.00) scale(0.92,1)" font-size="4.8" fill="#222">TP53</text>
<text transform="translate(497.50,45.10) scale(0.92,1)" font-size="4.8" fill="#222">WEE1</text>
<text transform="translate(497.50,51.20) scale(0.92,1)" font-size="4.8" fill="#222">MYT1</text>
<text transform="translate(497.50,57.30) scale(0.92,1)" font-size="4.8" fill="#222">ATM</text>
<text transform="translate(497.50,63.40) scale(0.92,1)" font-size="4.8" fill="#222">CDKN1A</text>
<text transform="translate(497.50,69.50) scale(0.92,1)" font-size="4.8" fill="#222">YWHAQ</text>
<text transform="translate(497.50,75.60) scale(0.92,1)" font-size="4.8" fill="#222">PLK1</text>
<text transform="translate(497.50,81.70) scale(0.92,1)" font-size="4.8" fill="#222">EP300</text>
<text transform="translate(497.50,87.80) scale(0.92,1)" font-size="4.8" fill="#222">CCNB1</text>
<text transform="translate(497.50,93.90) scale(0.92,1)" font-size="4.8" fill="#222">GADD45A</text>
<text transform="translate(497.50,100.00) scale(0.92,1)" font-size="4.8" fill="#222">CDK1</text>
<text transform="translate(497.50,106.10) scale(0.92,1)" font-size="4.8" fill="#222">CHEK1</text>
<text transform="translate(497.50,112.20) scale(0.92,1)" font-size="4.8" fill="#222">CDC25A</text>
<text transform="translate(497.50,118.30) scale(0.92,1)" font-size="4.8" fill="#222">BRCA1</text>
<text transform="translate(497.50,124.40) scale(0.92,1)" font-size="4.8" fill="#222">CDC24</text>
<text transform="translate(497.50,130.50) scale(0.92,1)" font-size="4.8" fill="#222">ATR</text>
<text transform="translate(497.50,136.60) scale(0.92,1)" font-size="4.8" fill="#222">CDKN2D</text>
<text transform="translate(497.50,142.70) scale(0.92,1)" font-size="4.8" fill="#222">PRKDC</text>
<text transform="translate(497.50,148.80) scale(0.92,1)" font-size="4.8" fill="#222">CDC25B</text>
<text transform="translate(497.50,154.90) scale(0.92,1)" font-size="4.8" fill="#222">YWHAH</text>
<text transform="translate(497.50,161.00) scale(0.92,1)" font-size="4.8" fill="#222">CHEK2</text>
<text transform="translate(497.50,167.10) scale(0.92,1)" font-size="4.8" fill="#222">RPS6KA1</text>
<text transform="translate(497.50,173.20) scale(0.92,1)" font-size="4.8" fill="#222">CDC25C</text>
<rect x="164.20" y="190.60" width="6.50" height="25.00" fill="#c8c8c8"/>
<rect x="170.70" y="190.60" width="6.50" height="25.00" fill="#c8c8c8"/>
<rect x="177.20" y="190.60" width="6.50" height="25.00" fill="#c8c8c8"/>
<rect x="183.70" y="190.60" width="6.50" height="25.00" fill="#c8c8c8"/>
<rect x="190.20" y="190.60" width="6.50" height="25.00" fill="#c8c8c8"/>
<rect x="196.70" y="190.60" width="6.50" height="25.00" fill="#f2c012"/>
<rect x="203.20" y="190.60" width="6.50" height="25.00" fill="#f2c012"/>
<rect x="209.70" y="190.60" width="6.50" height="25.00" fill="#f2c012"/>
<rect x="216.20" y="190.60" width="6.50" height="25.00" fill="#f2c012"/>
<rect x="222.70" y="190.60" width="6.50" height="25.00" fill="#f2c012"/>
<line x1="164.20" y1="190.60" x2="164.20" y2="215.60" stroke="#5a5a5a" stroke-width="0.9"/>
<line x1="170.70" y1="190.60" x2="170.70" y2="215.60" stroke="#5a5a5a" stroke-width="0.9"/>
<line x1="177.20" y1="190.60" x2="177.20" y2="215.60" stroke="#5a5a5a" stroke-width="0.9"/>
<line x1="183.70" y1="190.60" x2="183.70" y2="215.60" stroke="#5a5a5a" stroke-width="0.9"/>
<line x1="190.20" y1="190.60" x2="190.20" y2="215.60" stroke="#5a5a5a" stroke-width="0.9"/>
<line x1="196.70" y1="190.60" x2="196.70" y2="215.60" stroke="#5a5a5a" stroke-width="0.9"/>
<line x1="203.20" y1="190.60" x2="203.20" y2="215.60" stroke="#5a5a5a" stroke-width="0.9"/>
<line x1="209.70" y1="190.60" x2="209.70" y2="215.60" stroke="#5a5a5a" stroke-width="0.9"/>
<line x1="216.20" y1="190.60" x2="216.20" y2="215.60" stroke="#5a5a5a" stroke-width="0.9"/>
<line x1="222.70" y1="190.60" x2="222.70" y2="215.60" stroke="#5a5a5a" stroke-width="0.9"/>
<line x1="229.20" y1="190.60" x2="229.20" y2="215.60" stroke="#5a5a5a" stroke-width="0.9"/>
<line x1="164.20" y1="215.60" x2="229.20" y2="215.60" stroke="#333" stroke-width="0.8"/>
<text transform="translate(168.85,213.40) rotate(-90)" font-size="4.5" fill="#222" textLength="18.5" lengthAdjust="spacingAndGlyphs">KMS12 0h</text>
<text transform="translate(175.35,213.40) rotate(-90)" font-size="4.5" fill="#222" textLength="18.5" lengthAdjust="spacingAndGlyphs">U266 0h</text>
<text transform="translate(181.85,213.40) rotate(-90)" font-size="4.5" fill="#222" textLength="18.5" lengthAdjust="spacingAndGlyphs">L363 0h</text>
<text transform="translate(188.35,213.40) rotate(-90)" font-size="4.5" fill="#222" textLength="18.5" lengthAdjust="spacingAndGlyphs">LP1 0h</text>
<text transform="translate(194.85,213.40) rotate(-90)" font-size="4.5" fill="#222" textLength="18.5" lengthAdjust="spacingAndGlyphs">U937 0h</text>
<text transform="translate(201.35,213.40) rotate(-90)" font-size="4.5" fill="#222" textLength="20.0" lengthAdjust="spacingAndGlyphs">KMS12 48h</text>
<text transform="translate(207.85,213.40) rotate(-90)" font-size="4.5" fill="#222" textLength="20.0" lengthAdjust="spacingAndGlyphs">U266 48h</text>
<text transform="translate(214.35,213.40) rotate(-90)" font-size="4.5" fill="#222" textLength="20.0" lengthAdjust="spacingAndGlyphs">L363 48h</text>
<text transform="translate(220.85,213.40) rotate(-90)" font-size="4.5" fill="#222" textLength="20.0" lengthAdjust="spacingAndGlyphs">LP1 48h</text>
<text transform="translate(227.35,213.40) rotate(-90)" font-size="4.5" fill="#222" textLength="20.0" lengthAdjust="spacingAndGlyphs">U937 48h</text>
<rect x="164.20" y="215.80" width="6.55" height="6.54" fill="#c6bef2"/>
<rect x="170.70" y="215.80" width="6.55" height="6.54" fill="#481c9e"/>
<rect x="177.20" y="215.80" width="6.55" height="6.54" fill="#eee2f4"/>
<rect x="183.70" y="215.80" width="6.55" height="6.54" fill="#eee2f4"/>
<rect x="190.20" y="215.80" width="6.55" height="6.54" fill="#7c6cd4"/>
<rect x="196.70" y="215.80" width="6.55" height="6.54" fill="#e2101a"/>
<rect x="203.20" y="215.80" width="6.55" height="6.54" fill="#ec3640"/>
<rect x="209.70" y="215.80" width="6.55" height="6.54" fill="#e2101a"/>
<rect x="216.20" y="215.80" width="6.55" height="6.54" fill="#ec3640"/>
<rect x="222.70" y="215.80" width="6.55" height="6.54" fill="#f05e68"/>
<rect x="164.20" y="222.29" width="6.55" height="6.54" fill="#7c6cd4"/>
<rect x="170.70" y="222.29" width="6.55" height="6.54" fill="#481c9e"/>
<rect x="177.20" y="222.29" width="6.55" height="6.54" fill="#6250c0"/>
<rect x="183.70" y="222.29" width="6.55" height="6.54" fill="#481c9e"/>
<rect x="190.20" y="222.29" width="6.55" height="6.54" fill="#c6bef2"/>
<rect x="196.70" y="222.29" width="6.55" height="6.54" fill="#f05e68"/>
<rect x="203.20" y="222.29" width="6.55" height="6.54" fill="#e2101a"/>
<rect x="209.70" y="222.29" width="6.55" height="6.54" fill="#f7bccc"/>
<rect x="216.20" y="222.29" width="6.55" height="6.54" fill="#f7bccc"/>
<rect x="222.70" y="222.29" width="6.55" height="6.54" fill="#ec3640"/>
<rect x="164.20" y="228.78" width="6.55" height="6.54" fill="#c6bef2"/>
<rect x="170.70" y="228.78" width="6.55" height="6.54" fill="#481c9e"/>
<rect x="177.20" y="228.78" width="6.55" height="6.54" fill="#f7bccc"/>
<rect x="183.70" y="228.78" width="6.55" height="6.54" fill="#c6bef2"/>
<rect x="190.20" y="228.78" width="6.55" height="6.54" fill="#7c6cd4"/>
<rect x="196.70" y="228.78" width="6.55" height="6.54" fill="#f05e68"/>
<rect x="203.20" y="228.78" width="6.55" height="6.54" fill="#e2101a"/>
<rect x="209.70" y="228.78" width="6.55" height="6.54" fill="#ec3640"/>
<rect x="216.20" y="228.78" width="6.55" height="6.54" fill="#e2101a"/>
<rect x="222.70" y="228.78" width="6.55" height="6.54" fill="#f05e68"/>
<rect x="164.20" y="235.28" width="6.55" height="6.54" fill="#c6bef2"/>
<rect x="170.70" y="235.28" width="6.55" height="6.54" fill="#481c9e"/>
<rect x="177.20" y="235.28" width="6.55" height="6.54" fill="#eee2f4"/>
<rect x="183.70" y="235.28" width="6.55" height="6.54" fill="#c6bef2"/>
<rect x="190.20" y="235.28" width="6.55" height="6.54" fill="#6250c0"/>
<rect x="196.70" y="235.28" width="6.55" height="6.54" fill="#f05e68"/>
<rect x="203.20" y="235.28" width="6.55" height="6.54" fill="#f05e68"/>
<rect x="209.70" y="235.28" width="6.55" height="6.54" fill="#e2101a"/>
<rect x="216.20" y="235.28" width="6.55" height="6.54" fill="#e2101a"/>
<rect x="222.70" y="235.28" width="6.55" height="6.54" fill="#f05e68"/>
<rect x="164.20" y="241.77" width="6.55" height="6.54" fill="#6250c0"/>
<rect x="170.70" y="241.77" width="6.55" height="6.54" fill="#481c9e"/>
<rect x="177.20" y="241.77" width="6.55" height="6.54" fill="#f7bccc"/>
<rect x="183.70" y="241.77" width="6.55" height="6.54" fill="#c6bef2"/>
<rect x="190.20" y="241.77" width="6.55" height="6.54" fill="#7c6cd4"/>
<rect x="196.70" y="241.77" width="6.55" height="6.54" fill="#f05e68"/>
<rect x="203.20" y="241.77" width="6.55" height="6.54" fill="#f05e68"/>
<rect x="209.70" y="241.77" width="6.55" height="6.54" fill="#e2101a"/>
<rect x="216.20" y="241.77" width="6.55" height="6.54" fill="#e2101a"/>
<rect x="222.70" y="241.77" width="6.55" height="6.54" fill="#f05e68"/>
<rect x="164.20" y="248.26" width="6.55" height="6.54" fill="#7c6cd4"/>
<rect x="170.70" y="248.26" width="6.55" height="6.54" fill="#481c9e"/>
<rect x="177.20" y="248.26" width="6.55" height="6.54" fill="#eee2f4"/>
<rect x="183.70" y="248.26" width="6.55" height="6.54" fill="#7c6cd4"/>
<rect x="190.20" y="248.26" width="6.55" height="6.54" fill="#eee2f4"/>
<rect x="196.70" y="248.26" width="6.55" height="6.54" fill="#f05e68"/>
<rect x="203.20" y="248.26" width="6.55" height="6.54" fill="#f05e68"/>
<rect x="209.70" y="248.26" width="6.55" height="6.54" fill="#f05e68"/>
<rect x="216.20" y="248.26" width="6.55" height="6.54" fill="#ec3640"/>
<rect x="222.70" y="248.26" width="6.55" height="6.54" fill="#e2101a"/>
<rect x="164.20" y="254.75" width="6.55" height="6.54" fill="#c6bef2"/>
<rect x="170.70" y="254.75" width="6.55" height="6.54" fill="#481c9e"/>
<rect x="177.20" y="254.75" width="6.55" height="6.54" fill="#7c6cd4"/>
<rect x="183.70" y="254.75" width="6.55" height="6.54" fill="#481c9e"/>
<rect x="190.20" y="254.75" width="6.55" height="6.54" fill="#c6bef2"/>
<rect x="196.70" y="254.75" width="6.55" height="6.54" fill="#f05e68"/>
<rect x="203.20" y="254.75" width="6.55" height="6.54" fill="#e2101a"/>
<rect x="209.70" y="254.75" width="6.55" height="6.54" fill="#f05e68"/>
<rect x="216.20" y="254.75" width="6.55" height="6.54" fill="#f05e68"/>
<rect x="222.70" y="254.75" width="6.55" height="6.54" fill="#f05e68"/>
<rect x="164.20" y="261.24" width="6.55" height="6.54" fill="#6250c0"/>
<rect x="170.70" y="261.24" width="6.55" height="6.54" fill="#481c9e"/>
<rect x="177.20" y="261.24" width="6.55" height="6.54" fill="#eee2f4"/>
<rect x="183.70" y="261.24" width="6.55" height="6.54" fill="#7c6cd4"/>
<rect x="190.20" y="261.24" width="6.55" height="6.54" fill="#c6bef2"/>
<rect x="196.70" y="261.24" width="6.55" height="6.54" fill="#f05e68"/>
<rect x="203.20" y="261.24" width="6.55" height="6.54" fill="#e2101a"/>
<rect x="209.70" y="261.24" width="6.55" height="6.54" fill="#f05e68"/>
<rect x="216.20" y="261.24" width="6.55" height="6.54" fill="#f05e68"/>
<rect x="222.70" y="261.24" width="6.55" height="6.54" fill="#f05e68"/>
<rect x="164.20" y="267.74" width="6.55" height="6.54" fill="#481c9e"/>
<rect x="170.70" y="267.74" width="6.55" height="6.54" fill="#c6bef2"/>
<rect x="177.20" y="267.74" width="6.55" height="6.54" fill="#c6bef2"/>
<rect x="183.70" y="267.74" width="6.55" height="6.54" fill="#7c6cd4"/>
<rect x="190.20" y="267.74" width="6.55" height="6.54" fill="#7c6cd4"/>
<rect x="196.70" y="267.74" width="6.55" height="6.54" fill="#f7bccc"/>
<rect x="203.20" y="267.74" width="6.55" height="6.54" fill="#e2101a"/>
<rect x="209.70" y="267.74" width="6.55" height="6.54" fill="#f05e68"/>
<rect x="216.20" y="267.74" width="6.55" height="6.54" fill="#f05e68"/>
<rect x="222.70" y="267.74" width="6.55" height="6.54" fill="#f05e68"/>
<rect x="164.20" y="274.23" width="6.55" height="6.54" fill="#eee2f4"/>
<rect x="170.70" y="274.23" width="6.55" height="6.54" fill="#481c9e"/>
<rect x="177.20" y="274.23" width="6.55" height="6.54" fill="#6250c0"/>
<rect x="183.70" y="274.23" width="6.55" height="6.54" fill="#6250c0"/>
<rect x="190.20" y="274.23" width="6.55" height="6.54" fill="#eee2f4"/>
<rect x="196.70" y="274.23" width="6.55" height="6.54" fill="#e2101a"/>
<rect x="203.20" y="274.23" width="6.55" height="6.54" fill="#ec3640"/>
<rect x="209.70" y="274.23" width="6.55" height="6.54" fill="#f05e68"/>
<rect x="216.20" y="274.23" width="6.55" height="6.54" fill="#f05e68"/>
<rect x="222.70" y="274.23" width="6.55" height="6.54" fill="#e2101a"/>
<rect x="164.20" y="280.72" width="6.55" height="6.54" fill="#c6bef2"/>
<rect x="170.70" y="280.72" width="6.55" height="6.54" fill="#481c9e"/>
<rect x="177.20" y="280.72" width="6.55" height="6.54" fill="#eee2f4"/>
<rect x="183.70" y="280.72" width="6.55" height="6.54" fill="#c6bef2"/>
<rect x="190.20" y="280.72" width="6.55" height="6.54" fill="#7c6cd4"/>
<rect x="196.70" y="280.72" width="6.55" height="6.54" fill="#e2101a"/>
<rect x="203.20" y="280.72" width="6.55" height="6.54" fill="#e2101a"/>
<rect x="209.70" y="280.72" width="6.55" height="6.54" fill="#f05e68"/>
<rect x="216.20" y="280.72" width="6.55" height="6.54" fill="#ec3640"/>
<rect x="222.70" y="280.72" width="6.55" height="6.54" fill="#f05e68"/>
<rect x="164.20" y="287.21" width="6.55" height="6.54" fill="#c6bef2"/>
<rect x="170.70" y="287.21" width="6.55" height="6.54" fill="#481c9e"/>
<rect x="177.20" y="287.21" width="6.55" height="6.54" fill="#eee2f4"/>
<rect x="183.70" y="287.21" width="6.55" height="6.54" fill="#7c6cd4"/>
<rect x="190.20" y="287.21" width="6.55" height="6.54" fill="#eee2f4"/>
<rect x="196.70" y="287.21" width="6.55" height="6.54" fill="#e2101a"/>
<rect x="203.20" y="287.21" width="6.55" height="6.54" fill="#e2101a"/>
<rect x="209.70" y="287.21" width="6.55" height="6.54" fill="#ec3640"/>
<rect x="216.20" y="287.21" width="6.55" height="6.54" fill="#ec3640"/>
<rect x="222.70" y="287.21" width="6.55" height="6.54" fill="#ec3640"/>
<rect x="164.20" y="293.70" width="6.55" height="6.54" fill="#481c9e"/>
<rect x="170.70" y="293.70" width="6.55" height="6.54" fill="#481c9e"/>
<rect x="177.20" y="293.70" width="6.55" height="6.54" fill="#c6bef2"/>
<rect x="183.70" y="293.70" width="6.55" height="6.54" fill="#6250c0"/>
<rect x="190.20" y="293.70" width="6.55" height="6.54" fill="#481c9e"/>
<rect x="196.70" y="293.70" width="6.55" height="6.54" fill="#f05e68"/>
<rect x="203.20" y="293.70" width="6.55" height="6.54" fill="#e2101a"/>
<rect x="209.70" y="293.70" width="6.55" height="6.54" fill="#f05e68"/>
<rect x="216.20" y="293.70" width="6.55" height="6.54" fill="#f7bccc"/>
<rect x="222.70" y="293.70" width="6.55" height="6.54" fill="#f05e68"/>
<rect x="164.20" y="300.20" width="6.55" height="6.54" fill="#481c9e"/>
<rect x="170.70" y="300.20" width="6.55" height="6.54" fill="#481c9e"/>
<rect x="177.20" y="300.20" width="6.55" height="6.54" fill="#f7bccc"/>
<rect x="183.70" y="300.20" width="6.55" height="6.54" fill="#6250c0"/>
<rect x="190.20" y="300.20" width="6.55" height="6.54" fill="#6250c0"/>
<rect x="196.70" y="300.20" width="6.55" height="6.54" fill="#f05e68"/>
<rect x="203.20" y="300.20" width="6.55" height="6.54" fill="#e2101a"/>
<rect x="209.70" y="300.20" width="6.55" height="6.54" fill="#ec3640"/>
<rect x="216.20" y="300.20" width="6.55" height="6.54" fill="#f05e68"/>
<rect x="222.70" y="300.20" width="6.55" height="6.54" fill="#ec3640"/>
<rect x="164.20" y="306.69" width="6.55" height="6.54" fill="#6250c0"/>
<rect x="170.70" y="306.69" width="6.55" height="6.54" fill="#481c9e"/>
<rect x="177.20" y="306.69" width="6.55" height="6.54" fill="#eee2f4"/>
<rect x="183.70" y="306.69" width="6.55" height="6.54" fill="#c6bef2"/>
<rect x="190.20" y="306.69" width="6.55" height="6.54" fill="#c6bef2"/>
<rect x="196.70" y="306.69" width="6.55" height="6.54" fill="#f05e68"/>
<rect x="203.20" y="306.69" width="6.55" height="6.54" fill="#e2101a"/>
<rect x="209.70" y="306.69" width="6.55" height="6.54" fill="#f05e68"/>
<rect x="216.20" y="306.69" width="6.55" height="6.54" fill="#f05e68"/>
<rect x="222.70" y="306.69" width="6.55" height="6.54" fill="#f05e68"/>
<rect x="164.20" y="313.18" width="6.55" height="6.54" fill="#7c6cd4"/>
<rect x="170.70" y="313.18" width="6.55" height="6.54" fill="#7c6cd4"/>
<rect x="177.20" y="313.18" width="6.55" height="6.54" fill="#eee2f4"/>
<rect x="183.70" y="313.18" width="6.55" height="6.54" fill="#6250c0"/>
<rect x="190.20" y="313.18" width="6.55" height="6.54" fill="#481c9e"/>
<rect x="196.70" y="313.18" width="6.55" height="6.54" fill="#f05e68"/>
<rect x="203.20" y="313.18" width="6.55" height="6.54" fill="#e2101a"/>
<rect x="209.70" y="313.18" width="6.55" height="6.54" fill="#f05e68"/>
<rect x="216.20" y="313.18" width="6.55" height="6.54" fill="#f05e68"/>
<rect x="222.70" y="313.18" width="6.55" height="6.54" fill="#f7bccc"/>
<rect x="164.20" y="319.67" width="6.55" height="6.54" fill="#6250c0"/>
<rect x="170.70" y="319.67" width="6.55" height="6.54" fill="#481c9e"/>
<rect x="177.20" y="319.67" width="6.55" height="6.54" fill="#f7bccc"/>
<rect x="183.70" y="319.67" width="6.55" height="6.54" fill="#c6bef2"/>
<rect x="190.20" y="319.67" width="6.55" height="6.54" fill="#c6bef2"/>
<rect x="196.70" y="319.67" width="6.55" height="6.54" fill="#f05e68"/>
<rect x="203.20" y="319.67" width="6.55" height="6.54" fill="#ec3640"/>
<rect x="209.70" y="319.67" width="6.55" height="6.54" fill="#e2101a"/>
<rect x="216.20" y="319.67" width="6.55" height="6.54" fill="#e2101a"/>
<rect x="222.70" y="319.67" width="6.55" height="6.54" fill="#ec3640"/>
<rect x="164.20" y="326.16" width="6.55" height="6.54" fill="#7c6cd4"/>
<rect x="170.70" y="326.16" width="6.55" height="6.54" fill="#481c9e"/>
<rect x="177.20" y="326.16" width="6.55" height="6.54" fill="#eee2f4"/>
<rect x="183.70" y="326.16" width="6.55" height="6.54" fill="#c6bef2"/>
<rect x="190.20" y="326.16" width="6.55" height="6.54" fill="#c6bef2"/>
<rect x="196.70" y="326.16" width="6.55" height="6.54" fill="#ec3640"/>
<rect x="203.20" y="326.16" width="6.55" height="6.54" fill="#e2101a"/>
<rect x="209.70" y="326.16" width="6.55" height="6.54" fill="#ec3640"/>
<rect x="216.20" y="326.16" width="6.55" height="6.54" fill="#e2101a"/>
<rect x="222.70" y="326.16" width="6.55" height="6.54" fill="#ec3640"/>
<rect x="164.20" y="332.66" width="6.55" height="6.54" fill="#481c9e"/>
<rect x="170.70" y="332.66" width="6.55" height="6.54" fill="#6250c0"/>
<rect x="177.20" y="332.66" width="6.55" height="6.54" fill="#eee2f4"/>
<rect x="183.70" y="332.66" width="6.55" height="6.54" fill="#481c9e"/>
<rect x="190.20" y="332.66" width="6.55" height="6.54" fill="#481c9e"/>
<rect x="196.70" y="332.66" width="6.55" height="6.54" fill="#f05e68"/>
<rect x="203.20" y="332.66" width="6.55" height="6.54" fill="#e2101a"/>
<rect x="209.70" y="332.66" width="6.55" height="6.54" fill="#f05e68"/>
<rect x="216.20" y="332.66" width="6.55" height="6.54" fill="#f05e68"/>
<rect x="222.70" y="332.66" width="6.55" height="6.54" fill="#f05e68"/>
<rect x="164.20" y="339.15" width="6.55" height="6.54" fill="#eee2f4"/>
<rect x="170.70" y="339.15" width="6.55" height="6.54" fill="#481c9e"/>
<rect x="177.20" y="339.15" width="6.55" height="6.54" fill="#eee2f4"/>
<rect x="183.70" y="339.15" width="6.55" height="6.54" fill="#7c6cd4"/>
<rect x="190.20" y="339.15" width="6.55" height="6.54" fill="#6250c0"/>
<rect x="196.70" y="339.15" width="6.55" height="6.54" fill="#ec3640"/>
<rect x="203.20" y="339.15" width="6.55" height="6.54" fill="#e2101a"/>
<rect x="209.70" y="339.15" width="6.55" height="6.54" fill="#ec3640"/>
<rect x="216.20" y="339.15" width="6.55" height="6.54" fill="#ec3640"/>
<rect x="222.70" y="339.15" width="6.55" height="6.54" fill="#f05e68"/>
<rect x="164.20" y="345.64" width="6.55" height="6.54" fill="#481c9e"/>
<rect x="170.70" y="345.64" width="6.55" height="6.54" fill="#481c9e"/>
<rect x="177.20" y="345.64" width="6.55" height="6.54" fill="#eee2f4"/>
<rect x="183.70" y="345.64" width="6.55" height="6.54" fill="#7c6cd4"/>
<rect x="190.20" y="345.64" width="6.55" height="6.54" fill="#7c6cd4"/>
<rect x="196.70" y="345.64" width="6.55" height="6.54" fill="#f05e68"/>
<rect x="203.20" y="345.64" width="6.55" height="6.54" fill="#e2101a"/>
<rect x="209.70" y="345.64" width="6.55" height="6.54" fill="#ec3640"/>
<rect x="216.20" y="345.64" width="6.55" height="6.54" fill="#ec3640"/>
<rect x="222.70" y="345.64" width="6.55" height="6.54" fill="#f05e68"/>
<rect x="164.20" y="352.13" width="6.55" height="6.54" fill="#481c9e"/>
<rect x="170.70" y="352.13" width="6.55" height="6.54" fill="#6250c0"/>
<rect x="177.20" y="352.13" width="6.55" height="6.54" fill="#eee2f4"/>
<rect x="183.70" y="352.13" width="6.55" height="6.54" fill="#481c9e"/>
<rect x="190.20" y="352.13" width="6.55" height="6.54" fill="#6250c0"/>
<rect x="196.70" y="352.13" width="6.55" height="6.54" fill="#f05e68"/>
<rect x="203.20" y="352.13" width="6.55" height="6.54" fill="#e2101a"/>
<rect x="209.70" y="352.13" width="6.55" height="6.54" fill="#f05e68"/>
<rect x="216.20" y="352.13" width="6.55" height="6.54" fill="#f05e68"/>
<rect x="222.70" y="352.13" width="6.55" height="6.54" fill="#f05e68"/>
<rect x="164.20" y="358.62" width="6.55" height="6.54" fill="#6250c0"/>
<rect x="170.70" y="358.62" width="6.55" height="6.54" fill="#481c9e"/>
<rect x="177.20" y="358.62" width="6.55" height="6.54" fill="#eee2f4"/>
<rect x="183.70" y="358.62" width="6.55" height="6.54" fill="#7c6cd4"/>
<rect x="190.20" y="358.62" width="6.55" height="6.54" fill="#eee2f4"/>
<rect x="196.70" y="358.62" width="6.55" height="6.54" fill="#ec3640"/>
<rect x="203.20" y="358.62" width="6.55" height="6.54" fill="#e2101a"/>
<rect x="209.70" y="358.62" width="6.55" height="6.54" fill="#ec3640"/>
<rect x="216.20" y="358.62" width="6.55" height="6.54" fill="#ec3640"/>
<rect x="222.70" y="358.62" width="6.55" height="6.54" fill="#e2101a"/>
<rect x="164.20" y="365.12" width="6.55" height="6.54" fill="#6250c0"/>
<rect x="170.70" y="365.12" width="6.55" height="6.54" fill="#481c9e"/>
<rect x="177.20" y="365.12" width="6.55" height="6.54" fill="#c6bef2"/>
<rect x="183.70" y="365.12" width="6.55" height="6.54" fill="#481c9e"/>
<rect x="190.20" y="365.12" width="6.55" height="6.54" fill="#481c9e"/>
<rect x="196.70" y="365.12" width="6.55" height="6.54" fill="#e2101a"/>
<rect x="203.20" y="365.12" width="6.55" height="6.54" fill="#f05e68"/>
<rect x="209.70" y="365.12" width="6.55" height="6.54" fill="#ec3640"/>
<rect x="216.20" y="365.12" width="6.55" height="6.54" fill="#ec3640"/>
<rect x="222.70" y="365.12" width="6.55" height="6.54" fill="#ec3640"/>
<rect x="164.20" y="371.61" width="6.55" height="6.54" fill="#6250c0"/>
<rect x="170.70" y="371.61" width="6.55" height="6.54" fill="#481c9e"/>
<rect x="177.20" y="371.61" width="6.55" height="6.54" fill="#6250c0"/>
<rect x="183.70" y="371.61" width="6.55" height="6.54" fill="#481c9e"/>
<rect x="190.20" y="371.61" width="6.55" height="6.54" fill="#481c9e"/>
<rect x="196.70" y="371.61" width="6.55" height="6.54" fill="#e2101a"/>
<rect x="203.20" y="371.61" width="6.55" height="6.54" fill="#e2101a"/>
<rect x="209.70" y="371.61" width="6.55" height="6.54" fill="#ec3640"/>
<rect x="216.20" y="371.61" width="6.55" height="6.54" fill="#ec3640"/>
<rect x="222.70" y="371.61" width="6.55" height="6.54" fill="#ec3640"/>
<line x1="164.20" y1="215.80" x2="164.20" y2="378.10" stroke="#14082a" stroke-opacity="0.7" stroke-width="0.95"/>
<line x1="170.70" y1="215.80" x2="170.70" y2="378.10" stroke="#14082a" stroke-opacity="0.7" stroke-width="0.95"/>
<line x1="177.20" y1="215.80" x2="177.20" y2="378.10" stroke="#14082a" stroke-opacity="0.7" stroke-width="0.95"/>
<line x1="183.70" y1="215.80" x2="183.70" y2="378.10" stroke="#14082a" stroke-opacity="0.7" stroke-width="0.95"/>
<line x1="190.20" y1="215.80" x2="190.20" y2="378.10" stroke="#14082a" stroke-opacity="0.7" stroke-width="0.95"/>
<line x1="196.70" y1="215.80" x2="196.70" y2="378.10" stroke="#14082a" stroke-opacity="0.7" stroke-width="0.95"/>
<line x1="203.20" y1="215.80" x2="203.20" y2="378.10" stroke="#14082a" stroke-opacity="0.7" stroke-width="0.95"/>
<line x1="209.70" y1="215.80" x2="209.70" y2="378.10" stroke="#14082a" stroke-opacity="0.7" stroke-width="0.95"/>
<line x1="216.20" y1="215.80" x2="216.20" y2="378.10" stroke="#14082a" stroke-opacity="0.7" stroke-width="0.95"/>
<line x1="222.70" y1="215.80" x2="222.70" y2="378.10" stroke="#14082a" stroke-opacity="0.7" stroke-width="0.95"/>
<line x1="229.20" y1="215.80" x2="229.20" y2="378.10" stroke="#14082a" stroke-opacity="0.7" stroke-width="0.95"/>
<line x1="164.20" y1="215.80" x2="229.20" y2="215.80" stroke="#14082a" stroke-opacity="0.7" stroke-width="0.95"/>
<line x1="164.20" y1="222.29" x2="229.20" y2="222.29" stroke="#14082a" stroke-opacity="0.7" stroke-width="0.95"/>
<line x1="164.20" y1="228.78" x2="229.20" y2="228.78" stroke="#14082a" stroke-opacity="0.7" stroke-width="0.95"/>
<line x1="164.20" y1="235.28" x2="229.20" y2="235.28" stroke="#14082a" stroke-opacity="0.7" stroke-width="0.95"/>
<line x1="164.20" y1="241.77" x2="229.20" y2="241.77" stroke="#14082a" stroke-opacity="0.7" stroke-width="0.95"/>
<line x1="164.20" y1="248.26" x2="229.20" y2="248.26" stroke="#14082a" stroke-opacity="0.7" stroke-width="0.95"/>
<line x1="164.20" y1="254.75" x2="229.20" y2="254.75" stroke="#14082a" stroke-opacity="0.7" stroke-width="0.95"/>
<line x1="164.20" y1="261.24" x2="229.20" y2="261.24" stroke="#14082a" stroke-opacity="0.7" stroke-width="0.95"/>
<line x1="164.20" y1="267.74" x2="229.20" y2="267.74" stroke="#14082a" stroke-opacity="0.7" stroke-width="0.95"/>
<line x1="164.20" y1="274.23" x2="229.20" y2="274.23" stroke="#14082a" stroke-opacity="0.7" stroke-width="0.95"/>
<line x1="164.20" y1="280.72" x2="229.20" y2="280.72" stroke="#14082a" stroke-opacity="0.7" stroke-width="0.95"/>
<line x1="164.20" y1="287.21" x2="229.20" y2="287.21" stroke="#14082a" stroke-opacity="0.7" stroke-width="0.95"/>
<line x1="164.20" y1="293.70" x2="229.20" y2="293.70" stroke="#14082a" stroke-opacity="0.7" stroke-width="0.95"/>
<line x1="164.20" y1="300.20" x2="229.20" y2="300.20" stroke="#14082a" stroke-opacity="0.7" stroke-width="0.95"/>
<line x1="164.20" y1="306.69" x2="229.20" y2="306.69" stroke="#14082a" stroke-opacity="0.7" stroke-width="0.95"/>
<line x1="164.20" y1="313.18" x2="229.20" y2="313.18" stroke="#14082a" stroke-opacity="0.7" stroke-width="0.95"/>
<line x1="164.20" y1="319.67" x2="229.20" y2="319.67" stroke="#14082a" stroke-opacity="0.7" stroke-width="0.95"/>
<line x1="164.20" y1="326.16" x2="229.20" y2="326.16" stroke="#14082a" stroke-opacity="0.7" stroke-width="0.95"/>
<line x1="164.20" y1="332.66" x2="229.20" y2="332.66" stroke="#14082a" stroke-opacity="0.7" stroke-width="0.95"/>
<line x1="164.20" y1="339.15" x2="229.20" y2="339.15" stroke="#14082a" stroke-opacity="0.7" stroke-width="0.95"/>
<line x1="164.20" y1="345.64" x2="229.20" y2="345.64" stroke="#14082a" stroke-opacity="0.7" stroke-width="0.95"/>
<line x1="164.20" y1="352.13" x2="229.20" y2="352.13" stroke="#14082a" stroke-opacity="0.7" stroke-width="0.95"/>
<line x1="164.20" y1="358.62" x2="229.20" y2="358.62" stroke="#14082a" stroke-opacity="0.7" stroke-width="0.95"/>
<line x1="164.20" y1="365.12" x2="229.20" y2="365.12" stroke="#14082a" stroke-opacity="0.7" stroke-width="0.95"/>
<line x1="164.20" y1="371.61" x2="229.20" y2="371.61" stroke="#14082a" stroke-opacity="0.7" stroke-width="0.95"/>
<line x1="164.20" y1="378.10" x2="229.20" y2="378.10" stroke="#14082a" stroke-opacity="0.7" stroke-width="0.95"/>
<line x1="229.20" y1="215.80" x2="254.20" y2="215.80" stroke="#555" stroke-width="0.8"/>
<line x1="229.20" y1="222.29" x2="254.20" y2="222.29" stroke="#555" stroke-width="0.8"/>
<line x1="229.20" y1="228.78" x2="254.20" y2="228.78" stroke="#555" stroke-width="0.8"/>
<line x1="229.20" y1="235.28" x2="254.20" y2="235.28" stroke="#555" stroke-width="0.8"/>
<line x1="229.20" y1="241.77" x2="254.20" y2="241.77" stroke="#555" stroke-width="0.8"/>
<line x1="229.20" y1="248.26" x2="254.20" y2="248.26" stroke="#555" stroke-width="0.8"/>
<line x1="229.20" y1="254.75" x2="254.20" y2="254.75" stroke="#555" stroke-width="0.8"/>
<line x1="229.20" y1="261.24" x2="254.20" y2="261.24" stroke="#555" stroke-width="0.8"/>
<line x1="229.20" y1="267.74" x2="254.20" y2="267.74" stroke="#555" stroke-width="0.8"/>
<line x1="229.20" y1="274.23" x2="254.20" y2="274.23" stroke="#555" stroke-width="0.8"/>
<line x1="229.20" y1="280.72" x2="254.20" y2="280.72" stroke="#555" stroke-width="0.8"/>
<line x1="229.20" y1="287.21" x2="254.20" y2="287.21" stroke="#555" stroke-width="0.8"/>
<line x1="229.20" y1="293.70" x2="254.20" y2="293.70" stroke="#555" stroke-width="0.8"/>
<line x1="229.20" y1="300.20" x2="254.20" y2="300.20" stroke="#555" stroke-width="0.8"/>
<line x1="229.20" y1="306.69" x2="254.20" y2="306.69" stroke="#555" stroke-width="0.8"/>
<line x1="229.20" y1="313.18" x2="254.20" y2="313.18" stroke="#555" stroke-width="0.8"/>
<line x1="229.20" y1="319.67" x2="254.20" y2="319.67" stroke="#555" stroke-width="0.8"/>
<line x1="229.20" y1="326.16" x2="254.20" y2="326.16" stroke="#555" stroke-width="0.8"/>
<line x1="229.20" y1="332.66" x2="254.20" y2="332.66" stroke="#555" stroke-width="0.8"/>
<line x1="229.20" y1="339.15" x2="254.20" y2="339.15" stroke="#555" stroke-width="0.8"/>
<line x1="229.20" y1="345.64" x2="254.20" y2="345.64" stroke="#555" stroke-width="0.8"/>
<line x1="229.20" y1="352.13" x2="254.20" y2="352.13" stroke="#555" stroke-width="0.8"/>
<line x1="229.20" y1="358.62" x2="254.20" y2="358.62" stroke="#555" stroke-width="0.8"/>
<line x1="229.20" y1="365.12" x2="254.20" y2="365.12" stroke="#555" stroke-width="0.8"/>
<line x1="229.20" y1="371.61" x2="254.20" y2="371.61" stroke="#555" stroke-width="0.8"/>
<line x1="229.20" y1="378.10" x2="254.20" y2="378.10" stroke="#555" stroke-width="0.8"/>
<text transform="translate(232.80,220.99) scale(0.92,1)" font-size="4.8" fill="#222">PIAS2</text>
<text transform="translate(232.80,227.48) scale(0.92,1)" font-size="4.8" fill="#222">SEC24D</text>
<text transform="translate(232.80,233.98) scale(0.92,1)" font-size="4.8" fill="#222">UBE2A</text>
<text transform="translate(232.80,240.47) scale(0.92,1)" font-size="4.8" fill="#222">LTGAV</text>
<text transform="translate(232.80,246.96) scale(0.92,1)" font-size="4.8" fill="#222">ANAPC13</text>
<text transform="translate(232.80,253.45) scale(0.92,1)" font-size="4.8" fill="#222">FBXL5</text>
<text transform="translate(232.80,259.94) scale(0.92,1)" font-size="4.8" fill="#222">UBE2C41</text>
<text transform="translate(232.80,266.44) scale(0.92,1)" font-size="4.8" fill="#222">PSMD6</text>
<text transform="translate(232.80,272.93) scale(0.92,1)" font-size="4.8" fill="#222">UBA3</text>
<text transform="translate(232.80,279.42) scale(0.92,1)" font-size="4.8" fill="#222">BTRC</text>
<text transform="translate(232.80,285.91) scale(0.92,1)" font-size="4.8" fill="#222">KEAP1</text>
<text transform="translate(232.80,292.40) scale(0.92,1)" font-size="4.8" fill="#222">UBE2M</text>
<text transform="translate(232.80,298.90) scale(0.92,1)" font-size="4.8" fill="#222">SEC24A</text>
<text transform="translate(232.80,305.39) scale(0.92,1)" font-size="4.8" fill="#222">GLMN</text>
<text transform="translate(232.80,311.88) scale(0.92,1)" font-size="4.8" fill="#222">SEC22B</text>
<text transform="translate(232.80,318.37) scale(0.92,1)" font-size="4.8" fill="#222">LRSAM1</text>
<text transform="translate(232.80,324.86) scale(0.92,1)" font-size="4.8" fill="#222">CDC20</text>
<text transform="translate(232.80,331.36) scale(0.92,1)" font-size="4.8" fill="#222">UBAC1</text>
<text transform="translate(232.80,337.85) scale(0.92,1)" font-size="4.8" fill="#222">RNF41</text>
<text transform="translate(232.80,344.34) scale(0.92,1)" font-size="4.8" fill="#222">LKBKG</text>
<text transform="translate(232.80,350.83) scale(0.92,1)" font-size="4.8" fill="#222">SNAP23</text>
<text transform="translate(232.80,357.32) scale(0.92,1)" font-size="4.8" fill="#222">RNF14</text>
<text transform="translate(232.80,363.82) scale(0.92,1)" font-size="4.8" fill="#222">FBXL3</text>
<text transform="translate(232.80,370.31) scale(0.92,1)" font-size="4.8" fill="#222">CCNF</text>
<text transform="translate(232.80,376.80) scale(0.92,1)" font-size="4.8" fill="#222">FBXL20</text>
<rect x="432.30" y="198.30" width="6.12" height="26.50" fill="#c8c8c8"/>
<rect x="438.42" y="198.30" width="6.12" height="26.50" fill="#c8c8c8"/>
<rect x="444.54" y="198.30" width="6.12" height="26.50" fill="#c8c8c8"/>
<rect x="450.66" y="198.30" width="6.12" height="26.50" fill="#c8c8c8"/>
<rect x="456.78" y="198.30" width="6.12" height="26.50" fill="#c8c8c8"/>
<rect x="462.90" y="198.30" width="6.12" height="26.50" fill="#f2c012"/>
<rect x="469.02" y="198.30" width="6.12" height="26.50" fill="#f2c012"/>
<rect x="475.14" y="198.30" width="6.12" height="26.50" fill="#f2c012"/>
<rect x="481.26" y="198.30" width="6.12" height="26.50" fill="#f2c012"/>
<rect x="487.38" y="198.30" width="6.12" height="26.50" fill="#f2c012"/>
<line x1="432.30" y1="198.30" x2="432.30" y2="224.80" stroke="#5a5a5a" stroke-width="0.9"/>
<line x1="438.42" y1="198.30" x2="438.42" y2="224.80" stroke="#5a5a5a" stroke-width="0.9"/>
<line x1="444.54" y1="198.30" x2="444.54" y2="224.80" stroke="#5a5a5a" stroke-width="0.9"/>
<line x1="450.66" y1="198.30" x2="450.66" y2="224.80" stroke="#5a5a5a" stroke-width="0.9"/>
<line x1="456.78" y1="198.30" x2="456.78" y2="224.80" stroke="#5a5a5a" stroke-width="0.9"/>
<line x1="462.90" y1="198.30" x2="462.90" y2="224.80" stroke="#5a5a5a" stroke-width="0.9"/>
<line x1="469.02" y1="198.30" x2="469.02" y2="224.80" stroke="#5a5a5a" stroke-width="0.9"/>
<line x1="475.14" y1="198.30" x2="475.14" y2="224.80" stroke="#5a5a5a" stroke-width="0.9"/>
<line x1="481.26" y1="198.30" x2="481.26" y2="224.80" stroke="#5a5a5a" stroke-width="0.9"/>
<line x1="487.38" y1="198.30" x2="487.38" y2="224.80" stroke="#5a5a5a" stroke-width="0.9"/>
<line x1="493.50" y1="198.30" x2="493.50" y2="224.80" stroke="#5a5a5a" stroke-width="0.9"/>
<line x1="432.30" y1="224.80" x2="493.50" y2="224.80" stroke="#333" stroke-width="0.8"/>
<text transform="translate(436.76,222.60) rotate(-90)" font-size="4.5" fill="#222" textLength="18.5" lengthAdjust="spacingAndGlyphs">KMS12 0h</text>
<text transform="translate(442.88,222.60) rotate(-90)" font-size="4.5" fill="#222" textLength="18.5" lengthAdjust="spacingAndGlyphs">U266 0h</text>
<text transform="translate(449.00,222.60) rotate(-90)" font-size="4.5" fill="#222" textLength="18.5" lengthAdjust="spacingAndGlyphs">L363 0h</text>
<text transform="translate(455.12,222.60) rotate(-90)" font-size="4.5" fill="#222" textLength="18.5" lengthAdjust="spacingAndGlyphs">LP1 0h</text>
<text transform="translate(461.24,222.60) rotate(-90)" font-size="4.5" fill="#222" textLength="18.5" lengthAdjust="spacingAndGlyphs">U937 0h</text>
<text transform="translate(467.36,222.60) rotate(-90)" font-size="4.5" fill="#222" textLength="20.0" lengthAdjust="spacingAndGlyphs">KMS12 48h</text>
<text transform="translate(473.48,222.60) rotate(-90)" font-size="4.5" fill="#222" textLength="20.0" lengthAdjust="spacingAndGlyphs">U266 48h</text>
<text transform="translate(479.60,222.60) rotate(-90)" font-size="4.5" fill="#222" textLength="20.0" lengthAdjust="spacingAndGlyphs">L363 48h</text>
<text transform="translate(485.72,222.60) rotate(-90)" font-size="4.5" fill="#222" textLength="20.0" lengthAdjust="spacingAndGlyphs">LP1 48h</text>
<text transform="translate(491.84,222.60) rotate(-90)" font-size="4.5" fill="#222" textLength="20.0" lengthAdjust="spacingAndGlyphs">U937 48h</text>
<rect x="432.30" y="225.80" width="6.17" height="6.08" fill="#e2101a"/>
<rect x="438.42" y="225.80" width="6.17" height="6.08" fill="#e2101a"/>
<rect x="444.54" y="225.80" width="6.17" height="6.08" fill="#ec3640"/>
<rect x="450.66" y="225.80" width="6.17" height="6.08" fill="#ec3640"/>
<rect x="456.78" y="225.80" width="6.17" height="6.08" fill="#e2101a"/>
<rect x="462.90" y="225.80" width="6.17" height="6.08" fill="#481c9e"/>
<rect x="469.02" y="225.80" width="6.17" height="6.08" fill="#481c9e"/>
<rect x="475.14" y="225.80" width="6.17" height="6.08" fill="#481c9e"/>
<rect x="481.26" y="225.80" width="6.17" height="6.08" fill="#481c9e"/>
<rect x="487.38" y="225.80" width="6.17" height="6.08" fill="#481c9e"/>
<rect x="432.30" y="231.83" width="6.17" height="6.08" fill="#e2101a"/>
<rect x="438.42" y="231.83" width="6.17" height="6.08" fill="#ec3640"/>
<rect x="444.54" y="231.83" width="6.17" height="6.08" fill="#f05e68"/>
<rect x="450.66" y="231.83" width="6.17" height="6.08" fill="#e2101a"/>
<rect x="456.78" y="231.83" width="6.17" height="6.08" fill="#f05e68"/>
<rect x="462.90" y="231.83" width="6.17" height="6.08" fill="#481c9e"/>
<rect x="469.02" y="231.83" width="6.17" height="6.08" fill="#481c9e"/>
<rect x="475.14" y="231.83" width="6.17" height="6.08" fill="#6250c0"/>
<rect x="481.26" y="231.83" width="6.17" height="6.08" fill="#481c9e"/>
<rect x="487.38" y="231.83" width="6.17" height="6.08" fill="#481c9e"/>
<rect x="432.30" y="237.86" width="6.17" height="6.08" fill="#f05e68"/>
<rect x="438.42" y="237.86" width="6.17" height="6.08" fill="#f05e68"/>
<rect x="444.54" y="237.86" width="6.17" height="6.08" fill="#e2101a"/>
<rect x="450.66" y="237.86" width="6.17" height="6.08" fill="#e2101a"/>
<rect x="456.78" y="237.86" width="6.17" height="6.08" fill="#ec3640"/>
<rect x="462.90" y="237.86" width="6.17" height="6.08" fill="#481c9e"/>
<rect x="469.02" y="237.86" width="6.17" height="6.08" fill="#481c9e"/>
<rect x="475.14" y="237.86" width="6.17" height="6.08" fill="#481c9e"/>
<rect x="481.26" y="237.86" width="6.17" height="6.08" fill="#481c9e"/>
<rect x="487.38" y="237.86" width="6.17" height="6.08" fill="#481c9e"/>
<rect x="432.30" y="243.88" width="6.17" height="6.08" fill="#f05e68"/>
<rect x="438.42" y="243.88" width="6.17" height="6.08" fill="#f7bccc"/>
<rect x="444.54" y="243.88" width="6.17" height="6.08" fill="#e2101a"/>
<rect x="450.66" y="243.88" width="6.17" height="6.08" fill="#f05e68"/>
<rect x="456.78" y="243.88" width="6.17" height="6.08" fill="#e2101a"/>
<rect x="462.90" y="243.88" width="6.17" height="6.08" fill="#481c9e"/>
<rect x="469.02" y="243.88" width="6.17" height="6.08" fill="#481c9e"/>
<rect x="475.14" y="243.88" width="6.17" height="6.08" fill="#481c9e"/>
<rect x="481.26" y="243.88" width="6.17" height="6.08" fill="#481c9e"/>
<rect x="487.38" y="243.88" width="6.17" height="6.08" fill="#481c9e"/>
<rect x="432.30" y="249.91" width="6.17" height="6.08" fill="#f05e68"/>
<rect x="438.42" y="249.91" width="6.17" height="6.08" fill="#e2101a"/>
<rect x="444.54" y="249.91" width="6.17" height="6.08" fill="#f7bccc"/>
<rect x="450.66" y="249.91" width="6.17" height="6.08" fill="#e2101a"/>
<rect x="456.78" y="249.91" width="6.17" height="6.08" fill="#ec3640"/>
<rect x="462.90" y="249.91" width="6.17" height="6.08" fill="#481c9e"/>
<rect x="469.02" y="249.91" width="6.17" height="6.08" fill="#7c6cd4"/>
<rect x="475.14" y="249.91" width="6.17" height="6.08" fill="#481c9e"/>
<rect x="481.26" y="249.91" width="6.17" height="6.08" fill="#481c9e"/>
<rect x="487.38" y="249.91" width="6.17" height="6.08" fill="#481c9e"/>
<rect x="432.30" y="255.94" width="6.17" height="6.08" fill="#f7bccc"/>
<rect x="438.42" y="255.94" width="6.17" height="6.08" fill="#e2101a"/>
<rect x="444.54" y="255.94" width="6.17" height="6.08" fill="#f05e68"/>
<rect x="450.66" y="255.94" width="6.17" height="6.08" fill="#f05e68"/>
<rect x="456.78" y="255.94" width="6.17" height="6.08" fill="#f05e68"/>
<rect x="462.90" y="255.94" width="6.17" height="6.08" fill="#481c9e"/>
<rect x="469.02" y="255.94" width="6.17" height="6.08" fill="#481c9e"/>
<rect x="475.14" y="255.94" width="6.17" height="6.08" fill="#481c9e"/>
<rect x="481.26" y="255.94" width="6.17" height="6.08" fill="#481c9e"/>
<rect x="487.38" y="255.94" width="6.17" height="6.08" fill="#481c9e"/>
<rect x="432.30" y="261.97" width="6.17" height="6.08" fill="#e2101a"/>
<rect x="438.42" y="261.97" width="6.17" height="6.08" fill="#e2101a"/>
<rect x="444.54" y="261.97" width="6.17" height="6.08" fill="#f7bccc"/>
<rect x="450.66" y="261.97" width="6.17" height="6.08" fill="#e2101a"/>
<rect x="456.78" y="261.97" width="6.17" height="6.08" fill="#f05e68"/>
<rect x="462.90" y="261.97" width="6.17" height="6.08" fill="#6250c0"/>
<rect x="469.02" y="261.97" width="6.17" height="6.08" fill="#481c9e"/>
<rect x="475.14" y="261.97" width="6.17" height="6.08" fill="#481c9e"/>
<rect x="481.26" y="261.97" width="6.17" height="6.08" fill="#481c9e"/>
<rect x="487.38" y="261.97" width="6.17" height="6.08" fill="#481c9e"/>
<rect x="432.30" y="268.00" width="6.17" height="6.08" fill="#f05e68"/>
<rect x="438.42" y="268.00" width="6.17" height="6.08" fill="#e2101a"/>
<rect x="444.54" y="268.00" width="6.17" height="6.08" fill="#f05e68"/>
<rect x="450.66" y="268.00" width="6.17" height="6.08" fill="#ec3640"/>
<rect x="456.78" y="268.00" width="6.17" height="6.08" fill="#f05e68"/>
<rect x="462.90" y="268.00" width="6.17" height="6.08" fill="#6250c0"/>
<rect x="469.02" y="268.00" width="6.17" height="6.08" fill="#481c9e"/>
<rect x="475.14" y="268.00" width="6.17" height="6.08" fill="#481c9e"/>
<rect x="481.26" y="268.00" width="6.17" height="6.08" fill="#6250c0"/>
<rect x="487.38" y="268.00" width="6.17" height="6.08" fill="#481c9e"/>
<rect x="432.30" y="274.02" width="6.17" height="6.08" fill="#f05e68"/>
<rect x="438.42" y="274.02" width="6.17" height="6.08" fill="#e2101a"/>
<rect x="444.54" y="274.02" width="6.17" height="6.08" fill="#eee2f4"/>
<rect x="450.66" y="274.02" width="6.17" height="6.08" fill="#e2101a"/>
<rect x="456.78" y="274.02" width="6.17" height="6.08" fill="#ec3640"/>
<rect x="462.90" y="274.02" width="6.17" height="6.08" fill="#481c9e"/>
<rect x="469.02" y="274.02" width="6.17" height="6.08" fill="#481c9e"/>
<rect x="475.14" y="274.02" width="6.17" height="6.08" fill="#6250c0"/>
<rect x="481.26" y="274.02" width="6.17" height="6.08" fill="#481c9e"/>
<rect x="487.38" y="274.02" width="6.17" height="6.08" fill="#481c9e"/>
<rect x="432.30" y="280.05" width="6.17" height="6.08" fill="#ec3640"/>
<rect x="438.42" y="280.05" width="6.17" height="6.08" fill="#e2101a"/>
<rect x="444.54" y="280.05" width="6.17" height="6.08" fill="#7c6cd4"/>
<rect x="450.66" y="280.05" width="6.17" height="6.08" fill="#e2101a"/>
<rect x="456.78" y="280.05" width="6.17" height="6.08" fill="#ec3640"/>
<rect x="462.90" y="280.05" width="6.17" height="6.08" fill="#6250c0"/>
<rect x="469.02" y="280.05" width="6.17" height="6.08" fill="#481c9e"/>
<rect x="475.14" y="280.05" width="6.17" height="6.08" fill="#481c9e"/>
<rect x="481.26" y="280.05" width="6.17" height="6.08" fill="#6250c0"/>
<rect x="487.38" y="280.05" width="6.17" height="6.08" fill="#481c9e"/>
<rect x="432.30" y="286.08" width="6.17" height="6.08" fill="#f05e68"/>
<rect x="438.42" y="286.08" width="6.17" height="6.08" fill="#e2101a"/>
<rect x="444.54" y="286.08" width="6.17" height="6.08" fill="#e2101a"/>
<rect x="450.66" y="286.08" width="6.17" height="6.08" fill="#ec3640"/>
<rect x="456.78" y="286.08" width="6.17" height="6.08" fill="#f05e68"/>
<rect x="462.90" y="286.08" width="6.17" height="6.08" fill="#481c9e"/>
<rect x="469.02" y="286.08" width="6.17" height="6.08" fill="#7c6cd4"/>
<rect x="475.14" y="286.08" width="6.17" height="6.08" fill="#6250c0"/>
<rect x="481.26" y="286.08" width="6.17" height="6.08" fill="#7c6cd4"/>
<rect x="487.38" y="286.08" width="6.17" height="6.08" fill="#f7bccc"/>
<rect x="432.30" y="292.11" width="6.17" height="6.08" fill="#f05e68"/>
<rect x="438.42" y="292.11" width="6.17" height="6.08" fill="#e2101a"/>
<rect x="444.54" y="292.11" width="6.17" height="6.08" fill="#f05e68"/>
<rect x="450.66" y="292.11" width="6.17" height="6.08" fill="#f05e68"/>
<rect x="456.78" y="292.11" width="6.17" height="6.08" fill="#f7bccc"/>
<rect x="462.90" y="292.11" width="6.17" height="6.08" fill="#6250c0"/>
<rect x="469.02" y="292.11" width="6.17" height="6.08" fill="#481c9e"/>
<rect x="475.14" y="292.11" width="6.17" height="6.08" fill="#481c9e"/>
<rect x="481.26" y="292.11" width="6.17" height="6.08" fill="#6250c0"/>
<rect x="487.38" y="292.11" width="6.17" height="6.08" fill="#481c9e"/>
<rect x="432.30" y="298.14" width="6.17" height="6.08" fill="#f05e68"/>
<rect x="438.42" y="298.14" width="6.17" height="6.08" fill="#e2101a"/>
<rect x="444.54" y="298.14" width="6.17" height="6.08" fill="#f7bccc"/>
<rect x="450.66" y="298.14" width="6.17" height="6.08" fill="#ec3640"/>
<rect x="456.78" y="298.14" width="6.17" height="6.08" fill="#e2101a"/>
<rect x="462.90" y="298.14" width="6.17" height="6.08" fill="#481c9e"/>
<rect x="469.02" y="298.14" width="6.17" height="6.08" fill="#481c9e"/>
<rect x="475.14" y="298.14" width="6.17" height="6.08" fill="#481c9e"/>
<rect x="481.26" y="298.14" width="6.17" height="6.08" fill="#eee2f4"/>
<rect x="487.38" y="298.14" width="6.17" height="6.08" fill="#481c9e"/>
<rect x="432.30" y="304.16" width="6.17" height="6.08" fill="#f05e68"/>
<rect x="438.42" y="304.16" width="6.17" height="6.08" fill="#e2101a"/>
<rect x="444.54" y="304.16" width="6.17" height="6.08" fill="#f05e68"/>
<rect x="450.66" y="304.16" width="6.17" height="6.08" fill="#f05e68"/>
<rect x="456.78" y="304.16" width="6.17" height="6.08" fill="#ec3640"/>
<rect x="462.90" y="304.16" width="6.17" height="6.08" fill="#c6bef2"/>
<rect x="469.02" y="304.16" width="6.17" height="6.08" fill="#481c9e"/>
<rect x="475.14" y="304.16" width="6.17" height="6.08" fill="#6250c0"/>
<rect x="481.26" y="304.16" width="6.17" height="6.08" fill="#c6bef2"/>
<rect x="487.38" y="304.16" width="6.17" height="6.08" fill="#481c9e"/>
<rect x="432.30" y="310.19" width="6.17" height="6.08" fill="#f05e68"/>
<rect x="438.42" y="310.19" width="6.17" height="6.08" fill="#e2101a"/>
<rect x="444.54" y="310.19" width="6.17" height="6.08" fill="#f05e68"/>
<rect x="450.66" y="310.19" width="6.17" height="6.08" fill="#ec3640"/>
<rect x="456.78" y="310.19" width="6.17" height="6.08" fill="#e2101a"/>
<rect x="462.90" y="310.19" width="6.17" height="6.08" fill="#eee2f4"/>
<rect x="469.02" y="310.19" width="6.17" height="6.08" fill="#6250c0"/>
<rect x="475.14" y="310.19" width="6.17" height="6.08" fill="#481c9e"/>
<rect x="481.26" y="310.19" width="6.17" height="6.08" fill="#6250c0"/>
<rect x="487.38" y="310.19" width="6.17" height="6.08" fill="#481c9e"/>
<rect x="432.30" y="316.22" width="6.17" height="6.08" fill="#f05e68"/>
<rect x="438.42" y="316.22" width="6.17" height="6.08" fill="#e2101a"/>
<rect x="444.54" y="316.22" width="6.17" height="6.08" fill="#eee2f4"/>
<rect x="450.66" y="316.22" width="6.17" height="6.08" fill="#f05e68"/>
<rect x="456.78" y="316.22" width="6.17" height="6.08" fill="#ec3640"/>
<rect x="462.90" y="316.22" width="6.17" height="6.08" fill="#6250c0"/>
<rect x="469.02" y="316.22" width="6.17" height="6.08" fill="#6250c0"/>
<rect x="475.14" y="316.22" width="6.17" height="6.08" fill="#481c9e"/>
<rect x="481.26" y="316.22" width="6.17" height="6.08" fill="#481c9e"/>
<rect x="487.38" y="316.22" width="6.17" height="6.08" fill="#6250c0"/>
<rect x="432.30" y="322.25" width="6.17" height="6.08" fill="#f7bccc"/>
<rect x="438.42" y="322.25" width="6.17" height="6.08" fill="#e2101a"/>
<rect x="444.54" y="322.25" width="6.17" height="6.08" fill="#ec3640"/>
<rect x="450.66" y="322.25" width="6.17" height="6.08" fill="#f05e68"/>
<rect x="456.78" y="322.25" width="6.17" height="6.08" fill="#f05e68"/>
<rect x="462.90" y="322.25" width="6.17" height="6.08" fill="#6250c0"/>
<rect x="469.02" y="322.25" width="6.17" height="6.08" fill="#481c9e"/>
<rect x="475.14" y="322.25" width="6.17" height="6.08" fill="#481c9e"/>
<rect x="481.26" y="322.25" width="6.17" height="6.08" fill="#6250c0"/>
<rect x="487.38" y="322.25" width="6.17" height="6.08" fill="#eee2f4"/>
<rect x="432.30" y="328.28" width="6.17" height="6.08" fill="#f7bccc"/>
<rect x="438.42" y="328.28" width="6.17" height="6.08" fill="#e2101a"/>
<rect x="444.54" y="328.28" width="6.17" height="6.08" fill="#f05e68"/>
<rect x="450.66" y="328.28" width="6.17" height="6.08" fill="#ec3640"/>
<rect x="456.78" y="328.28" width="6.17" height="6.08" fill="#f05e68"/>
<rect x="462.90" y="328.28" width="6.17" height="6.08" fill="#481c9e"/>
<rect x="469.02" y="328.28" width="6.17" height="6.08" fill="#481c9e"/>
<rect x="475.14" y="328.28" width="6.17" height="6.08" fill="#481c9e"/>
<rect x="481.26" y="328.28" width="6.17" height="6.08" fill="#481c9e"/>
<rect x="487.38" y="328.28" width="6.17" height="6.08" fill="#eee2f4"/>
<rect x="432.30" y="334.30" width="6.17" height="6.08" fill="#f05e68"/>
<rect x="438.42" y="334.30" width="6.17" height="6.08" fill="#e2101a"/>
<rect x="444.54" y="334.30" width="6.17" height="6.08" fill="#f7bccc"/>
<rect x="450.66" y="334.30" width="6.17" height="6.08" fill="#ec3640"/>
<rect x="456.78" y="334.30" width="6.17" height="6.08" fill="#ec3640"/>
<rect x="462.90" y="334.30" width="6.17" height="6.08" fill="#eee2f4"/>
<rect x="469.02" y="334.30" width="6.17" height="6.08" fill="#481c9e"/>
<rect x="475.14" y="334.30" width="6.17" height="6.08" fill="#481c9e"/>
<rect x="481.26" y="334.30" width="6.17" height="6.08" fill="#481c9e"/>
<rect x="487.38" y="334.30" width="6.17" height="6.08" fill="#eee2f4"/>
<rect x="432.30" y="340.33" width="6.17" height="6.08" fill="#f7bccc"/>
<rect x="438.42" y="340.33" width="6.17" height="6.08" fill="#e2101a"/>
<rect x="444.54" y="340.33" width="6.17" height="6.08" fill="#f05e68"/>
<rect x="450.66" y="340.33" width="6.17" height="6.08" fill="#f05e68"/>
<rect x="456.78" y="340.33" width="6.17" height="6.08" fill="#f7bccc"/>
<rect x="462.90" y="340.33" width="6.17" height="6.08" fill="#6250c0"/>
<rect x="469.02" y="340.33" width="6.17" height="6.08" fill="#481c9e"/>
<rect x="475.14" y="340.33" width="6.17" height="6.08" fill="#481c9e"/>
<rect x="481.26" y="340.33" width="6.17" height="6.08" fill="#6250c0"/>
<rect x="487.38" y="340.33" width="6.17" height="6.08" fill="#481c9e"/>
<rect x="432.30" y="346.36" width="6.17" height="6.08" fill="#f05e68"/>
<rect x="438.42" y="346.36" width="6.17" height="6.08" fill="#e2101a"/>
<rect x="444.54" y="346.36" width="6.17" height="6.08" fill="#eee2f4"/>
<rect x="450.66" y="346.36" width="6.17" height="6.08" fill="#ec3640"/>
<rect x="456.78" y="346.36" width="6.17" height="6.08" fill="#f05e68"/>
<rect x="462.90" y="346.36" width="6.17" height="6.08" fill="#481c9e"/>
<rect x="469.02" y="346.36" width="6.17" height="6.08" fill="#c6bef2"/>
<rect x="475.14" y="346.36" width="6.17" height="6.08" fill="#7c6cd4"/>
<rect x="481.26" y="346.36" width="6.17" height="6.08" fill="#7c6cd4"/>
<rect x="487.38" y="346.36" width="6.17" height="6.08" fill="#481c9e"/>
<rect x="432.30" y="352.39" width="6.17" height="6.08" fill="#f7bccc"/>
<rect x="438.42" y="352.39" width="6.17" height="6.08" fill="#e2101a"/>
<rect x="444.54" y="352.39" width="6.17" height="6.08" fill="#eee2f4"/>
<rect x="450.66" y="352.39" width="6.17" height="6.08" fill="#f05e68"/>
<rect x="456.78" y="352.39" width="6.17" height="6.08" fill="#f05e68"/>
<rect x="462.90" y="352.39" width="6.17" height="6.08" fill="#481c9e"/>
<rect x="469.02" y="352.39" width="6.17" height="6.08" fill="#6250c0"/>
<rect x="475.14" y="352.39" width="6.17" height="6.08" fill="#481c9e"/>
<rect x="481.26" y="352.39" width="6.17" height="6.08" fill="#481c9e"/>
<rect x="487.38" y="352.39" width="6.17" height="6.08" fill="#481c9e"/>
<rect x="432.30" y="358.42" width="6.17" height="6.08" fill="#e2101a"/>
<rect x="438.42" y="358.42" width="6.17" height="6.08" fill="#e2101a"/>
<rect x="444.54" y="358.42" width="6.17" height="6.08" fill="#f7bccc"/>
<rect x="450.66" y="358.42" width="6.17" height="6.08" fill="#f05e68"/>
<rect x="456.78" y="358.42" width="6.17" height="6.08" fill="#f7bccc"/>
<rect x="462.90" y="358.42" width="6.17" height="6.08" fill="#481c9e"/>
<rect x="469.02" y="358.42" width="6.17" height="6.08" fill="#481c9e"/>
<rect x="475.14" y="358.42" width="6.17" height="6.08" fill="#481c9e"/>
<rect x="481.26" y="358.42" width="6.17" height="6.08" fill="#7c6cd4"/>
<rect x="487.38" y="358.42" width="6.17" height="6.08" fill="#c6bef2"/>
<rect x="432.30" y="364.44" width="6.17" height="6.08" fill="#ec3640"/>
<rect x="438.42" y="364.44" width="6.17" height="6.08" fill="#e2101a"/>
<rect x="444.54" y="364.44" width="6.17" height="6.08" fill="#eee2f4"/>
<rect x="450.66" y="364.44" width="6.17" height="6.08" fill="#ec3640"/>
<rect x="456.78" y="364.44" width="6.17" height="6.08" fill="#f05e68"/>
<rect x="462.90" y="364.44" width="6.17" height="6.08" fill="#eee2f4"/>
<rect x="469.02" y="364.44" width="6.17" height="6.08" fill="#481c9e"/>
<rect x="475.14" y="364.44" width="6.17" height="6.08" fill="#481c9e"/>
<rect x="481.26" y="364.44" width="6.17" height="6.08" fill="#6250c0"/>
<rect x="487.38" y="364.44" width="6.17" height="6.08" fill="#481c9e"/>
<rect x="432.30" y="370.47" width="6.17" height="6.08" fill="#f05e68"/>
<rect x="438.42" y="370.47" width="6.17" height="6.08" fill="#e2101a"/>
<rect x="444.54" y="370.47" width="6.17" height="6.08" fill="#481c9e"/>
<rect x="450.66" y="370.47" width="6.17" height="6.08" fill="#f05e68"/>
<rect x="456.78" y="370.47" width="6.17" height="6.08" fill="#e2101a"/>
<rect x="462.90" y="370.47" width="6.17" height="6.08" fill="#6250c0"/>
<rect x="469.02" y="370.47" width="6.17" height="6.08" fill="#481c9e"/>
<rect x="475.14" y="370.47" width="6.17" height="6.08" fill="#481c9e"/>
<rect x="481.26" y="370.47" width="6.17" height="6.08" fill="#6250c0"/>
<rect x="487.38" y="370.47" width="6.17" height="6.08" fill="#481c9e"/>
<line x1="432.30" y1="225.80" x2="432.30" y2="376.50" stroke="#14082a" stroke-opacity="0.7" stroke-width="0.95"/>
<line x1="438.42" y1="225.80" x2="438.42" y2="376.50" stroke="#14082a" stroke-opacity="0.7" stroke-width="0.95"/>
<line x1="444.54" y1="225.80" x2="444.54" y2="376.50" stroke="#14082a" stroke-opacity="0.7" stroke-width="0.95"/>
<line x1="450.66" y1="225.80" x2="450.66" y2="376.50" stroke="#14082a" stroke-opacity="0.7" stroke-width="0.95"/>
<line x1="456.78" y1="225.80" x2="456.78" y2="376.50" stroke="#14082a" stroke-opacity="0.7" stroke-width="0.95"/>
<line x1="462.90" y1="225.80" x2="462.90" y2="376.50" stroke="#14082a" stroke-opacity="0.7" stroke-width="0.95"/>
<line x1="469.02" y1="225.80" x2="469.02" y2="376.50" stroke="#14082a" stroke-opacity="0.7" stroke-width="0.95"/>
<line x1="475.14" y1="225.80" x2="475.14" y2="376.50" stroke="#14082a" stroke-opacity="0.7" stroke-width="0.95"/>
<line x1="481.26" y1="225.80" x2="481.26" y2="376.50" stroke="#14082a" stroke-opacity="0.7" stroke-width="0.95"/>
<line x1="487.38" y1="225.80" x2="487.38" y2="376.50" stroke="#14082a" stroke-opacity="0.7" stroke-width="0.95"/>
<line x1="493.50" y1="225.80" x2="493.50" y2="376.50" stroke="#14082a" stroke-opacity="0.7" stroke-width="0.95"/>
<line x1="432.30" y1="225.80" x2="493.50" y2="225.80" stroke="#14082a" stroke-opacity="0.7" stroke-width="0.95"/>
<line x1="432.30" y1="231.83" x2="493.50" y2="231.83" stroke="#14082a" stroke-opacity="0.7" stroke-width="0.95"/>
<line x1="432.30" y1="237.86" x2="493.50" y2="237.86" stroke="#14082a" stroke-opacity="0.7" stroke-width="0.95"/>
<line x1="432.30" y1="243.88" x2="493.50" y2="243.88" stroke="#14082a" stroke-opacity="0.7" stroke-width="0.95"/>
<line x1="432.30" y1="249.91" x2="493.50" y2="249.91" stroke="#14082a" stroke-opacity="0.7" stroke-width="0.95"/>
<line x1="432.30" y1="255.94" x2="493.50" y2="255.94" stroke="#14082a" stroke-opacity="0.7" stroke-width="0.95"/>
<line x1="432.30" y1="261.97" x2="493.50" y2="261.97" stroke="#14082a" stroke-opacity="0.7" stroke-width="0.95"/>
<line x1="432.30" y1="268.00" x2="493.50" y2="268.00" stroke="#14082a" stroke-opacity="0.7" stroke-width="0.95"/>
<line x1="432.30" y1="274.02" x2="493.50" y2="274.02" stroke="#14082a" stroke-opacity="0.7" stroke-width="0.95"/>
<line x1="432.30" y1="280.05" x2="493.50" y2="280.05" stroke="#14082a" stroke-opacity="0.7" stroke-width="0.95"/>
<line x1="432.30" y1="286.08" x2="493.50" y2="286.08" stroke="#14082a" stroke-opacity="0.7" stroke-width="0.95"/>
<line x1="432.30" y1="292.11" x2="493.50" y2="292.11" stroke="#14082a" stroke-opacity="0.7" stroke-width="0.95"/>
<line x1="432.30" y1="298.14" x2="493.50" y2="298.14" stroke="#14082a" stroke-opacity="0.7" stroke-width="0.95"/>
<line x1="432.30" y1="304.16" x2="493.50" y2="304.16" stroke="#14082a" stroke-opacity="0.7" stroke-width="0.95"/>
<line x1="432.30" y1="310.19" x2="493.50" y2="310.19" stroke="#14082a" stroke-opacity="0.7" stroke-width="0.95"/>
<line x1="432.30" y1="316.22" x2="493.50" y2="316.22" stroke="#14082a" stroke-opacity="0.7" stroke-width="0.95"/>
<line x1="432.30" y1="322.25" x2="493.50" y2="322.25" stroke="#14082a" stroke-opacity="0.7" stroke-width="0.95"/>
<line x1="432.30" y1="328.28" x2="493.50" y2="328.28" stroke="#14082a" stroke-opacity="0.7" stroke-width="0.95"/>
<line x1="432.30" y1="334.30" x2="493.50" y2="334.30" stroke="#14082a" stroke-opacity="0.7" stroke-width="0.95"/>
<line x1="432.30" y1="340.33" x2="493.50" y2="340.33" stroke="#14082a" stroke-opacity="0.7" stroke-width="0.95"/>
<line x1="432.30" y1="346.36" x2="493.50" y2="346.36" stroke="#14082a" stroke-opacity="0.7" stroke-width="0.95"/>
<line x1="432.30" y1="352.39" x2="493.50" y2="352.39" stroke="#14082a" stroke-opacity="0.7" stroke-width="0.95"/>
<line x1="432.30" y1="358.42" x2="493.50" y2="358.42" stroke="#14082a" stroke-opacity="0.7" stroke-width="0.95"/>
<line x1="432.30" y1="364.44" x2="493.50" y2="364.44" stroke="#14082a" stroke-opacity="0.7" stroke-width="0.95"/>
<line x1="432.30" y1="370.47" x2="493.50" y2="370.47" stroke="#14082a" stroke-opacity="0.7" stroke-width="0.95"/>
<line x1="432.30" y1="376.50" x2="493.50" y2="376.50" stroke="#14082a" stroke-opacity="0.7" stroke-width="0.95"/>
<line x1="493.50" y1="225.80" x2="520.00" y2="225.80" stroke="#555" stroke-width="0.8"/>
<line x1="493.50" y1="231.83" x2="520.00" y2="231.83" stroke="#555" stroke-width="0.8"/>
<line x1="493.50" y1="237.86" x2="520.00" y2="237.86" stroke="#555" stroke-width="0.8"/>
<line x1="493.50" y1="243.88" x2="520.00" y2="243.88" stroke="#555" stroke-width="0.8"/>
<line x1="493.50" y1="249.91" x2="520.00" y2="249.91" stroke="#555" stroke-width="0.8"/>
<line x1="493.50" y1="255.94" x2="520.00" y2="255.94" stroke="#555" stroke-width="0.8"/>
<line x1="493.50" y1="261.97" x2="520.00" y2="261.97" stroke="#555" stroke-width="0.8"/>
<line x1="493.50" y1="268.00" x2="520.00" y2="268.00" stroke="#555" stroke-width="0.8"/>
<line x1="493.50" y1="274.02" x2="520.00" y2="274.02" stroke="#555" stroke-width="0.8"/>
<line x1="493.50" y1="280.05" x2="520.00" y2="280.05" stroke="#555" stroke-width="0.8"/>
<line x1="493.50" y1="286.08" x2="520.00" y2="286.08" stroke="#555" stroke-width="0.8"/>
<line x1="493.50" y1="292.11" x2="520.00" y2="292.11" stroke="#555" stroke-width="0.8"/>
<line x1="493.50" y1="298.14" x2="520.00" y2="298.14" stroke="#555" stroke-width="0.8"/>
<line x1="493.50" y1="304.16" x2="520.00" y2="304.16" stroke="#555" stroke-width="0.8"/>
<line x1="493.50" y1="310.19" x2="520.00" y2="310.19" stroke="#555" stroke-width="0.8"/>
<line x1="493.50" y1="316.22" x2="520.00" y2="316.22" stroke="#555" stroke-width="0.8"/>
<line x1="493.50" y1="322.25" x2="520.00" y2="322.25" stroke="#555" stroke-width="0.8"/>
<line x1="493.50" y1="328.28" x2="520.00" y2="328.28" stroke="#555" stroke-width="0.8"/>
<line x1="493.50" y1="334.30" x2="520.00" y2="334.30" stroke="#555" stroke-width="0.8"/>
<line x1="493.50" y1="340.33" x2="520.00" y2="340.33" stroke="#555" stroke-width="0.8"/>
<line x1="493.50" y1="346.36" x2="520.00" y2="346.36" stroke="#555" stroke-width="0.8"/>
<line x1="493.50" y1="352.39" x2="520.00" y2="352.39" stroke="#555" stroke-width="0.8"/>
<line x1="493.50" y1="358.42" x2="520.00" y2="358.42" stroke="#555" stroke-width="0.8"/>
<line x1="493.50" y1="364.44" x2="520.00" y2="364.44" stroke="#555" stroke-width="0.8"/>
<line x1="493.50" y1="370.47" x2="520.00" y2="370.47" stroke="#555" stroke-width="0.8"/>
<line x1="493.50" y1="376.50" x2="520.00" y2="376.50" stroke="#555" stroke-width="0.8"/>
<text transform="translate(497.10,230.53) scale(0.92,1)" font-size="4.8" fill="#222">PF4</text>
<text transform="translate(497.10,236.56) scale(0.92,1)" font-size="4.8" fill="#222">IL9</text>
<text transform="translate(497.10,242.58) scale(0.92,1)" font-size="4.8" fill="#222">CSF3R</text>
<text transform="translate(497.10,248.61) scale(0.92,1)" font-size="4.8" fill="#222">CCL24</text>
<text transform="translate(497.10,254.64) scale(0.92,1)" font-size="4.8" fill="#222">CCL15</text>
<text transform="translate(497.10,260.67) scale(0.92,1)" font-size="4.8" fill="#222">XCR1</text>
<text transform="translate(497.10,266.70) scale(0.92,1)" font-size="4.8" fill="#222">INHBC</text>
<text transform="translate(497.10,272.72) scale(0.92,1)" font-size="4.8" fill="#222">CCL26</text>
<text transform="translate(497.10,278.75) scale(0.92,1)" font-size="4.8" fill="#222">CCL13</text>
<text transform="translate(497.10,284.78) scale(0.92,1)" font-size="4.8" fill="#222">IL22RA2</text>
<text transform="translate(497.10,290.81) scale(0.92,1)" font-size="4.8" fill="#222">GH1</text>
<text transform="translate(497.10,296.84) scale(0.92,1)" font-size="4.8" fill="#222">FASLG</text>
<text transform="translate(497.10,302.86) scale(0.92,1)" font-size="4.8" fill="#222">IL26</text>
<text transform="translate(497.10,308.89) scale(0.92,1)" font-size="4.8" fill="#222">CCL16</text>
<text transform="translate(497.10,314.92) scale(0.92,1)" font-size="4.8" fill="#222">CXCL6</text>
<text transform="translate(497.10,320.95) scale(0.92,1)" font-size="4.8" fill="#222">OSMR</text>
<text transform="translate(497.10,326.98) scale(0.92,1)" font-size="4.8" fill="#222">IFNA4</text>
<text transform="translate(497.10,333.00) scale(0.92,1)" font-size="4.8" fill="#222">IL11A</text>
<text transform="translate(497.10,339.03) scale(0.92,1)" font-size="4.8" fill="#222">FLT3</text>
<text transform="translate(497.10,345.06) scale(0.92,1)" font-size="4.8" fill="#222">LTBR</text>
<text transform="translate(497.10,351.09) scale(0.92,1)" font-size="4.8" fill="#222">PDGFB</text>
<text transform="translate(497.10,357.12) scale(0.92,1)" font-size="4.8" fill="#222">IFNK21</text>
<text transform="translate(497.10,363.14) scale(0.92,1)" font-size="4.8" fill="#222">TNFSFA</text>
<text transform="translate(497.10,369.17) scale(0.92,1)" font-size="4.8" fill="#222">IL24</text>
<text transform="translate(497.10,375.20) scale(0.92,1)" font-size="4.8" fill="#222">CCL11</text>
<rect x="164.20" y="466.00" width="6.02" height="25.90" fill="#c8c8c8"/>
<rect x="170.22" y="466.00" width="6.02" height="25.90" fill="#c8c8c8"/>
<rect x="176.24" y="466.00" width="6.02" height="25.90" fill="#c8c8c8"/>
<rect x="182.26" y="466.00" width="6.02" height="25.90" fill="#c8c8c8"/>
<rect x="188.28" y="466.00" width="6.02" height="25.90" fill="#c8c8c8"/>
<rect x="194.30" y="466.00" width="6.02" height="25.90" fill="#f2c012"/>
<rect x="200.32" y="466.00" width="6.02" height="25.90" fill="#f2c012"/>
<rect x="206.34" y="466.00" width="6.02" height="25.90" fill="#f2c012"/>
<rect x="212.36" y="466.00" width="6.02" height="25.90" fill="#f2c012"/>
<rect x="218.38" y="466.00" width="6.02" height="25.90" fill="#f2c012"/>
<line x1="164.20" y1="466.00" x2="164.20" y2="491.90" stroke="#5a5a5a" stroke-width="0.9"/>
<line x1="170.22" y1="466.00" x2="170.22" y2="491.90" stroke="#5a5a5a" stroke-width="0.9"/>
<line x1="176.24" y1="466.00" x2="176.24" y2="491.90" stroke="#5a5a5a" stroke-width="0.9"/>
<line x1="182.26" y1="466.00" x2="182.26" y2="491.90" stroke="#5a5a5a" stroke-width="0.9"/>
<line x1="188.28" y1="466.00" x2="188.28" y2="491.90" stroke="#5a5a5a" stroke-width="0.9"/>
<line x1="194.30" y1="466.00" x2="194.30" y2="491.90" stroke="#5a5a5a" stroke-width="0.9"/>
<line x1="200.32" y1="466.00" x2="200.32" y2="491.90" stroke="#5a5a5a" stroke-width="0.9"/>
<line x1="206.34" y1="466.00" x2="206.34" y2="491.90" stroke="#5a5a5a" stroke-width="0.9"/>
<line x1="212.36" y1="466.00" x2="212.36" y2="491.90" stroke="#5a5a5a" stroke-width="0.9"/>
<line x1="218.38" y1="466.00" x2="218.38" y2="491.90" stroke="#5a5a5a" stroke-width="0.9"/>
<line x1="224.40" y1="466.00" x2="224.40" y2="491.90" stroke="#5a5a5a" stroke-width="0.9"/>
<line x1="164.20" y1="491.90" x2="224.40" y2="491.90" stroke="#333" stroke-width="0.8"/>
<text transform="translate(168.61,489.70) rotate(-90)" font-size="4.5" fill="#222" textLength="18.5" lengthAdjust="spacingAndGlyphs">KMS12 0h</text>
<text transform="translate(174.63,489.70) rotate(-90)" font-size="4.5" fill="#222" textLength="18.5" lengthAdjust="spacingAndGlyphs">U266 0h</text>
<text transform="translate(180.65,489.70) rotate(-90)" font-size="4.5" fill="#222" textLength="18.5" lengthAdjust="spacingAndGlyphs">L363 0h</text>
<text transform="translate(186.67,489.70) rotate(-90)" font-size="4.5" fill="#222" textLength="18.5" lengthAdjust="spacingAndGlyphs">LP1 0h</text>
<text transform="translate(192.69,489.70) rotate(-90)" font-size="4.5" fill="#222" textLength="18.5" lengthAdjust="spacingAndGlyphs">U937 0h</text>
<text transform="translate(198.71,489.70) rotate(-90)" font-size="4.5" fill="#222" textLength="20.0" lengthAdjust="spacingAndGlyphs">KMS12 48h</text>
<text transform="translate(204.73,489.70) rotate(-90)" font-size="4.5" fill="#222" textLength="20.0" lengthAdjust="spacingAndGlyphs">U266 48h</text>
<text transform="translate(210.75,489.70) rotate(-90)" font-size="4.5" fill="#222" textLength="20.0" lengthAdjust="spacingAndGlyphs">L363 48h</text>
<text transform="translate(216.77,489.70) rotate(-90)" font-size="4.5" fill="#222" textLength="20.0" lengthAdjust="spacingAndGlyphs">LP1 48h</text>
<text transform="translate(222.79,489.70) rotate(-90)" font-size="4.5" fill="#222" textLength="20.0" lengthAdjust="spacingAndGlyphs">U937 48h</text>
<rect x="164.20" y="492.20" width="6.07" height="6.08" fill="#f7bccc"/>
<rect x="170.22" y="492.20" width="6.07" height="6.08" fill="#e2101a"/>
<rect x="176.24" y="492.20" width="6.07" height="6.08" fill="#f05e68"/>
<rect x="182.26" y="492.20" width="6.07" height="6.08" fill="#f05e68"/>
<rect x="188.28" y="492.20" width="6.07" height="6.08" fill="#f05e68"/>
<rect x="194.30" y="492.20" width="6.07" height="6.08" fill="#7c6cd4"/>
<rect x="200.32" y="492.20" width="6.07" height="6.08" fill="#6250c0"/>
<rect x="206.34" y="492.20" width="6.07" height="6.08" fill="#7c6cd4"/>
<rect x="212.36" y="492.20" width="6.07" height="6.08" fill="#481c9e"/>
<rect x="218.38" y="492.20" width="6.07" height="6.08" fill="#6250c0"/>
<rect x="164.20" y="498.23" width="6.07" height="6.08" fill="#e2101a"/>
<rect x="170.22" y="498.23" width="6.07" height="6.08" fill="#e2101a"/>
<rect x="176.24" y="498.23" width="6.07" height="6.08" fill="#481c9e"/>
<rect x="182.26" y="498.23" width="6.07" height="6.08" fill="#e2101a"/>
<rect x="188.28" y="498.23" width="6.07" height="6.08" fill="#ec3640"/>
<rect x="194.30" y="498.23" width="6.07" height="6.08" fill="#481c9e"/>
<rect x="200.32" y="498.23" width="6.07" height="6.08" fill="#481c9e"/>
<rect x="206.34" y="498.23" width="6.07" height="6.08" fill="#481c9e"/>
<rect x="212.36" y="498.23" width="6.07" height="6.08" fill="#481c9e"/>
<rect x="218.38" y="498.23" width="6.07" height="6.08" fill="#481c9e"/>
<rect x="164.20" y="504.26" width="6.07" height="6.08" fill="#ec3640"/>
<rect x="170.22" y="504.26" width="6.07" height="6.08" fill="#e2101a"/>
<rect x="176.24" y="504.26" width="6.07" height="6.08" fill="#481c9e"/>
<rect x="182.26" y="504.26" width="6.07" height="6.08" fill="#ec3640"/>
<rect x="188.28" y="504.26" width="6.07" height="6.08" fill="#e2101a"/>
<rect x="194.30" y="504.26" width="6.07" height="6.08" fill="#481c9e"/>
<rect x="200.32" y="504.26" width="6.07" height="6.08" fill="#c6bef2"/>
<rect x="206.34" y="504.26" width="6.07" height="6.08" fill="#481c9e"/>
<rect x="212.36" y="504.26" width="6.07" height="6.08" fill="#481c9e"/>
<rect x="218.38" y="504.26" width="6.07" height="6.08" fill="#481c9e"/>
<rect x="164.20" y="510.29" width="6.07" height="6.08" fill="#6250c0"/>
<rect x="170.22" y="510.29" width="6.07" height="6.08" fill="#e2101a"/>
<rect x="176.24" y="510.29" width="6.07" height="6.08" fill="#f05e68"/>
<rect x="182.26" y="510.29" width="6.07" height="6.08" fill="#f05e68"/>
<rect x="188.28" y="510.29" width="6.07" height="6.08" fill="#f7bccc"/>
<rect x="194.30" y="510.29" width="6.07" height="6.08" fill="#481c9e"/>
<rect x="200.32" y="510.29" width="6.07" height="6.08" fill="#7c6cd4"/>
<rect x="206.34" y="510.29" width="6.07" height="6.08" fill="#6250c0"/>
<rect x="212.36" y="510.29" width="6.07" height="6.08" fill="#c6bef2"/>
<rect x="218.38" y="510.29" width="6.07" height="6.08" fill="#481c9e"/>
<rect x="164.20" y="516.31" width="6.07" height="6.08" fill="#e2101a"/>
<rect x="170.22" y="516.31" width="6.07" height="6.08" fill="#ec3640"/>
<rect x="176.24" y="516.31" width="6.07" height="6.08" fill="#f7bccc"/>
<rect x="182.26" y="516.31" width="6.07" height="6.08" fill="#f05e68"/>
<rect x="188.28" y="516.31" width="6.07" height="6.08" fill="#f05e68"/>
<rect x="194.30" y="516.31" width="6.07" height="6.08" fill="#ec3640"/>
<rect x="200.32" y="516.31" width="6.07" height="6.08" fill="#f7bccc"/>
<rect x="206.34" y="516.31" width="6.07" height="6.08" fill="#6250c0"/>
<rect x="212.36" y="516.31" width="6.07" height="6.08" fill="#481c9e"/>
<rect x="218.38" y="516.31" width="6.07" height="6.08" fill="#481c9e"/>
<rect x="164.20" y="522.34" width="6.07" height="6.08" fill="#c6bef2"/>
<rect x="170.22" y="522.34" width="6.07" height="6.08" fill="#e2101a"/>
<rect x="176.24" y="522.34" width="6.07" height="6.08" fill="#eee2f4"/>
<rect x="182.26" y="522.34" width="6.07" height="6.08" fill="#f05e68"/>
<rect x="188.28" y="522.34" width="6.07" height="6.08" fill="#f05e68"/>
<rect x="194.30" y="522.34" width="6.07" height="6.08" fill="#481c9e"/>
<rect x="200.32" y="522.34" width="6.07" height="6.08" fill="#6250c0"/>
<rect x="206.34" y="522.34" width="6.07" height="6.08" fill="#eee2f4"/>
<rect x="212.36" y="522.34" width="6.07" height="6.08" fill="#481c9e"/>
<rect x="218.38" y="522.34" width="6.07" height="6.08" fill="#eee2f4"/>
<rect x="164.20" y="528.37" width="6.07" height="6.08" fill="#f05e68"/>
<rect x="170.22" y="528.37" width="6.07" height="6.08" fill="#e2101a"/>
<rect x="176.24" y="528.37" width="6.07" height="6.08" fill="#7c6cd4"/>
<rect x="182.26" y="528.37" width="6.07" height="6.08" fill="#f05e68"/>
<rect x="188.28" y="528.37" width="6.07" height="6.08" fill="#ec3640"/>
<rect x="194.30" y="528.37" width="6.07" height="6.08" fill="#481c9e"/>
<rect x="200.32" y="528.37" width="6.07" height="6.08" fill="#e2101a"/>
<rect x="206.34" y="528.37" width="6.07" height="6.08" fill="#7c6cd4"/>
<rect x="212.36" y="528.37" width="6.07" height="6.08" fill="#6250c0"/>
<rect x="218.38" y="528.37" width="6.07" height="6.08" fill="#481c9e"/>
<rect x="164.20" y="534.40" width="6.07" height="6.08" fill="#f05e68"/>
<rect x="170.22" y="534.40" width="6.07" height="6.08" fill="#e2101a"/>
<rect x="176.24" y="534.40" width="6.07" height="6.08" fill="#7c6cd4"/>
<rect x="182.26" y="534.40" width="6.07" height="6.08" fill="#f05e68"/>
<rect x="188.28" y="534.40" width="6.07" height="6.08" fill="#e2101a"/>
<rect x="194.30" y="534.40" width="6.07" height="6.08" fill="#6250c0"/>
<rect x="200.32" y="534.40" width="6.07" height="6.08" fill="#481c9e"/>
<rect x="206.34" y="534.40" width="6.07" height="6.08" fill="#481c9e"/>
<rect x="212.36" y="534.40" width="6.07" height="6.08" fill="#7c6cd4"/>
<rect x="218.38" y="534.40" width="6.07" height="6.08" fill="#ec3640"/>
<rect x="164.20" y="540.43" width="6.07" height="6.08" fill="#f7bccc"/>
<rect x="170.22" y="540.43" width="6.07" height="6.08" fill="#ec3640"/>
<rect x="176.24" y="540.43" width="6.07" height="6.08" fill="#6250c0"/>
<rect x="182.26" y="540.43" width="6.07" height="6.08" fill="#eee2f4"/>
<rect x="188.28" y="540.43" width="6.07" height="6.08" fill="#e2101a"/>
<rect x="194.30" y="540.43" width="6.07" height="6.08" fill="#c6bef2"/>
<rect x="200.32" y="540.43" width="6.07" height="6.08" fill="#c6bef2"/>
<rect x="206.34" y="540.43" width="6.07" height="6.08" fill="#481c9e"/>
<rect x="212.36" y="540.43" width="6.07" height="6.08" fill="#481c9e"/>
<rect x="218.38" y="540.43" width="6.07" height="6.08" fill="#f05e68"/>
<rect x="164.20" y="546.46" width="6.07" height="6.08" fill="#c6bef2"/>
<rect x="170.22" y="546.46" width="6.07" height="6.08" fill="#e2101a"/>
<rect x="176.24" y="546.46" width="6.07" height="6.08" fill="#eee2f4"/>
<rect x="182.26" y="546.46" width="6.07" height="6.08" fill="#f7bccc"/>
<rect x="188.28" y="546.46" width="6.07" height="6.08" fill="#ec3640"/>
<rect x="194.30" y="546.46" width="6.07" height="6.08" fill="#f05e68"/>
<rect x="200.32" y="546.46" width="6.07" height="6.08" fill="#f05e68"/>
<rect x="206.34" y="546.46" width="6.07" height="6.08" fill="#481c9e"/>
<rect x="212.36" y="546.46" width="6.07" height="6.08" fill="#7c6cd4"/>
<rect x="218.38" y="546.46" width="6.07" height="6.08" fill="#f05e68"/>
<rect x="164.20" y="552.49" width="6.07" height="6.08" fill="#ec3640"/>
<rect x="170.22" y="552.49" width="6.07" height="6.08" fill="#e2101a"/>
<rect x="176.24" y="552.49" width="6.07" height="6.08" fill="#7c6cd4"/>
<rect x="182.26" y="552.49" width="6.07" height="6.08" fill="#6250c0"/>
<rect x="188.28" y="552.49" width="6.07" height="6.08" fill="#f7bccc"/>
<rect x="194.30" y="552.49" width="6.07" height="6.08" fill="#ec3640"/>
<rect x="200.32" y="552.49" width="6.07" height="6.08" fill="#6250c0"/>
<rect x="206.34" y="552.49" width="6.07" height="6.08" fill="#481c9e"/>
<rect x="212.36" y="552.49" width="6.07" height="6.08" fill="#7c6cd4"/>
<rect x="218.38" y="552.49" width="6.07" height="6.08" fill="#481c9e"/>
<rect x="164.20" y="558.51" width="6.07" height="6.08" fill="#481c9e"/>
<rect x="170.22" y="558.51" width="6.07" height="6.08" fill="#f05e68"/>
<rect x="176.24" y="558.51" width="6.07" height="6.08" fill="#ec3640"/>
<rect x="182.26" y="558.51" width="6.07" height="6.08" fill="#7c6cd4"/>
<rect x="188.28" y="558.51" width="6.07" height="6.08" fill="#e2101a"/>
<rect x="194.30" y="558.51" width="6.07" height="6.08" fill="#481c9e"/>
<rect x="200.32" y="558.51" width="6.07" height="6.08" fill="#7c6cd4"/>
<rect x="206.34" y="558.51" width="6.07" height="6.08" fill="#eee2f4"/>
<rect x="212.36" y="558.51" width="6.07" height="6.08" fill="#e2101a"/>
<rect x="218.38" y="558.51" width="6.07" height="6.08" fill="#481c9e"/>
<rect x="164.20" y="564.54" width="6.07" height="6.08" fill="#f05e68"/>
<rect x="170.22" y="564.54" width="6.07" height="6.08" fill="#f05e68"/>
<rect x="176.24" y="564.54" width="6.07" height="6.08" fill="#481c9e"/>
<rect x="182.26" y="564.54" width="6.07" height="6.08" fill="#f7bccc"/>
<rect x="188.28" y="564.54" width="6.07" height="6.08" fill="#7c6cd4"/>
<rect x="194.30" y="564.54" width="6.07" height="6.08" fill="#f05e68"/>
<rect x="200.32" y="564.54" width="6.07" height="6.08" fill="#e2101a"/>
<rect x="206.34" y="564.54" width="6.07" height="6.08" fill="#7c6cd4"/>
<rect x="212.36" y="564.54" width="6.07" height="6.08" fill="#ec3640"/>
<rect x="218.38" y="564.54" width="6.07" height="6.08" fill="#f7bccc"/>
<rect x="164.20" y="570.57" width="6.07" height="6.08" fill="#6250c0"/>
<rect x="170.22" y="570.57" width="6.07" height="6.08" fill="#7c6cd4"/>
<rect x="176.24" y="570.57" width="6.07" height="6.08" fill="#ec3640"/>
<rect x="182.26" y="570.57" width="6.07" height="6.08" fill="#f05e68"/>
<rect x="188.28" y="570.57" width="6.07" height="6.08" fill="#eee2f4"/>
<rect x="194.30" y="570.57" width="6.07" height="6.08" fill="#6250c0"/>
<rect x="200.32" y="570.57" width="6.07" height="6.08" fill="#e2101a"/>
<rect x="206.34" y="570.57" width="6.07" height="6.08" fill="#e2101a"/>
<rect x="212.36" y="570.57" width="6.07" height="6.08" fill="#ec3640"/>
<rect x="218.38" y="570.57" width="6.07" height="6.08" fill="#f7bccc"/>
<line x1="164.20" y1="492.20" x2="164.20" y2="576.60" stroke="#14082a" stroke-opacity="0.7" stroke-width="0.95"/>
<line x1="170.22" y1="492.20" x2="170.22" y2="576.60" stroke="#14082a" stroke-opacity="0.7" stroke-width="0.95"/>
<line x1="176.24" y1="492.20" x2="176.24" y2="576.60" stroke="#14082a" stroke-opacity="0.7" stroke-width="0.95"/>
<line x1="182.26" y1="492.20" x2="182.26" y2="576.60" stroke="#14082a" stroke-opacity="0.7" stroke-width="0.95"/>
<line x1="188.28" y1="492.20" x2="188.28" y2="576.60" stroke="#14082a" stroke-opacity="0.7" stroke-width="0.95"/>
<line x1="194.30" y1="492.20" x2="194.30" y2="576.60" stroke="#14082a" stroke-opacity="0.7" stroke-width="0.95"/>
<line x1="200.32" y1="492.20" x2="200.32" y2="576.60" stroke="#14082a" stroke-opacity="0.7" stroke-width="0.95"/>
<line x1="206.34" y1="492.20" x2="206.34" y2="576.60" stroke="#14082a" stroke-opacity="0.7" stroke-width="0.95"/>
<line x1="212.36" y1="492.20" x2="212.36" y2="576.60" stroke="#14082a" stroke-opacity="0.7" stroke-width="0.95"/>
<line x1="218.38" y1="492.20" x2="218.38" y2="576.60" stroke="#14082a" stroke-opacity="0.7" stroke-width="0.95"/>
<line x1="224.40" y1="492.20" x2="224.40" y2="576.60" stroke="#14082a" stroke-opacity="0.7" stroke-width="0.95"/>
<line x1="164.20" y1="492.20" x2="224.40" y2="492.20" stroke="#14082a" stroke-opacity="0.7" stroke-width="0.95"/>
<line x1="164.20" y1="498.23" x2="224.40" y2="498.23" stroke="#14082a" stroke-opacity="0.7" stroke-width="0.95"/>
<line x1="164.20" y1="504.26" x2="224.40" y2="504.26" stroke="#14082a" stroke-opacity="0.7" stroke-width="0.95"/>
<line x1="164.20" y1="510.29" x2="224.40" y2="510.29" stroke="#14082a" stroke-opacity="0.7" stroke-width="0.95"/>
<line x1="164.20" y1="516.31" x2="224.40" y2="516.31" stroke="#14082a" stroke-opacity="0.7" stroke-width="0.95"/>
<line x1="164.20" y1="522.34" x2="224.40" y2="522.34" stroke="#14082a" stroke-opacity="0.7" stroke-width="0.95"/>
<line x1="164.20" y1="528.37" x2="224.40" y2="528.37" stroke="#14082a" stroke-opacity="0.7" stroke-width="0.95"/>
<line x1="164.20" y1="534.40" x2="224.40" y2="534.40" stroke="#14082a" stroke-opacity="0.7" stroke-width="0.95"/>
<line x1="164.20" y1="540.43" x2="224.40" y2="540.43" stroke="#14082a" stroke-opacity="0.7" stroke-width="0.95"/>
<line x1="164.20" y1="546.46" x2="224.40" y2="546.46" stroke="#14082a" stroke-opacity="0.7" stroke-width="0.95"/>
<line x1="164.20" y1="552.49" x2="224.40" y2="552.49" stroke="#14082a" stroke-opacity="0.7" stroke-width="0.95"/>
<line x1="164.20" y1="558.51" x2="224.40" y2="558.51" stroke="#14082a" stroke-opacity="0.7" stroke-width="0.95"/>
<line x1="164.20" y1="564.54" x2="224.40" y2="564.54" stroke="#14082a" stroke-opacity="0.7" stroke-width="0.95"/>
<line x1="164.20" y1="570.57" x2="224.40" y2="570.57" stroke="#14082a" stroke-opacity="0.7" stroke-width="0.95"/>
<line x1="164.20" y1="576.60" x2="224.40" y2="576.60" stroke="#14082a" stroke-opacity="0.7" stroke-width="0.95"/>
<line x1="224.40" y1="492.20" x2="244.60" y2="492.20" stroke="#555" stroke-width="0.8"/>
<line x1="224.40" y1="498.23" x2="244.60" y2="498.23" stroke="#555" stroke-width="0.8"/>
<line x1="224.40" y1="504.26" x2="244.60" y2="504.26" stroke="#555" stroke-width="0.8"/>
<line x1="224.40" y1="510.29" x2="244.60" y2="510.29" stroke="#555" stroke-width="0.8"/>
<line x1="224.40" y1="516.31" x2="244.60" y2="516.31" stroke="#555" stroke-width="0.8"/>
<line x1="224.40" y1="522.34" x2="244.60" y2="522.34" stroke="#555" stroke-width="0.8"/>
<line x1="224.40" y1="528.37" x2="244.60" y2="528.37" stroke="#555" stroke-width="0.8"/>
<line x1="224.40" y1="534.40" x2="244.60" y2="534.40" stroke="#555" stroke-width="0.8"/>
<line x1="224.40" y1="540.43" x2="244.60" y2="540.43" stroke="#555" stroke-width="0.8"/>
<line x1="224.40" y1="546.46" x2="244.60" y2="546.46" stroke="#555" stroke-width="0.8"/>
<line x1="224.40" y1="552.49" x2="244.60" y2="552.49" stroke="#555" stroke-width="0.8"/>
<line x1="224.40" y1="558.51" x2="244.60" y2="558.51" stroke="#555" stroke-width="0.8"/>
<line x1="224.40" y1="564.54" x2="244.60" y2="564.54" stroke="#555" stroke-width="0.8"/>
<line x1="224.40" y1="570.57" x2="244.60" y2="570.57" stroke="#555" stroke-width="0.8"/>
<line x1="224.40" y1="576.60" x2="244.60" y2="576.60" stroke="#555" stroke-width="0.8"/>
<text transform="translate(228.00,496.93) scale(0.92,1)" font-size="4.8" fill="#222">CD3G</text>
<text transform="translate(228.00,502.96) scale(0.92,1)" font-size="4.8" fill="#222">CD34</text>
<text transform="translate(228.00,508.99) scale(0.92,1)" font-size="4.8" fill="#222">CD3E</text>
<text transform="translate(228.00,515.01) scale(0.92,1)" font-size="4.8" fill="#222">CD8A</text>
<text transform="translate(228.00,521.04) scale(0.92,1)" font-size="4.8" fill="#222">CD4</text>
<text transform="translate(228.00,527.07) scale(0.92,1)" font-size="4.8" fill="#222">IL17A</text>
<text transform="translate(228.00,533.10) scale(0.92,1)" font-size="4.8" fill="#222">KITLG</text>
<text transform="translate(228.00,539.13) scale(0.92,1)" font-size="4.8" fill="#222">CD2</text>
<text transform="translate(228.00,545.16) scale(0.92,1)" font-size="4.8" fill="#222">CSF3</text>
<text transform="translate(228.00,551.19) scale(0.92,1)" font-size="4.8" fill="#222">IL6</text>
<text transform="translate(228.00,557.21) scale(0.92,1)" font-size="4.8" fill="#222">CD3D</text>
<text transform="translate(228.00,563.24) scale(0.92,1)" font-size="4.8" fill="#222">IL3</text>
<text transform="translate(228.00,569.27) scale(0.92,1)" font-size="4.8" fill="#222">CD247</text>
<text transform="translate(228.00,575.30) scale(0.92,1)" font-size="4.8" fill="#222">CD58</text>
<rect x="432.30" y="397.40" width="5.85" height="26.80" fill="#c8c8c8"/>
<rect x="438.15" y="397.40" width="5.85" height="26.80" fill="#c8c8c8"/>
<rect x="444.00" y="397.40" width="5.85" height="26.80" fill="#c8c8c8"/>
<rect x="449.85" y="397.40" width="5.85" height="26.80" fill="#c8c8c8"/>
<rect x="455.70" y="397.40" width="5.85" height="26.80" fill="#c8c8c8"/>
<rect x="461.55" y="397.40" width="5.85" height="26.80" fill="#f2c012"/>
<rect x="467.40" y="397.40" width="5.85" height="26.80" fill="#f2c012"/>
<rect x="473.25" y="397.40" width="5.85" height="26.80" fill="#f2c012"/>
<rect x="479.10" y="397.40" width="5.85" height="26.80" fill="#f2c012"/>
<rect x="484.95" y="397.40" width="5.85" height="26.80" fill="#f2c012"/>
<line x1="432.30" y1="397.40" x2="432.30" y2="424.20" stroke="#5a5a5a" stroke-width="0.9"/>
<line x1="438.15" y1="397.40" x2="438.15" y2="424.20" stroke="#5a5a5a" stroke-width="0.9"/>
<line x1="444.00" y1="397.40" x2="444.00" y2="424.20" stroke="#5a5a5a" stroke-width="0.9"/>
<line x1="449.85" y1="397.40" x2="449.85" y2="424.20" stroke="#5a5a5a" stroke-width="0.9"/>
<line x1="455.70" y1="397.40" x2="455.70" y2="424.20" stroke="#5a5a5a" stroke-width="0.9"/>
<line x1="461.55" y1="397.40" x2="461.55" y2="424.20" stroke="#5a5a5a" stroke-width="0.9"/>
<line x1="467.40" y1="397.40" x2="467.40" y2="424.20" stroke="#5a5a5a" stroke-width="0.9"/>
<line x1="473.25" y1="397.40" x2="473.25" y2="424.20" stroke="#5a5a5a" stroke-width="0.9"/>
<line x1="479.10" y1="397.40" x2="479.10" y2="424.20" stroke="#5a5a5a" stroke-width="0.9"/>
<line x1="484.95" y1="397.40" x2="484.95" y2="424.20" stroke="#5a5a5a" stroke-width="0.9"/>
<line x1="490.80" y1="397.40" x2="490.80" y2="424.20" stroke="#5a5a5a" stroke-width="0.9"/>
<line x1="432.30" y1="424.20" x2="490.80" y2="424.20" stroke="#333" stroke-width="0.8"/>
<text transform="translate(436.62,422.00) rotate(-90)" font-size="4.5" fill="#222" textLength="18.5" lengthAdjust="spacingAndGlyphs">KMS12 0h</text>
<text transform="translate(442.47,422.00) rotate(-90)" font-size="4.5" fill="#222" textLength="18.5" lengthAdjust="spacingAndGlyphs">U266 0h</text>
<text transform="translate(448.32,422.00) rotate(-90)" font-size="4.5" fill="#222" textLength="18.5" lengthAdjust="spacingAndGlyphs">L363 0h</text>
<text transform="translate(454.18,422.00) rotate(-90)" font-size="4.5" fill="#222" textLength="18.5" lengthAdjust="spacingAndGlyphs">LP1 0h</text>
<text transform="translate(460.02,422.00) rotate(-90)" font-size="4.5" fill="#222" textLength="18.5" lengthAdjust="spacingAndGlyphs">U937 0h</text>
<text transform="translate(465.88,422.00) rotate(-90)" font-size="4.5" fill="#222" textLength="20.0" lengthAdjust="spacingAndGlyphs">KMS12 48h</text>
<text transform="translate(471.72,422.00) rotate(-90)" font-size="4.5" fill="#222" textLength="20.0" lengthAdjust="spacingAndGlyphs">U266 48h</text>
<text transform="translate(477.57,422.00) rotate(-90)" font-size="4.5" fill="#222" textLength="20.0" lengthAdjust="spacingAndGlyphs">L363 48h</text>
<text transform="translate(483.42,422.00) rotate(-90)" font-size="4.5" fill="#222" textLength="20.0" lengthAdjust="spacingAndGlyphs">LP1 48h</text>
<text transform="translate(489.27,422.00) rotate(-90)" font-size="4.5" fill="#222" textLength="20.0" lengthAdjust="spacingAndGlyphs">U937 48h</text>
<rect x="432.30" y="428.40" width="5.90" height="5.95" fill="#e2101a"/>
<rect x="438.15" y="428.40" width="5.90" height="5.95" fill="#f05e68"/>
<rect x="444.00" y="428.40" width="5.90" height="5.95" fill="#e2101a"/>
<rect x="449.85" y="428.40" width="5.90" height="5.95" fill="#e2101a"/>
<rect x="455.70" y="428.40" width="5.90" height="5.95" fill="#e2101a"/>
<rect x="461.55" y="428.40" width="5.90" height="5.95" fill="#481c9e"/>
<rect x="467.40" y="428.40" width="5.90" height="5.95" fill="#481c9e"/>
<rect x="473.25" y="428.40" width="5.90" height="5.95" fill="#481c9e"/>
<rect x="479.10" y="428.40" width="5.90" height="5.95" fill="#481c9e"/>
<rect x="484.95" y="428.40" width="5.90" height="5.95" fill="#481c9e"/>
<rect x="432.30" y="434.30" width="5.90" height="5.95" fill="#f7bccc"/>
<rect x="438.15" y="434.30" width="5.90" height="5.95" fill="#e2101a"/>
<rect x="444.00" y="434.30" width="5.90" height="5.95" fill="#f05e68"/>
<rect x="449.85" y="434.30" width="5.90" height="5.95" fill="#f05e68"/>
<rect x="455.70" y="434.30" width="5.90" height="5.95" fill="#f05e68"/>
<rect x="461.55" y="434.30" width="5.90" height="5.95" fill="#7c6cd4"/>
<rect x="467.40" y="434.30" width="5.90" height="5.95" fill="#6250c0"/>
<rect x="473.25" y="434.30" width="5.90" height="5.95" fill="#7c6cd4"/>
<rect x="479.10" y="434.30" width="5.90" height="5.95" fill="#481c9e"/>
<rect x="484.95" y="434.30" width="5.90" height="5.95" fill="#6250c0"/>
<rect x="432.30" y="440.20" width="5.90" height="5.95" fill="#eee2f4"/>
<rect x="438.15" y="440.20" width="5.90" height="5.95" fill="#e2101a"/>
<rect x="444.00" y="440.20" width="5.90" height="5.95" fill="#f05e68"/>
<rect x="449.85" y="440.20" width="5.90" height="5.95" fill="#f05e68"/>
<rect x="455.70" y="440.20" width="5.90" height="5.95" fill="#f05e68"/>
<rect x="461.55" y="440.20" width="5.90" height="5.95" fill="#481c9e"/>
<rect x="467.40" y="440.20" width="5.90" height="5.95" fill="#481c9e"/>
<rect x="473.25" y="440.20" width="5.90" height="5.95" fill="#7c6cd4"/>
<rect x="479.10" y="440.20" width="5.90" height="5.95" fill="#481c9e"/>
<rect x="484.95" y="440.20" width="5.90" height="5.95" fill="#481c9e"/>
<rect x="432.30" y="446.10" width="5.90" height="5.95" fill="#ec3640"/>
<rect x="438.15" y="446.10" width="5.90" height="5.95" fill="#e2101a"/>
<rect x="444.00" y="446.10" width="5.90" height="5.95" fill="#f7bccc"/>
<rect x="449.85" y="446.10" width="5.90" height="5.95" fill="#ec3640"/>
<rect x="455.70" y="446.10" width="5.90" height="5.95" fill="#ec3640"/>
<rect x="461.55" y="446.10" width="5.90" height="5.95" fill="#eee2f4"/>
<rect x="467.40" y="446.10" width="5.90" height="5.95" fill="#481c9e"/>
<rect x="473.25" y="446.10" width="5.90" height="5.95" fill="#481c9e"/>
<rect x="479.10" y="446.10" width="5.90" height="5.95" fill="#481c9e"/>
<rect x="484.95" y="446.10" width="5.90" height="5.95" fill="#481c9e"/>
<rect x="432.30" y="452.00" width="5.90" height="5.95" fill="#e2101a"/>
<rect x="438.15" y="452.00" width="5.90" height="5.95" fill="#e2101a"/>
<rect x="444.00" y="452.00" width="5.90" height="5.95" fill="#481c9e"/>
<rect x="449.85" y="452.00" width="5.90" height="5.95" fill="#e2101a"/>
<rect x="455.70" y="452.00" width="5.90" height="5.95" fill="#ec3640"/>
<rect x="461.55" y="452.00" width="5.90" height="5.95" fill="#481c9e"/>
<rect x="467.40" y="452.00" width="5.90" height="5.95" fill="#481c9e"/>
<rect x="473.25" y="452.00" width="5.90" height="5.95" fill="#481c9e"/>
<rect x="479.10" y="452.00" width="5.90" height="5.95" fill="#481c9e"/>
<rect x="484.95" y="452.00" width="5.90" height="5.95" fill="#481c9e"/>
<rect x="432.30" y="457.90" width="5.90" height="5.95" fill="#ec3640"/>
<rect x="438.15" y="457.90" width="5.90" height="5.95" fill="#e2101a"/>
<rect x="444.00" y="457.90" width="5.90" height="5.95" fill="#7c6cd4"/>
<rect x="449.85" y="457.90" width="5.90" height="5.95" fill="#e2101a"/>
<rect x="455.70" y="457.90" width="5.90" height="5.95" fill="#f05e68"/>
<rect x="461.55" y="457.90" width="5.90" height="5.95" fill="#481c9e"/>
<rect x="467.40" y="457.90" width="5.90" height="5.95" fill="#481c9e"/>
<rect x="473.25" y="457.90" width="5.90" height="5.95" fill="#481c9e"/>
<rect x="479.10" y="457.90" width="5.90" height="5.95" fill="#481c9e"/>
<rect x="484.95" y="457.90" width="5.90" height="5.95" fill="#c6bef2"/>
<rect x="432.30" y="463.80" width="5.90" height="5.95" fill="#ec3640"/>
<rect x="438.15" y="463.80" width="5.90" height="5.95" fill="#e2101a"/>
<rect x="444.00" y="463.80" width="5.90" height="5.95" fill="#481c9e"/>
<rect x="449.85" y="463.80" width="5.90" height="5.95" fill="#ec3640"/>
<rect x="455.70" y="463.80" width="5.90" height="5.95" fill="#e2101a"/>
<rect x="461.55" y="463.80" width="5.90" height="5.95" fill="#481c9e"/>
<rect x="467.40" y="463.80" width="5.90" height="5.95" fill="#c6bef2"/>
<rect x="473.25" y="463.80" width="5.90" height="5.95" fill="#481c9e"/>
<rect x="479.10" y="463.80" width="5.90" height="5.95" fill="#481c9e"/>
<rect x="484.95" y="463.80" width="5.90" height="5.95" fill="#481c9e"/>
<rect x="432.30" y="469.70" width="5.90" height="5.95" fill="#f7bccc"/>
<rect x="438.15" y="469.70" width="5.90" height="5.95" fill="#e2101a"/>
<rect x="444.00" y="469.70" width="5.90" height="5.95" fill="#f7bccc"/>
<rect x="449.85" y="469.70" width="5.90" height="5.95" fill="#f05e68"/>
<rect x="455.70" y="469.70" width="5.90" height="5.95" fill="#eee2f4"/>
<rect x="461.55" y="469.70" width="5.90" height="5.95" fill="#6250c0"/>
<rect x="467.40" y="469.70" width="5.90" height="5.95" fill="#7c6cd4"/>
<rect x="473.25" y="469.70" width="5.90" height="5.95" fill="#7c6cd4"/>
<rect x="479.10" y="469.70" width="5.90" height="5.95" fill="#481c9e"/>
<rect x="484.95" y="469.70" width="5.90" height="5.95" fill="#481c9e"/>
<rect x="432.30" y="475.60" width="5.90" height="5.95" fill="#f05e68"/>
<rect x="438.15" y="475.60" width="5.90" height="5.95" fill="#f05e68"/>
<rect x="444.00" y="475.60" width="5.90" height="5.95" fill="#f7bccc"/>
<rect x="449.85" y="475.60" width="5.90" height="5.95" fill="#f05e68"/>
<rect x="455.70" y="475.60" width="5.90" height="5.95" fill="#e2101a"/>
<rect x="461.55" y="475.60" width="5.90" height="5.95" fill="#481c9e"/>
<rect x="467.40" y="475.60" width="5.90" height="5.95" fill="#481c9e"/>
<rect x="473.25" y="475.60" width="5.90" height="5.95" fill="#481c9e"/>
<rect x="479.10" y="475.60" width="5.90" height="5.95" fill="#481c9e"/>
<rect x="484.95" y="475.60" width="5.90" height="5.95" fill="#f05e68"/>
<rect x="432.30" y="481.50" width="5.90" height="5.95" fill="#f05e68"/>
<rect x="438.15" y="481.50" width="5.90" height="5.95" fill="#e2101a"/>
<rect x="444.00" y="481.50" width="5.90" height="5.95" fill="#7c6cd4"/>
<rect x="449.85" y="481.50" width="5.90" height="5.95" fill="#f05e68"/>
<rect x="455.70" y="481.50" width="5.90" height="5.95" fill="#ec3640"/>
<rect x="461.55" y="481.50" width="5.90" height="5.95" fill="#6250c0"/>
<rect x="467.40" y="481.50" width="5.90" height="5.95" fill="#6250c0"/>
<rect x="473.25" y="481.50" width="5.90" height="5.95" fill="#c6bef2"/>
<rect x="479.10" y="481.50" width="5.90" height="5.95" fill="#481c9e"/>
<rect x="484.95" y="481.50" width="5.90" height="5.95" fill="#481c9e"/>
<rect x="432.30" y="487.40" width="5.90" height="5.95" fill="#f7bccc"/>
<rect x="438.15" y="487.40" width="5.90" height="5.95" fill="#e2101a"/>
<rect x="444.00" y="487.40" width="5.90" height="5.95" fill="#c6bef2"/>
<rect x="449.85" y="487.40" width="5.90" height="5.95" fill="#f05e68"/>
<rect x="455.70" y="487.40" width="5.90" height="5.95" fill="#f05e68"/>
<rect x="461.55" y="487.40" width="5.90" height="5.95" fill="#481c9e"/>
<rect x="467.40" y="487.40" width="5.90" height="5.95" fill="#481c9e"/>
<rect x="473.25" y="487.40" width="5.90" height="5.95" fill="#7c6cd4"/>
<rect x="479.10" y="487.40" width="5.90" height="5.95" fill="#481c9e"/>
<rect x="484.95" y="487.40" width="5.90" height="5.95" fill="#481c9e"/>
<rect x="432.30" y="493.30" width="5.90" height="5.95" fill="#e2101a"/>
<rect x="438.15" y="493.30" width="5.90" height="5.95" fill="#e2101a"/>
<rect x="444.00" y="493.30" width="5.90" height="5.95" fill="#eee2f4"/>
<rect x="449.85" y="493.30" width="5.90" height="5.95" fill="#e2101a"/>
<rect x="455.70" y="493.30" width="5.90" height="5.95" fill="#e2101a"/>
<rect x="461.55" y="493.30" width="5.90" height="5.95" fill="#eee2f4"/>
<rect x="467.40" y="493.30" width="5.90" height="5.95" fill="#c6bef2"/>
<rect x="473.25" y="493.30" width="5.90" height="5.95" fill="#7c6cd4"/>
<rect x="479.10" y="493.30" width="5.90" height="5.95" fill="#481c9e"/>
<rect x="484.95" y="493.30" width="5.90" height="5.95" fill="#481c9e"/>
<rect x="432.30" y="499.20" width="5.90" height="5.95" fill="#ec3640"/>
<rect x="438.15" y="499.20" width="5.90" height="5.95" fill="#e2101a"/>
<rect x="444.00" y="499.20" width="5.90" height="5.95" fill="#481c9e"/>
<rect x="449.85" y="499.20" width="5.90" height="5.95" fill="#e2101a"/>
<rect x="455.70" y="499.20" width="5.90" height="5.95" fill="#ec3640"/>
<rect x="461.55" y="499.20" width="5.90" height="5.95" fill="#481c9e"/>
<rect x="467.40" y="499.20" width="5.90" height="5.95" fill="#481c9e"/>
<rect x="473.25" y="499.20" width="5.90" height="5.95" fill="#c6bef2"/>
<rect x="479.10" y="499.20" width="5.90" height="5.95" fill="#481c9e"/>
<rect x="484.95" y="499.20" width="5.90" height="5.95" fill="#481c9e"/>
<rect x="432.30" y="505.10" width="5.90" height="5.95" fill="#f7bccc"/>
<rect x="438.15" y="505.10" width="5.90" height="5.95" fill="#e2101a"/>
<rect x="444.00" y="505.10" width="5.90" height="5.95" fill="#f05e68"/>
<rect x="449.85" y="505.10" width="5.90" height="5.95" fill="#f05e68"/>
<rect x="455.70" y="505.10" width="5.90" height="5.95" fill="#f7bccc"/>
<rect x="461.55" y="505.10" width="5.90" height="5.95" fill="#481c9e"/>
<rect x="467.40" y="505.10" width="5.90" height="5.95" fill="#481c9e"/>
<rect x="473.25" y="505.10" width="5.90" height="5.95" fill="#481c9e"/>
<rect x="479.10" y="505.10" width="5.90" height="5.95" fill="#eee2f4"/>
<rect x="484.95" y="505.10" width="5.90" height="5.95" fill="#481c9e"/>
<rect x="432.30" y="511.00" width="5.90" height="5.95" fill="#f05e68"/>
<rect x="438.15" y="511.00" width="5.90" height="5.95" fill="#eee2f4"/>
<rect x="444.00" y="511.00" width="5.90" height="5.95" fill="#e2101a"/>
<rect x="449.85" y="511.00" width="5.90" height="5.95" fill="#f05e68"/>
<rect x="455.70" y="511.00" width="5.90" height="5.95" fill="#f7bccc"/>
<rect x="461.55" y="511.00" width="5.90" height="5.95" fill="#6250c0"/>
<rect x="467.40" y="511.00" width="5.90" height="5.95" fill="#481c9e"/>
<rect x="473.25" y="511.00" width="5.90" height="5.95" fill="#f7bccc"/>
<rect x="479.10" y="511.00" width="5.90" height="5.95" fill="#c6bef2"/>
<rect x="484.95" y="511.00" width="5.90" height="5.95" fill="#481c9e"/>
<rect x="432.30" y="516.90" width="5.90" height="5.95" fill="#f05e68"/>
<rect x="438.15" y="516.90" width="5.90" height="5.95" fill="#e2101a"/>
<rect x="444.00" y="516.90" width="5.90" height="5.95" fill="#eee2f4"/>
<rect x="449.85" y="516.90" width="5.90" height="5.95" fill="#f05e68"/>
<rect x="455.70" y="516.90" width="5.90" height="5.95" fill="#f05e68"/>
<rect x="461.55" y="516.90" width="5.90" height="5.95" fill="#6250c0"/>
<rect x="467.40" y="516.90" width="5.90" height="5.95" fill="#c6bef2"/>
<rect x="473.25" y="516.90" width="5.90" height="5.95" fill="#6250c0"/>
<rect x="479.10" y="516.90" width="5.90" height="5.95" fill="#481c9e"/>
<rect x="484.95" y="516.90" width="5.90" height="5.95" fill="#481c9e"/>
<rect x="432.30" y="522.80" width="5.90" height="5.95" fill="#f05e68"/>
<rect x="438.15" y="522.80" width="5.90" height="5.95" fill="#e2101a"/>
<rect x="444.00" y="522.80" width="5.90" height="5.95" fill="#6250c0"/>
<rect x="449.85" y="522.80" width="5.90" height="5.95" fill="#f05e68"/>
<rect x="455.70" y="522.80" width="5.90" height="5.95" fill="#f7bccc"/>
<rect x="461.55" y="522.80" width="5.90" height="5.95" fill="#481c9e"/>
<rect x="467.40" y="522.80" width="5.90" height="5.95" fill="#7c6cd4"/>
<rect x="473.25" y="522.80" width="5.90" height="5.95" fill="#6250c0"/>
<rect x="479.10" y="522.80" width="5.90" height="5.95" fill="#6250c0"/>
<rect x="484.95" y="522.80" width="5.90" height="5.95" fill="#481c9e"/>
<rect x="432.30" y="528.70" width="5.90" height="5.95" fill="#c6bef2"/>
<rect x="438.15" y="528.70" width="5.90" height="5.95" fill="#e2101a"/>
<rect x="444.00" y="528.70" width="5.90" height="5.95" fill="#6250c0"/>
<rect x="449.85" y="528.70" width="5.90" height="5.95" fill="#f05e68"/>
<rect x="455.70" y="528.70" width="5.90" height="5.95" fill="#f05e68"/>
<rect x="461.55" y="528.70" width="5.90" height="5.95" fill="#481c9e"/>
<rect x="467.40" y="528.70" width="5.90" height="5.95" fill="#7c6cd4"/>
<rect x="473.25" y="528.70" width="5.90" height="5.95" fill="#481c9e"/>
<rect x="479.10" y="528.70" width="5.90" height="5.95" fill="#481c9e"/>
<rect x="484.95" y="528.70" width="5.90" height="5.95" fill="#7c6cd4"/>
<rect x="432.30" y="534.60" width="5.90" height="5.95" fill="#f7bccc"/>
<rect x="438.15" y="534.60" width="5.90" height="5.95" fill="#e2101a"/>
<rect x="444.00" y="534.60" width="5.90" height="5.95" fill="#f05e68"/>
<rect x="449.85" y="534.60" width="5.90" height="5.95" fill="#f05e68"/>
<rect x="455.70" y="534.60" width="5.90" height="5.95" fill="#f7bccc"/>
<rect x="461.55" y="534.60" width="5.90" height="5.95" fill="#c6bef2"/>
<rect x="467.40" y="534.60" width="5.90" height="5.95" fill="#f7bccc"/>
<rect x="473.25" y="534.60" width="5.90" height="5.95" fill="#eee2f4"/>
<rect x="479.10" y="534.60" width="5.90" height="5.95" fill="#6250c0"/>
<rect x="484.95" y="534.60" width="5.90" height="5.95" fill="#481c9e"/>
<rect x="432.30" y="540.50" width="5.90" height="5.95" fill="#6250c0"/>
<rect x="438.15" y="540.50" width="5.90" height="5.95" fill="#e2101a"/>
<rect x="444.00" y="540.50" width="5.90" height="5.95" fill="#f05e68"/>
<rect x="449.85" y="540.50" width="5.90" height="5.95" fill="#f05e68"/>
<rect x="455.70" y="540.50" width="5.90" height="5.95" fill="#f7bccc"/>
<rect x="461.55" y="540.50" width="5.90" height="5.95" fill="#481c9e"/>
<rect x="467.40" y="540.50" width="5.90" height="5.95" fill="#7c6cd4"/>
<rect x="473.25" y="540.50" width="5.90" height="5.95" fill="#7c6cd4"/>
<rect x="479.10" y="540.50" width="5.90" height="5.95" fill="#eee2f4"/>
<rect x="484.95" y="540.50" width="5.90" height="5.95" fill="#481c9e"/>
<rect x="432.30" y="546.40" width="5.90" height="5.95" fill="#f05e68"/>
<rect x="438.15" y="546.40" width="5.90" height="5.95" fill="#e2101a"/>
<rect x="444.00" y="546.40" width="5.90" height="5.95" fill="#7c6cd4"/>
<rect x="449.85" y="546.40" width="5.90" height="5.95" fill="#e2101a"/>
<rect x="455.70" y="546.40" width="5.90" height="5.95" fill="#e2101a"/>
<rect x="461.55" y="546.40" width="5.90" height="5.95" fill="#481c9e"/>
<rect x="467.40" y="546.40" width="5.90" height="5.95" fill="#481c9e"/>
<rect x="473.25" y="546.40" width="5.90" height="5.95" fill="#c6bef2"/>
<rect x="479.10" y="546.40" width="5.90" height="5.95" fill="#c6bef2"/>
<rect x="484.95" y="546.40" width="5.90" height="5.95" fill="#f05e68"/>
<rect x="432.30" y="552.30" width="5.90" height="5.95" fill="#eee2f4"/>
<rect x="438.15" y="552.30" width="5.90" height="5.95" fill="#e2101a"/>
<rect x="444.00" y="552.30" width="5.90" height="5.95" fill="#eee2f4"/>
<rect x="449.85" y="552.30" width="5.90" height="5.95" fill="#f05e68"/>
<rect x="455.70" y="552.30" width="5.90" height="5.95" fill="#f7bccc"/>
<rect x="461.55" y="552.30" width="5.90" height="5.95" fill="#6250c0"/>
<rect x="467.40" y="552.30" width="5.90" height="5.95" fill="#eee2f4"/>
<rect x="473.25" y="552.30" width="5.90" height="5.95" fill="#481c9e"/>
<rect x="479.10" y="552.30" width="5.90" height="5.95" fill="#481c9e"/>
<rect x="484.95" y="552.30" width="5.90" height="5.95" fill="#6250c0"/>
<rect x="432.30" y="558.20" width="5.90" height="5.95" fill="#f05e68"/>
<rect x="438.15" y="558.20" width="5.90" height="5.95" fill="#e2101a"/>
<rect x="444.00" y="558.20" width="5.90" height="5.95" fill="#6250c0"/>
<rect x="449.85" y="558.20" width="5.90" height="5.95" fill="#f05e68"/>
<rect x="455.70" y="558.20" width="5.90" height="5.95" fill="#f7bccc"/>
<rect x="461.55" y="558.20" width="5.90" height="5.95" fill="#481c9e"/>
<rect x="467.40" y="558.20" width="5.90" height="5.95" fill="#c6bef2"/>
<rect x="473.25" y="558.20" width="5.90" height="5.95" fill="#eee2f4"/>
<rect x="479.10" y="558.20" width="5.90" height="5.95" fill="#481c9e"/>
<rect x="484.95" y="558.20" width="5.90" height="5.95" fill="#481c9e"/>
<rect x="432.30" y="564.10" width="5.90" height="5.95" fill="#f7bccc"/>
<rect x="438.15" y="564.10" width="5.90" height="5.95" fill="#e2101a"/>
<rect x="444.00" y="564.10" width="5.90" height="5.95" fill="#eee2f4"/>
<rect x="449.85" y="564.10" width="5.90" height="5.95" fill="#c6bef2"/>
<rect x="455.70" y="564.10" width="5.90" height="5.95" fill="#f7bccc"/>
<rect x="461.55" y="564.10" width="5.90" height="5.95" fill="#7c6cd4"/>
<rect x="467.40" y="564.10" width="5.90" height="5.95" fill="#c6bef2"/>
<rect x="473.25" y="564.10" width="5.90" height="5.95" fill="#7c6cd4"/>
<rect x="479.10" y="564.10" width="5.90" height="5.95" fill="#c6bef2"/>
<rect x="484.95" y="564.10" width="5.90" height="5.95" fill="#481c9e"/>
<rect x="432.30" y="570.00" width="5.90" height="5.95" fill="#481c9e"/>
<rect x="438.15" y="570.00" width="5.90" height="5.95" fill="#f05e68"/>
<rect x="444.00" y="570.00" width="5.90" height="5.95" fill="#e2101a"/>
<rect x="449.85" y="570.00" width="5.90" height="5.95" fill="#6250c0"/>
<rect x="455.70" y="570.00" width="5.90" height="5.95" fill="#e2101a"/>
<rect x="461.55" y="570.00" width="5.90" height="5.95" fill="#481c9e"/>
<rect x="467.40" y="570.00" width="5.90" height="5.95" fill="#481c9e"/>
<rect x="473.25" y="570.00" width="5.90" height="5.95" fill="#481c9e"/>
<rect x="479.10" y="570.00" width="5.90" height="5.95" fill="#481c9e"/>
<rect x="484.95" y="570.00" width="5.90" height="5.95" fill="#7c6cd4"/>
<line x1="432.30" y1="428.40" x2="432.30" y2="575.90" stroke="#14082a" stroke-opacity="0.7" stroke-width="0.95"/>
<line x1="438.15" y1="428.40" x2="438.15" y2="575.90" stroke="#14082a" stroke-opacity="0.7" stroke-width="0.95"/>
<line x1="444.00" y1="428.40" x2="444.00" y2="575.90" stroke="#14082a" stroke-opacity="0.7" stroke-width="0.95"/>
<line x1="449.85" y1="428.40" x2="449.85" y2="575.90" stroke="#14082a" stroke-opacity="0.7" stroke-width="0.95"/>
<line x1="455.70" y1="428.40" x2="455.70" y2="575.90" stroke="#14082a" stroke-opacity="0.7" stroke-width="0.95"/>
<line x1="461.55" y1="428.40" x2="461.55" y2="575.90" stroke="#14082a" stroke-opacity="0.7" stroke-width="0.95"/>
<line x1="467.40" y1="428.40" x2="467.40" y2="575.90" stroke="#14082a" stroke-opacity="0.7" stroke-width="0.95"/>
<line x1="473.25" y1="428.40" x2="473.25" y2="575.90" stroke="#14082a" stroke-opacity="0.7" stroke-width="0.95"/>
<line x1="479.10" y1="428.40" x2="479.10" y2="575.90" stroke="#14082a" stroke-opacity="0.7" stroke-width="0.95"/>
<line x1="484.95" y1="428.40" x2="484.95" y2="575.90" stroke="#14082a" stroke-opacity="0.7" stroke-width="0.95"/>
<line x1="490.80" y1="428.40" x2="490.80" y2="575.90" stroke="#14082a" stroke-opacity="0.7" stroke-width="0.95"/>
<line x1="432.30" y1="428.40" x2="490.80" y2="428.40" stroke="#14082a" stroke-opacity="0.7" stroke-width="0.95"/>
<line x1="432.30" y1="434.30" x2="490.80" y2="434.30" stroke="#14082a" stroke-opacity="0.7" stroke-width="0.95"/>
<line x1="432.30" y1="440.20" x2="490.80" y2="440.20" stroke="#14082a" stroke-opacity="0.7" stroke-width="0.95"/>
<line x1="432.30" y1="446.10" x2="490.80" y2="446.10" stroke="#14082a" stroke-opacity="0.7" stroke-width="0.95"/>
<line x1="432.30" y1="452.00" x2="490.80" y2="452.00" stroke="#14082a" stroke-opacity="0.7" stroke-width="0.95"/>
<line x1="432.30" y1="457.90" x2="490.80" y2="457.90" stroke="#14082a" stroke-opacity="0.7" stroke-width="0.95"/>
<line x1="432.30" y1="463.80" x2="490.80" y2="463.80" stroke="#14082a" stroke-opacity="0.7" stroke-width="0.95"/>
<line x1="432.30" y1="469.70" x2="490.80" y2="469.70" stroke="#14082a" stroke-opacity="0.7" stroke-width="0.95"/>
<line x1="432.30" y1="475.60" x2="490.80" y2="475.60" stroke="#14082a" stroke-opacity="0.7" stroke-width="0.95"/>
<line x1="432.30" y1="481.50" x2="490.80" y2="481.50" stroke="#14082a" stroke-opacity="0.7" stroke-width="0.95"/>
<line x1="432.30" y1="487.40" x2="490.80" y2="487.40" stroke="#14082a" stroke-opacity="0.7" stroke-width="0.95"/>
<line x1="432.30" y1="493.30" x2="490.80" y2="493.30" stroke="#14082a" stroke-opacity="0.7" stroke-width="0.95"/>
<line x1="432.30" y1="499.20" x2="490.80" y2="499.20" stroke="#14082a" stroke-opacity="0.7" stroke-width="0.95"/>
<line x1="432.30" y1="505.10" x2="490.80" y2="505.10" stroke="#14082a" stroke-opacity="0.7" stroke-width="0.95"/>
<line x1="432.30" y1="511.00" x2="490.80" y2="511.00" stroke="#14082a" stroke-opacity="0.7" stroke-width="0.95"/>
<line x1="432.30" y1="516.90" x2="490.80" y2="516.90" stroke="#14082a" stroke-opacity="0.7" stroke-width="0.95"/>
<line x1="432.30" y1="522.80" x2="490.80" y2="522.80" stroke="#14082a" stroke-opacity="0.7" stroke-width="0.95"/>
<line x1="432.30" y1="528.70" x2="490.80" y2="528.70" stroke="#14082a" stroke-opacity="0.7" stroke-width="0.95"/>
<line x1="432.30" y1="534.60" x2="490.80" y2="534.60" stroke="#14082a" stroke-opacity="0.7" stroke-width="0.95"/>
<line x1="432.30" y1="540.50" x2="490.80" y2="540.50" stroke="#14082a" stroke-opacity="0.7" stroke-width="0.95"/>
<line x1="432.30" y1="546.40" x2="490.80" y2="546.40" stroke="#14082a" stroke-opacity="0.7" stroke-width="0.95"/>
<line x1="432.30" y1="552.30" x2="490.80" y2="552.30" stroke="#14082a" stroke-opacity="0.7" stroke-width="0.95"/>
<line x1="432.30" y1="558.20" x2="490.80" y2="558.20" stroke="#14082a" stroke-opacity="0.7" stroke-width="0.95"/>
<line x1="432.30" y1="564.10" x2="490.80" y2="564.10" stroke="#14082a" stroke-opacity="0.7" stroke-width="0.95"/>
<line x1="432.30" y1="570.00" x2="490.80" y2="570.00" stroke="#14082a" stroke-opacity="0.7" stroke-width="0.95"/>
<line x1="432.30" y1="575.90" x2="490.80" y2="575.90" stroke="#14082a" stroke-opacity="0.7" stroke-width="0.95"/>
<line x1="490.80" y1="428.40" x2="520.00" y2="428.40" stroke="#555" stroke-width="0.8"/>
<line x1="490.80" y1="434.30" x2="520.00" y2="434.30" stroke="#555" stroke-width="0.8"/>
<line x1="490.80" y1="440.20" x2="520.00" y2="440.20" stroke="#555" stroke-width="0.8"/>
<line x1="490.80" y1="446.10" x2="520.00" y2="446.10" stroke="#555" stroke-width="0.8"/>
<line x1="490.80" y1="452.00" x2="520.00" y2="452.00" stroke="#555" stroke-width="0.8"/>
<line x1="490.80" y1="457.90" x2="520.00" y2="457.90" stroke="#555" stroke-width="0.8"/>
<line x1="490.80" y1="463.80" x2="520.00" y2="463.80" stroke="#555" stroke-width="0.8"/>
<line x1="490.80" y1="469.70" x2="520.00" y2="469.70" stroke="#555" stroke-width="0.8"/>
<line x1="490.80" y1="475.60" x2="520.00" y2="475.60" stroke="#555" stroke-width="0.8"/>
<line x1="490.80" y1="481.50" x2="520.00" y2="481.50" stroke="#555" stroke-width="0.8"/>
<line x1="490.80" y1="487.40" x2="520.00" y2="487.40" stroke="#555" stroke-width="0.8"/>
<line x1="490.80" y1="493.30" x2="520.00" y2="493.30" stroke="#555" stroke-width="0.8"/>
<line x1="490.80" y1="499.20" x2="520.00" y2="499.20" stroke="#555" stroke-width="0.8"/>
<line x1="490.80" y1="505.10" x2="520.00" y2="505.10" stroke="#555" stroke-width="0.8"/>
<line x1="490.80" y1="511.00" x2="520.00" y2="511.00" stroke="#555" stroke-width="0.8"/>
<line x1="490.80" y1="516.90" x2="520.00" y2="516.90" stroke="#555" stroke-width="0.8"/>
<line x1="490.80" y1="522.80" x2="520.00" y2="522.80" stroke="#555" stroke-width="0.8"/>
<line x1="490.80" y1="528.70" x2="520.00" y2="528.70" stroke="#555" stroke-width="0.8"/>
<line x1="490.80" y1="534.60" x2="520.00" y2="534.60" stroke="#555" stroke-width="0.8"/>
<line x1="490.80" y1="540.50" x2="520.00" y2="540.50" stroke="#555" stroke-width="0.8"/>
<line x1="490.80" y1="546.40" x2="520.00" y2="546.40" stroke="#555" stroke-width="0.8"/>
<line x1="490.80" y1="552.30" x2="520.00" y2="552.30" stroke="#555" stroke-width="0.8"/>
<line x1="490.80" y1="558.20" x2="520.00" y2="558.20" stroke="#555" stroke-width="0.8"/>
<line x1="490.80" y1="564.10" x2="520.00" y2="564.10" stroke="#555" stroke-width="0.8"/>
<line x1="490.80" y1="570.00" x2="520.00" y2="570.00" stroke="#555" stroke-width="0.8"/>
<line x1="490.80" y1="575.90" x2="520.00" y2="575.90" stroke="#555" stroke-width="0.8"/>
<text transform="translate(494.40,433.00) scale(0.92,1)" font-size="4.8" fill="#222">TYROBP</text>
<text transform="translate(494.40,438.90) scale(0.92,1)" font-size="4.8" fill="#222">CD3G</text>
<text transform="translate(494.40,444.80) scale(0.92,1)" font-size="4.8" fill="#222">CD300LF</text>
<text transform="translate(494.40,450.70) scale(0.92,1)" font-size="4.8" fill="#222">NCR1</text>
<text transform="translate(494.40,456.60) scale(0.92,1)" font-size="4.8" fill="#222">CD34</text>
<text transform="translate(494.40,462.50) scale(0.92,1)" font-size="4.8" fill="#222">LILRA1</text>
<text transform="translate(494.40,468.40) scale(0.92,1)" font-size="4.8" fill="#222">CD3E</text>
<text transform="translate(494.40,474.30) scale(0.92,1)" font-size="4.8" fill="#222">KLRD1</text>
<text transform="translate(494.40,480.20) scale(0.92,1)" font-size="4.8" fill="#222">CD33</text>
<text transform="translate(494.40,486.10) scale(0.92,1)" font-size="4.8" fill="#222">CD1A</text>
<text transform="translate(494.40,492.00) scale(0.92,1)" font-size="4.8" fill="#222">KLRC1</text>
<text transform="translate(494.40,497.90) scale(0.92,1)" font-size="4.8" fill="#222">SIGLEC6</text>
<text transform="translate(494.40,503.80) scale(0.92,1)" font-size="4.8" fill="#222">CD1B</text>
<text transform="translate(494.40,509.70) scale(0.92,1)" font-size="4.8" fill="#222">CD300LG</text>
<text transform="translate(494.40,515.60) scale(0.92,1)" font-size="4.8" fill="#222">OSCAR</text>
<text transform="translate(494.40,521.50) scale(0.92,1)" font-size="4.8" fill="#222">NCR2</text>
<text transform="translate(494.40,527.40) scale(0.92,1)" font-size="4.8" fill="#222">SIGLEC8</text>
<text transform="translate(494.40,533.30) scale(0.92,1)" font-size="4.8" fill="#222">SIGLEC9</text>
<text transform="translate(494.40,539.20) scale(0.92,1)" font-size="4.8" fill="#222">CD300C</text>
<text transform="translate(494.40,545.10) scale(0.92,1)" font-size="4.8" fill="#222">CD8A</text>
<text transform="translate(494.40,551.00) scale(0.92,1)" font-size="4.8" fill="#222">CLEC2B</text>
<text transform="translate(494.40,556.90) scale(0.92,1)" font-size="4.8" fill="#222">CLEC4G</text>
<text transform="translate(494.40,562.80) scale(0.92,1)" font-size="4.8" fill="#222">CD8B</text>
<text transform="translate(494.40,568.70) scale(0.92,1)" font-size="4.8" fill="#222">CD300E</text>
<text transform="translate(494.40,574.60) scale(0.92,1)" font-size="4.8" fill="#222">CD1D</text>
</svg></body></html>
